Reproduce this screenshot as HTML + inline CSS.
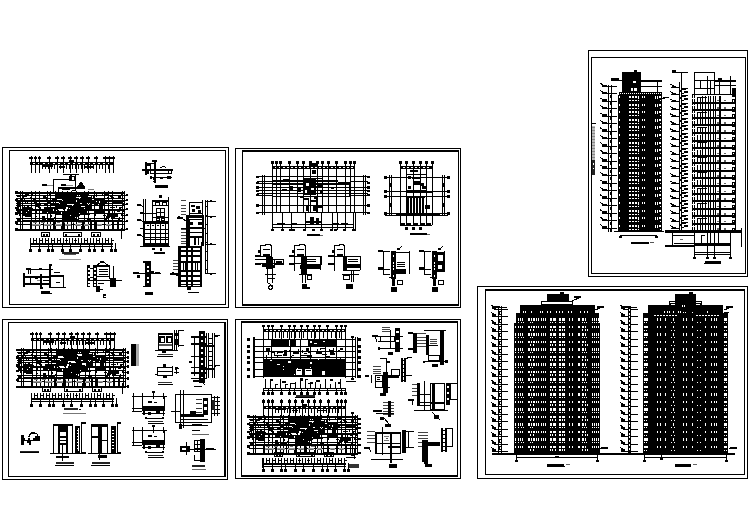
<!DOCTYPE html>
<html><head><meta charset="utf-8"><style>
html,body{margin:0;padding:0;background:#fff;width:749px;height:530px;overflow:hidden}
svg{display:block} rect{fill:#000} rect.w{fill:#fff} rect.o{fill:none;stroke:#000;stroke-width:1} line{stroke:#000;stroke-width:1}
</style></head><body>
<svg width="749" height="530" viewBox="0 0 749 530" shape-rendering="crispEdges">
<rect x="2.5" y="147.5" width="226" height="160" class="o"/>
<rect x="9.5" y="150.5" width="216" height="154" class="o"/>
<rect x="235.5" y="148.5" width="225" height="159" class="o"/>
<rect x="242.5" y="150.5" width="216" height="154" class="o"/>
<rect x="2.5" y="319.5" width="225" height="160" class="o"/>
<rect x="8.5" y="322.5" width="216" height="154" class="o"/>
<rect x="235.5" y="319.5" width="225" height="159" class="o"/>
<rect x="241.5" y="321.5" width="216" height="154" class="o"/>
<rect x="588.5" y="50.5" width="159" height="226" class="o"/>
<rect x="591.5" y="57.5" width="154" height="216" class="o"/>
<rect x="477.5" y="286.5" width="270" height="192" class="o"/>
<rect x="485.5" y="289.5" width="259" height="185" class="o"/>
<rect x="242" y="150" width="217" height="2"/>
<rect x="242" y="304" width="217" height="2"/>
<rect x="241" y="321" width="217" height="2"/>
<rect x="241" y="475" width="217" height="2"/>
<rect x="485" y="289" width="260" height="2"/>
<rect x="224" y="322" width="2" height="155"/>
<rect x="591" y="123" width="5" height="1"/>
<rect x="592" y="126" width="3" height="34" style="fill:#bbb"/>
<rect x="592" y="127" width="3" height="1" style="fill:#888"/>
<rect x="592" y="130" width="3" height="1" style="fill:#888"/>
<rect x="592" y="133" width="3" height="1" style="fill:#888"/>
<rect x="592" y="136" width="3" height="1" style="fill:#888"/>
<rect x="592" y="139" width="3" height="1" style="fill:#888"/>
<rect x="592" y="142" width="3" height="1" style="fill:#888"/>
<rect x="592" y="145" width="3" height="1" style="fill:#888"/>
<rect x="592" y="148" width="3" height="1" style="fill:#888"/>
<rect x="592" y="151" width="3" height="1" style="fill:#888"/>
<rect x="592" y="154" width="3" height="1" style="fill:#888"/>
<rect x="592" y="157" width="3" height="1" style="fill:#888"/>
<rect x="592" y="160" width="3" height="15" style="fill:#222"/>
<rect x="593" y="163" width="1" height="2" class="w"/>
<rect x="593" y="168" width="1" height="1" class="w"/>
<rect x="602" y="84.5" width="4.5" height="2.5"/>
<line x1="600" y1="83" x2="604" y2="85.5"/>
<line x1="602" y1="86.5" x2="617" y2="86.5"/>
<rect x="602" y="91.95" width="4.5" height="2.5"/>
<line x1="600" y1="90.45" x2="604" y2="92.95"/>
<line x1="602" y1="93.95" x2="617" y2="93.95"/>
<rect x="602" y="99.4" width="4.5" height="2.5"/>
<line x1="600" y1="97.9" x2="604" y2="100.4"/>
<line x1="602" y1="101.4" x2="617" y2="101.4"/>
<rect x="602" y="106.85" width="4.5" height="2.5"/>
<line x1="600" y1="105.35" x2="604" y2="107.85"/>
<line x1="602" y1="108.85" x2="617" y2="108.85"/>
<rect x="602" y="114.3" width="4.5" height="2.5"/>
<line x1="600" y1="112.8" x2="604" y2="115.3"/>
<line x1="602" y1="116.3" x2="617" y2="116.3"/>
<rect x="602" y="121.75" width="4.5" height="2.5"/>
<line x1="600" y1="120.25" x2="604" y2="122.75"/>
<line x1="602" y1="123.75" x2="617" y2="123.75"/>
<rect x="602" y="129.2" width="4.5" height="2.5"/>
<line x1="600" y1="127.7" x2="604" y2="130.2"/>
<line x1="602" y1="131.2" x2="617" y2="131.2"/>
<rect x="602" y="136.65" width="4.5" height="2.5"/>
<line x1="600" y1="135.15" x2="604" y2="137.65"/>
<line x1="602" y1="138.65" x2="617" y2="138.65"/>
<rect x="602" y="144.1" width="4.5" height="2.5"/>
<line x1="600" y1="142.6" x2="604" y2="145.1"/>
<line x1="602" y1="146.1" x2="617" y2="146.1"/>
<rect x="602" y="151.55" width="4.5" height="2.5"/>
<line x1="600" y1="150.05" x2="604" y2="152.55"/>
<line x1="602" y1="153.55" x2="617" y2="153.55"/>
<rect x="602" y="159" width="4.5" height="2.5"/>
<line x1="600" y1="157.5" x2="604" y2="160"/>
<line x1="602" y1="161" x2="617" y2="161"/>
<rect x="602" y="166.45" width="4.5" height="2.5"/>
<line x1="600" y1="164.95" x2="604" y2="167.45"/>
<line x1="602" y1="168.45" x2="617" y2="168.45"/>
<rect x="602" y="173.9" width="4.5" height="2.5"/>
<line x1="600" y1="172.4" x2="604" y2="174.9"/>
<line x1="602" y1="175.9" x2="617" y2="175.9"/>
<rect x="602" y="181.35" width="4.5" height="2.5"/>
<line x1="600" y1="179.85" x2="604" y2="182.35"/>
<line x1="602" y1="183.35" x2="617" y2="183.35"/>
<rect x="602" y="188.8" width="4.5" height="2.5"/>
<line x1="600" y1="187.3" x2="604" y2="189.8"/>
<line x1="602" y1="190.8" x2="617" y2="190.8"/>
<rect x="602" y="196.25" width="4.5" height="2.5"/>
<line x1="600" y1="194.75" x2="604" y2="197.25"/>
<line x1="602" y1="198.25" x2="617" y2="198.25"/>
<rect x="602" y="203.7" width="4.5" height="2.5"/>
<line x1="600" y1="202.2" x2="604" y2="204.7"/>
<line x1="602" y1="205.7" x2="617" y2="205.7"/>
<rect x="602" y="211.15" width="4.5" height="2.5"/>
<line x1="600" y1="209.65" x2="604" y2="212.15"/>
<line x1="602" y1="213.15" x2="617" y2="213.15"/>
<rect x="602" y="218.6" width="4.5" height="2.5"/>
<line x1="600" y1="217.1" x2="604" y2="219.6"/>
<line x1="602" y1="220.6" x2="617" y2="220.6"/>
<rect x="602" y="226.05" width="4.5" height="2.5"/>
<line x1="600" y1="224.55" x2="604" y2="227.05"/>
<line x1="602" y1="228.05" x2="617" y2="228.05"/>
<rect x="611" y="78" width="8" height="2"/>
<line x1="611" y1="80.5" x2="622" y2="80.5"/>
<line x1="608.5" y1="85" x2="608.5" y2="232"/>
<line x1="611.5" y1="85" x2="611.5" y2="232"/>
<line x1="618.5" y1="95" x2="618.5" y2="232"/>
<line x1="610.5" y1="95" x2="610.5" y2="98"/>
<line x1="610" y1="95.5" x2="612" y2="95.5"/>
<line x1="610.5" y1="102.45" x2="610.5" y2="105.45"/>
<line x1="610" y1="102.95" x2="612" y2="102.95"/>
<line x1="610.5" y1="109.9" x2="610.5" y2="112.9"/>
<line x1="610" y1="110.4" x2="612" y2="110.4"/>
<line x1="610.5" y1="117.35" x2="610.5" y2="120.35"/>
<line x1="610" y1="117.85" x2="612" y2="117.85"/>
<line x1="610.5" y1="124.8" x2="610.5" y2="127.8"/>
<line x1="610" y1="125.3" x2="612" y2="125.3"/>
<line x1="610.5" y1="132.25" x2="610.5" y2="135.25"/>
<line x1="610" y1="132.75" x2="612" y2="132.75"/>
<line x1="610.5" y1="139.7" x2="610.5" y2="142.7"/>
<line x1="610" y1="140.2" x2="612" y2="140.2"/>
<line x1="610.5" y1="147.15" x2="610.5" y2="150.15"/>
<line x1="610" y1="147.65" x2="612" y2="147.65"/>
<line x1="610.5" y1="154.6" x2="610.5" y2="157.6"/>
<line x1="610" y1="155.1" x2="612" y2="155.1"/>
<line x1="610.5" y1="162.05" x2="610.5" y2="165.05"/>
<line x1="610" y1="162.55" x2="612" y2="162.55"/>
<line x1="610.5" y1="169.5" x2="610.5" y2="172.5"/>
<line x1="610" y1="170" x2="612" y2="170"/>
<line x1="610.5" y1="176.95" x2="610.5" y2="179.95"/>
<line x1="610" y1="177.45" x2="612" y2="177.45"/>
<line x1="610.5" y1="184.4" x2="610.5" y2="187.4"/>
<line x1="610" y1="184.9" x2="612" y2="184.9"/>
<line x1="610.5" y1="191.85" x2="610.5" y2="194.85"/>
<line x1="610" y1="192.35" x2="612" y2="192.35"/>
<line x1="610.5" y1="199.3" x2="610.5" y2="202.3"/>
<line x1="610" y1="199.8" x2="612" y2="199.8"/>
<line x1="610.5" y1="206.75" x2="610.5" y2="209.75"/>
<line x1="610" y1="207.25" x2="612" y2="207.25"/>
<line x1="610.5" y1="214.2" x2="610.5" y2="217.2"/>
<line x1="610" y1="214.7" x2="612" y2="214.7"/>
<line x1="610.5" y1="221.65" x2="610.5" y2="224.65"/>
<line x1="610" y1="222.15" x2="612" y2="222.15"/>
<line x1="610.5" y1="229.1" x2="610.5" y2="232.1"/>
<line x1="610" y1="229.6" x2="612" y2="229.6"/>
<rect x="619" y="92" width="43" height="140"/>
<rect x="622" y="72" width="19" height="20"/>
<rect x="634" y="70" width="3" height="2"/>
<rect x="641" y="80" width="21" height="2"/>
<line x1="657.5" y1="82" x2="657.5" y2="92"/>
<line x1="641" y1="86.5" x2="662" y2="86.5"/>
<rect x="644" y="87" width="8" height="4" class="w"/>
<rect x="653" y="87" width="4" height="4" class="w"/>
<rect x="658" y="87" width="3" height="2" class="w"/>
<rect x="643" y="82" width="14" height="1.5" class="w"/>
<rect x="633" y="81" width="3" height="2" class="w"/>
<rect x="631" y="88" width="2" height="3" class="w"/>
<rect x="634" y="88" width="3" height="3" class="w"/>
<rect x="620" y="92.5" width="1" height="1" class="w"/>
<rect x="622" y="92.5" width="1" height="1" class="w"/>
<rect x="624" y="92.5" width="1" height="1" class="w"/>
<rect x="626" y="92.5" width="1" height="1" class="w"/>
<rect x="628" y="92.5" width="1" height="1" class="w"/>
<rect x="630" y="92.5" width="1" height="1" class="w"/>
<rect x="632" y="92.5" width="1" height="1" class="w"/>
<rect x="634" y="92.5" width="1" height="1" class="w"/>
<rect x="636" y="92.5" width="1" height="1" class="w"/>
<rect x="638" y="92.5" width="1" height="1" class="w"/>
<rect x="640" y="92.5" width="1" height="1" class="w"/>
<rect x="642" y="92.5" width="1" height="1" class="w"/>
<rect x="644" y="92.5" width="1" height="1" class="w"/>
<rect x="646" y="92.5" width="1" height="1" class="w"/>
<rect x="648" y="92.5" width="1" height="1" class="w"/>
<rect x="650" y="92.5" width="1" height="1" class="w"/>
<rect x="652" y="92.5" width="1" height="1" class="w"/>
<rect x="654" y="92.5" width="1" height="1" class="w"/>
<rect x="656" y="92.5" width="1" height="1" class="w"/>
<rect x="658" y="92.5" width="1" height="1" class="w"/>
<rect x="660" y="92.5" width="1" height="1" class="w"/>
<rect x="629" y="96" width="2" height="2" class="w"/>
<rect x="632" y="96" width="2" height="2" class="w"/>
<rect x="635" y="96" width="2" height="2" class="w"/>
<rect x="638" y="96" width="1" height="3" class="w"/>
<rect x="642" y="96" width="1" height="2" class="w"/>
<rect x="644" y="96" width="1" height="2" class="w"/>
<rect x="655" y="95.5" width="1" height="3" class="w"/>
<rect x="657" y="95.5" width="1" height="3" class="w"/>
<rect x="659" y="95.5" width="2" height="2.5" class="w"/>
<rect x="629" y="100" width="2" height="1" class="w"/>
<rect x="632" y="100" width="2" height="1" class="w"/>
<rect x="635" y="100" width="2" height="1" class="w"/>
<rect x="638" y="100" width="1" height="1" class="w"/>
<rect x="619" y="96" width="1" height="2" class="w"/>
<rect x="660" y="100" width="1" height="1" class="w"/>
<rect x="629" y="104" width="2" height="2" class="w"/>
<rect x="632" y="104" width="2" height="2" class="w"/>
<rect x="635" y="104" width="2" height="2" class="w"/>
<rect x="638" y="104" width="1" height="3" class="w"/>
<rect x="642" y="104" width="1" height="2" class="w"/>
<rect x="644" y="104" width="1" height="2" class="w"/>
<rect x="655" y="103.5" width="1" height="3" class="w"/>
<rect x="657" y="103.5" width="1" height="3" class="w"/>
<rect x="659" y="103.5" width="2" height="2.5" class="w"/>
<rect x="629" y="108" width="2" height="1" class="w"/>
<rect x="632" y="108" width="2" height="1" class="w"/>
<rect x="635" y="108" width="2" height="1" class="w"/>
<rect x="638" y="108" width="1" height="1" class="w"/>
<rect x="619" y="104" width="1" height="2" class="w"/>
<rect x="660" y="108" width="1" height="1" class="w"/>
<rect x="629" y="111" width="2" height="2" class="w"/>
<rect x="632" y="111" width="2" height="2" class="w"/>
<rect x="635" y="111" width="2" height="2" class="w"/>
<rect x="638" y="111" width="1" height="3" class="w"/>
<rect x="642" y="111" width="1" height="2" class="w"/>
<rect x="644" y="111" width="1" height="2" class="w"/>
<rect x="655" y="110.5" width="1" height="3" class="w"/>
<rect x="657" y="110.5" width="1" height="3" class="w"/>
<rect x="659" y="110.5" width="2" height="2.5" class="w"/>
<rect x="629" y="115" width="2" height="1" class="w"/>
<rect x="632" y="115" width="2" height="1" class="w"/>
<rect x="635" y="115" width="2" height="1" class="w"/>
<rect x="638" y="115" width="1" height="1" class="w"/>
<rect x="619" y="111" width="1" height="2" class="w"/>
<rect x="660" y="115" width="1" height="1" class="w"/>
<rect x="629" y="119" width="2" height="2" class="w"/>
<rect x="632" y="119" width="2" height="2" class="w"/>
<rect x="635" y="119" width="2" height="2" class="w"/>
<rect x="638" y="119" width="1" height="3" class="w"/>
<rect x="642" y="119" width="1" height="2" class="w"/>
<rect x="644" y="119" width="1" height="2" class="w"/>
<rect x="655" y="118.5" width="1" height="3" class="w"/>
<rect x="657" y="118.5" width="1" height="3" class="w"/>
<rect x="659" y="118.5" width="2" height="2.5" class="w"/>
<rect x="629" y="123" width="2" height="1" class="w"/>
<rect x="632" y="123" width="2" height="1" class="w"/>
<rect x="635" y="123" width="2" height="1" class="w"/>
<rect x="638" y="123" width="1" height="1" class="w"/>
<rect x="619" y="119" width="1" height="2" class="w"/>
<rect x="660" y="123" width="1" height="1" class="w"/>
<rect x="629" y="126" width="2" height="2" class="w"/>
<rect x="632" y="126" width="2" height="2" class="w"/>
<rect x="635" y="126" width="2" height="2" class="w"/>
<rect x="638" y="126" width="1" height="3" class="w"/>
<rect x="642" y="126" width="1" height="2" class="w"/>
<rect x="644" y="126" width="1" height="2" class="w"/>
<rect x="655" y="125.5" width="1" height="3" class="w"/>
<rect x="657" y="125.5" width="1" height="3" class="w"/>
<rect x="659" y="125.5" width="2" height="2.5" class="w"/>
<rect x="629" y="130" width="2" height="1" class="w"/>
<rect x="632" y="130" width="2" height="1" class="w"/>
<rect x="635" y="130" width="2" height="1" class="w"/>
<rect x="638" y="130" width="1" height="1" class="w"/>
<rect x="619" y="126" width="1" height="2" class="w"/>
<rect x="660" y="130" width="1" height="1" class="w"/>
<rect x="629" y="134" width="2" height="2" class="w"/>
<rect x="632" y="134" width="2" height="2" class="w"/>
<rect x="635" y="134" width="2" height="2" class="w"/>
<rect x="638" y="134" width="1" height="3" class="w"/>
<rect x="642" y="134" width="1" height="2" class="w"/>
<rect x="644" y="134" width="1" height="2" class="w"/>
<rect x="655" y="133.5" width="1" height="3" class="w"/>
<rect x="657" y="133.5" width="1" height="3" class="w"/>
<rect x="659" y="133.5" width="2" height="2.5" class="w"/>
<rect x="629" y="138" width="2" height="1" class="w"/>
<rect x="632" y="138" width="2" height="1" class="w"/>
<rect x="635" y="138" width="2" height="1" class="w"/>
<rect x="638" y="138" width="1" height="1" class="w"/>
<rect x="619" y="134" width="1" height="2" class="w"/>
<rect x="660" y="138" width="1" height="1" class="w"/>
<rect x="629" y="142" width="2" height="2" class="w"/>
<rect x="632" y="142" width="2" height="2" class="w"/>
<rect x="635" y="142" width="2" height="2" class="w"/>
<rect x="638" y="142" width="1" height="3" class="w"/>
<rect x="642" y="142" width="1" height="2" class="w"/>
<rect x="644" y="142" width="1" height="2" class="w"/>
<rect x="655" y="141.5" width="1" height="3" class="w"/>
<rect x="657" y="141.5" width="1" height="3" class="w"/>
<rect x="659" y="141.5" width="2" height="2.5" class="w"/>
<rect x="629" y="146" width="2" height="1" class="w"/>
<rect x="632" y="146" width="2" height="1" class="w"/>
<rect x="635" y="146" width="2" height="1" class="w"/>
<rect x="638" y="146" width="1" height="1" class="w"/>
<rect x="619" y="142" width="1" height="2" class="w"/>
<rect x="660" y="146" width="1" height="1" class="w"/>
<rect x="629" y="149" width="2" height="2" class="w"/>
<rect x="632" y="149" width="2" height="2" class="w"/>
<rect x="635" y="149" width="2" height="2" class="w"/>
<rect x="638" y="149" width="1" height="3" class="w"/>
<rect x="642" y="149" width="1" height="2" class="w"/>
<rect x="644" y="149" width="1" height="2" class="w"/>
<rect x="655" y="148.5" width="1" height="3" class="w"/>
<rect x="657" y="148.5" width="1" height="3" class="w"/>
<rect x="659" y="148.5" width="2" height="2.5" class="w"/>
<rect x="629" y="153" width="2" height="1" class="w"/>
<rect x="632" y="153" width="2" height="1" class="w"/>
<rect x="635" y="153" width="2" height="1" class="w"/>
<rect x="638" y="153" width="1" height="1" class="w"/>
<rect x="619" y="149" width="1" height="2" class="w"/>
<rect x="660" y="153" width="1" height="1" class="w"/>
<rect x="629" y="157" width="2" height="2" class="w"/>
<rect x="632" y="157" width="2" height="2" class="w"/>
<rect x="635" y="157" width="2" height="2" class="w"/>
<rect x="638" y="157" width="1" height="3" class="w"/>
<rect x="642" y="157" width="1" height="2" class="w"/>
<rect x="644" y="157" width="1" height="2" class="w"/>
<rect x="655" y="156.5" width="1" height="3" class="w"/>
<rect x="657" y="156.5" width="1" height="3" class="w"/>
<rect x="659" y="156.5" width="2" height="2.5" class="w"/>
<rect x="629" y="161" width="2" height="1" class="w"/>
<rect x="632" y="161" width="2" height="1" class="w"/>
<rect x="635" y="161" width="2" height="1" class="w"/>
<rect x="638" y="161" width="1" height="1" class="w"/>
<rect x="619" y="157" width="1" height="2" class="w"/>
<rect x="660" y="161" width="1" height="1" class="w"/>
<rect x="629" y="164" width="2" height="2" class="w"/>
<rect x="632" y="164" width="2" height="2" class="w"/>
<rect x="635" y="164" width="2" height="2" class="w"/>
<rect x="638" y="164" width="1" height="3" class="w"/>
<rect x="642" y="164" width="1" height="2" class="w"/>
<rect x="644" y="164" width="1" height="2" class="w"/>
<rect x="655" y="163.5" width="1" height="3" class="w"/>
<rect x="657" y="163.5" width="1" height="3" class="w"/>
<rect x="659" y="163.5" width="2" height="2.5" class="w"/>
<rect x="629" y="168" width="2" height="1" class="w"/>
<rect x="632" y="168" width="2" height="1" class="w"/>
<rect x="635" y="168" width="2" height="1" class="w"/>
<rect x="638" y="168" width="1" height="1" class="w"/>
<rect x="619" y="164" width="1" height="2" class="w"/>
<rect x="660" y="168" width="1" height="1" class="w"/>
<rect x="629" y="172" width="2" height="2" class="w"/>
<rect x="632" y="172" width="2" height="2" class="w"/>
<rect x="635" y="172" width="2" height="2" class="w"/>
<rect x="638" y="172" width="1" height="3" class="w"/>
<rect x="642" y="172" width="1" height="2" class="w"/>
<rect x="644" y="172" width="1" height="2" class="w"/>
<rect x="655" y="171.5" width="1" height="3" class="w"/>
<rect x="657" y="171.5" width="1" height="3" class="w"/>
<rect x="659" y="171.5" width="2" height="2.5" class="w"/>
<rect x="629" y="176" width="2" height="1" class="w"/>
<rect x="632" y="176" width="2" height="1" class="w"/>
<rect x="635" y="176" width="2" height="1" class="w"/>
<rect x="638" y="176" width="1" height="1" class="w"/>
<rect x="619" y="172" width="1" height="2" class="w"/>
<rect x="660" y="176" width="1" height="1" class="w"/>
<rect x="629" y="179" width="2" height="2" class="w"/>
<rect x="632" y="179" width="2" height="2" class="w"/>
<rect x="635" y="179" width="2" height="2" class="w"/>
<rect x="638" y="179" width="1" height="3" class="w"/>
<rect x="642" y="179" width="1" height="2" class="w"/>
<rect x="644" y="179" width="1" height="2" class="w"/>
<rect x="655" y="178.5" width="1" height="3" class="w"/>
<rect x="657" y="178.5" width="1" height="3" class="w"/>
<rect x="659" y="178.5" width="2" height="2.5" class="w"/>
<rect x="629" y="183" width="2" height="1" class="w"/>
<rect x="632" y="183" width="2" height="1" class="w"/>
<rect x="635" y="183" width="2" height="1" class="w"/>
<rect x="638" y="183" width="1" height="1" class="w"/>
<rect x="619" y="179" width="1" height="2" class="w"/>
<rect x="660" y="183" width="1" height="1" class="w"/>
<rect x="629" y="187" width="2" height="2" class="w"/>
<rect x="632" y="187" width="2" height="2" class="w"/>
<rect x="635" y="187" width="2" height="2" class="w"/>
<rect x="638" y="187" width="1" height="3" class="w"/>
<rect x="642" y="187" width="1" height="2" class="w"/>
<rect x="644" y="187" width="1" height="2" class="w"/>
<rect x="655" y="186.5" width="1" height="3" class="w"/>
<rect x="657" y="186.5" width="1" height="3" class="w"/>
<rect x="659" y="186.5" width="2" height="2.5" class="w"/>
<rect x="629" y="191" width="2" height="1" class="w"/>
<rect x="632" y="191" width="2" height="1" class="w"/>
<rect x="635" y="191" width="2" height="1" class="w"/>
<rect x="638" y="191" width="1" height="1" class="w"/>
<rect x="619" y="187" width="1" height="2" class="w"/>
<rect x="660" y="191" width="1" height="1" class="w"/>
<rect x="629" y="194" width="2" height="2" class="w"/>
<rect x="632" y="194" width="2" height="2" class="w"/>
<rect x="635" y="194" width="2" height="2" class="w"/>
<rect x="638" y="194" width="1" height="3" class="w"/>
<rect x="642" y="194" width="1" height="2" class="w"/>
<rect x="644" y="194" width="1" height="2" class="w"/>
<rect x="655" y="193.5" width="1" height="3" class="w"/>
<rect x="657" y="193.5" width="1" height="3" class="w"/>
<rect x="659" y="193.5" width="2" height="2.5" class="w"/>
<rect x="629" y="198" width="2" height="1" class="w"/>
<rect x="632" y="198" width="2" height="1" class="w"/>
<rect x="635" y="198" width="2" height="1" class="w"/>
<rect x="638" y="198" width="1" height="1" class="w"/>
<rect x="619" y="194" width="1" height="2" class="w"/>
<rect x="660" y="198" width="1" height="1" class="w"/>
<rect x="629" y="202" width="2" height="2" class="w"/>
<rect x="632" y="202" width="2" height="2" class="w"/>
<rect x="635" y="202" width="2" height="2" class="w"/>
<rect x="638" y="202" width="1" height="3" class="w"/>
<rect x="642" y="202" width="1" height="2" class="w"/>
<rect x="644" y="202" width="1" height="2" class="w"/>
<rect x="655" y="201.5" width="1" height="3" class="w"/>
<rect x="657" y="201.5" width="1" height="3" class="w"/>
<rect x="659" y="201.5" width="2" height="2.5" class="w"/>
<rect x="629" y="206" width="2" height="1" class="w"/>
<rect x="632" y="206" width="2" height="1" class="w"/>
<rect x="635" y="206" width="2" height="1" class="w"/>
<rect x="638" y="206" width="1" height="1" class="w"/>
<rect x="619" y="202" width="1" height="2" class="w"/>
<rect x="660" y="206" width="1" height="1" class="w"/>
<rect x="629" y="210" width="2" height="2" class="w"/>
<rect x="632" y="210" width="2" height="2" class="w"/>
<rect x="635" y="210" width="2" height="2" class="w"/>
<rect x="638" y="210" width="1" height="3" class="w"/>
<rect x="642" y="210" width="1" height="2" class="w"/>
<rect x="644" y="210" width="1" height="2" class="w"/>
<rect x="655" y="209.5" width="1" height="3" class="w"/>
<rect x="657" y="209.5" width="1" height="3" class="w"/>
<rect x="659" y="209.5" width="2" height="2.5" class="w"/>
<rect x="629" y="214" width="2" height="1" class="w"/>
<rect x="632" y="214" width="2" height="1" class="w"/>
<rect x="635" y="214" width="2" height="1" class="w"/>
<rect x="638" y="214" width="1" height="1" class="w"/>
<rect x="619" y="210" width="1" height="2" class="w"/>
<rect x="660" y="214" width="1" height="1" class="w"/>
<rect x="629" y="217" width="2" height="2" class="w"/>
<rect x="632" y="217" width="2" height="2" class="w"/>
<rect x="635" y="217" width="2" height="2" class="w"/>
<rect x="638" y="217" width="1" height="3" class="w"/>
<rect x="642" y="217" width="1" height="2" class="w"/>
<rect x="644" y="217" width="1" height="2" class="w"/>
<rect x="655" y="216.5" width="1" height="3" class="w"/>
<rect x="657" y="216.5" width="1" height="3" class="w"/>
<rect x="659" y="216.5" width="2" height="2.5" class="w"/>
<rect x="629" y="221" width="2" height="1" class="w"/>
<rect x="632" y="221" width="2" height="1" class="w"/>
<rect x="635" y="221" width="2" height="1" class="w"/>
<rect x="638" y="221" width="1" height="1" class="w"/>
<rect x="619" y="217" width="1" height="2" class="w"/>
<rect x="660" y="221" width="1" height="1" class="w"/>
<rect x="629" y="225" width="2" height="2" class="w"/>
<rect x="632" y="225" width="2" height="2" class="w"/>
<rect x="635" y="225" width="2" height="2" class="w"/>
<rect x="638" y="225" width="1" height="3" class="w"/>
<rect x="642" y="225" width="1" height="2" class="w"/>
<rect x="644" y="225" width="1" height="2" class="w"/>
<rect x="655" y="224.5" width="1" height="3" class="w"/>
<rect x="657" y="224.5" width="1" height="3" class="w"/>
<rect x="659" y="224.5" width="2" height="2.5" class="w"/>
<rect x="629" y="229" width="2" height="1" class="w"/>
<rect x="632" y="229" width="2" height="1" class="w"/>
<rect x="635" y="229" width="2" height="1" class="w"/>
<rect x="638" y="229" width="1" height="1" class="w"/>
<rect x="619" y="225" width="1" height="2" class="w"/>
<rect x="660" y="229" width="1" height="1" class="w"/>
<line x1="614" y1="231.5" x2="664" y2="231.5"/>
<line x1="620" y1="235.5" x2="657" y2="235.5"/>
<rect x="619" y="236" width="3" height="2"/>
<rect x="655" y="236" width="3" height="2"/>
<rect x="631" y="242" width="18" height="2"/>
<rect x="650" y="242" width="4" height="1" style="fill:#555"/>
<line x1="662" y1="98.5" x2="669" y2="97.5"/>
<rect x="663" y="96.5" width="6" height="1.5"/>
<rect x="672" y="85.5" width="4" height="2"/>
<line x1="670" y1="84" x2="674" y2="86"/>
<line x1="671" y1="87" x2="680" y2="87"/>
<rect x="672" y="92.95" width="4" height="2"/>
<line x1="670" y1="91.45" x2="674" y2="93.45"/>
<line x1="671" y1="94.45" x2="680" y2="94.45"/>
<rect x="672" y="100.4" width="4" height="2"/>
<line x1="670" y1="98.9" x2="674" y2="100.9"/>
<line x1="671" y1="101.9" x2="680" y2="101.9"/>
<rect x="672" y="107.85" width="4" height="2"/>
<line x1="670" y1="106.35" x2="674" y2="108.35"/>
<line x1="671" y1="109.35" x2="680" y2="109.35"/>
<rect x="672" y="115.3" width="4" height="2"/>
<line x1="670" y1="113.8" x2="674" y2="115.8"/>
<line x1="671" y1="116.8" x2="680" y2="116.8"/>
<rect x="672" y="122.75" width="4" height="2"/>
<line x1="670" y1="121.25" x2="674" y2="123.25"/>
<line x1="671" y1="124.25" x2="680" y2="124.25"/>
<rect x="672" y="130.2" width="4" height="2"/>
<line x1="670" y1="128.7" x2="674" y2="130.7"/>
<line x1="671" y1="131.7" x2="680" y2="131.7"/>
<rect x="672" y="137.65" width="4" height="2"/>
<line x1="670" y1="136.15" x2="674" y2="138.15"/>
<line x1="671" y1="139.15" x2="680" y2="139.15"/>
<rect x="672" y="145.1" width="4" height="2"/>
<line x1="670" y1="143.6" x2="674" y2="145.6"/>
<line x1="671" y1="146.6" x2="680" y2="146.6"/>
<rect x="672" y="152.55" width="4" height="2"/>
<line x1="670" y1="151.05" x2="674" y2="153.05"/>
<line x1="671" y1="154.05" x2="680" y2="154.05"/>
<rect x="672" y="160" width="4" height="2"/>
<line x1="670" y1="158.5" x2="674" y2="160.5"/>
<line x1="671" y1="161.5" x2="680" y2="161.5"/>
<rect x="672" y="167.45" width="4" height="2"/>
<line x1="670" y1="165.95" x2="674" y2="167.95"/>
<line x1="671" y1="168.95" x2="680" y2="168.95"/>
<rect x="672" y="174.9" width="4" height="2"/>
<line x1="670" y1="173.4" x2="674" y2="175.4"/>
<line x1="671" y1="176.4" x2="680" y2="176.4"/>
<rect x="672" y="182.35" width="4" height="2"/>
<line x1="670" y1="180.85" x2="674" y2="182.85"/>
<line x1="671" y1="183.85" x2="680" y2="183.85"/>
<rect x="672" y="189.8" width="4" height="2"/>
<line x1="670" y1="188.3" x2="674" y2="190.3"/>
<line x1="671" y1="191.3" x2="680" y2="191.3"/>
<rect x="672" y="197.25" width="4" height="2"/>
<line x1="670" y1="195.75" x2="674" y2="197.75"/>
<line x1="671" y1="198.75" x2="680" y2="198.75"/>
<rect x="672" y="204.7" width="4" height="2"/>
<line x1="670" y1="203.2" x2="674" y2="205.2"/>
<line x1="671" y1="206.2" x2="680" y2="206.2"/>
<rect x="672" y="212.15" width="4" height="2"/>
<line x1="670" y1="210.65" x2="674" y2="212.65"/>
<line x1="671" y1="213.65" x2="680" y2="213.65"/>
<rect x="672" y="219.6" width="4" height="2"/>
<line x1="670" y1="218.1" x2="674" y2="220.1"/>
<line x1="671" y1="221.1" x2="680" y2="221.1"/>
<rect x="672" y="227.05" width="4" height="2"/>
<line x1="670" y1="225.55" x2="674" y2="227.55"/>
<line x1="671" y1="228.55" x2="680" y2="228.55"/>
<rect x="672" y="70" width="4" height="2.5"/>
<line x1="672" y1="72.5" x2="688" y2="72.5"/>
<line x1="681.5" y1="72" x2="681.5" y2="232"/>
<line x1="679.5" y1="82" x2="679.5" y2="232"/>
<rect x="682" y="88" width="4" height="2"/>
<rect x="684" y="91" width="4" height="2"/>
<rect x="682" y="93" width="2" height="1"/>
<rect x="680" y="90" width="1" height="2"/>
<rect x="686" y="88" width="2" height="1"/>
<rect x="682" y="95.45" width="4" height="2"/>
<rect x="684" y="98.45" width="4" height="2"/>
<rect x="682" y="100.45" width="2" height="1"/>
<rect x="680" y="97.45" width="1" height="2"/>
<rect x="686" y="95.45" width="2" height="1"/>
<rect x="682" y="102.9" width="4" height="2"/>
<rect x="684" y="105.9" width="4" height="2"/>
<rect x="682" y="107.9" width="2" height="1"/>
<rect x="680" y="104.9" width="1" height="2"/>
<rect x="686" y="102.9" width="2" height="1"/>
<rect x="682" y="110.35" width="4" height="2"/>
<rect x="684" y="113.35" width="4" height="2"/>
<rect x="682" y="115.35" width="2" height="1"/>
<rect x="680" y="112.35" width="1" height="2"/>
<rect x="686" y="110.35" width="2" height="1"/>
<rect x="682" y="117.8" width="4" height="2"/>
<rect x="684" y="120.8" width="4" height="2"/>
<rect x="682" y="122.8" width="2" height="1"/>
<rect x="680" y="119.8" width="1" height="2"/>
<rect x="686" y="117.8" width="2" height="1"/>
<rect x="682" y="125.25" width="4" height="2"/>
<rect x="684" y="128.25" width="4" height="2"/>
<rect x="682" y="130.25" width="2" height="1"/>
<rect x="680" y="127.25" width="1" height="2"/>
<rect x="686" y="125.25" width="2" height="1"/>
<rect x="682" y="132.7" width="4" height="2"/>
<rect x="684" y="135.7" width="4" height="2"/>
<rect x="682" y="137.7" width="2" height="1"/>
<rect x="680" y="134.7" width="1" height="2"/>
<rect x="686" y="132.7" width="2" height="1"/>
<rect x="682" y="140.15" width="4" height="2"/>
<rect x="684" y="143.15" width="4" height="2"/>
<rect x="682" y="145.15" width="2" height="1"/>
<rect x="680" y="142.15" width="1" height="2"/>
<rect x="686" y="140.15" width="2" height="1"/>
<rect x="682" y="147.6" width="4" height="2"/>
<rect x="684" y="150.6" width="4" height="2"/>
<rect x="682" y="152.6" width="2" height="1"/>
<rect x="680" y="149.6" width="1" height="2"/>
<rect x="686" y="147.6" width="2" height="1"/>
<rect x="682" y="155.05" width="4" height="2"/>
<rect x="684" y="158.05" width="4" height="2"/>
<rect x="682" y="160.05" width="2" height="1"/>
<rect x="680" y="157.05" width="1" height="2"/>
<rect x="686" y="155.05" width="2" height="1"/>
<rect x="682" y="162.5" width="4" height="2"/>
<rect x="684" y="165.5" width="4" height="2"/>
<rect x="682" y="167.5" width="2" height="1"/>
<rect x="680" y="164.5" width="1" height="2"/>
<rect x="686" y="162.5" width="2" height="1"/>
<rect x="682" y="169.95" width="4" height="2"/>
<rect x="684" y="172.95" width="4" height="2"/>
<rect x="682" y="174.95" width="2" height="1"/>
<rect x="680" y="171.95" width="1" height="2"/>
<rect x="686" y="169.95" width="2" height="1"/>
<rect x="682" y="177.4" width="4" height="2"/>
<rect x="684" y="180.4" width="4" height="2"/>
<rect x="682" y="182.4" width="2" height="1"/>
<rect x="680" y="179.4" width="1" height="2"/>
<rect x="686" y="177.4" width="2" height="1"/>
<rect x="682" y="184.85" width="4" height="2"/>
<rect x="684" y="187.85" width="4" height="2"/>
<rect x="682" y="189.85" width="2" height="1"/>
<rect x="680" y="186.85" width="1" height="2"/>
<rect x="686" y="184.85" width="2" height="1"/>
<rect x="682" y="192.3" width="4" height="2"/>
<rect x="684" y="195.3" width="4" height="2"/>
<rect x="682" y="197.3" width="2" height="1"/>
<rect x="680" y="194.3" width="1" height="2"/>
<rect x="686" y="192.3" width="2" height="1"/>
<rect x="682" y="199.75" width="4" height="2"/>
<rect x="684" y="202.75" width="4" height="2"/>
<rect x="682" y="204.75" width="2" height="1"/>
<rect x="680" y="201.75" width="1" height="2"/>
<rect x="686" y="199.75" width="2" height="1"/>
<rect x="682" y="207.2" width="4" height="2"/>
<rect x="684" y="210.2" width="4" height="2"/>
<rect x="682" y="212.2" width="2" height="1"/>
<rect x="680" y="209.2" width="1" height="2"/>
<rect x="686" y="207.2" width="2" height="1"/>
<rect x="682" y="214.65" width="4" height="2"/>
<rect x="684" y="217.65" width="4" height="2"/>
<rect x="682" y="219.65" width="2" height="1"/>
<rect x="680" y="216.65" width="1" height="2"/>
<rect x="686" y="214.65" width="2" height="1"/>
<rect x="682" y="222.1" width="4" height="2"/>
<rect x="684" y="225.1" width="4" height="2"/>
<rect x="682" y="227.1" width="2" height="1"/>
<rect x="680" y="224.1" width="1" height="2"/>
<rect x="686" y="222.1" width="2" height="1"/>
<rect x="694.5" y="72.5" width="20" height="8" class="o"/>
<line x1="694.5" y1="88.5" x2="714.5" y2="88.5"/>
<line x1="694.5" y1="80.5" x2="694.5" y2="94"/>
<line x1="700.5" y1="81" x2="700.5" y2="88"/>
<line x1="707.5" y1="76" x2="707.5" y2="94"/>
<line x1="710.5" y1="81" x2="710.5" y2="94"/>
<rect x="714" y="80" width="22" height="2"/>
<rect x="718" y="78" width="4" height="2"/>
<line x1="730.5" y1="76" x2="730.5" y2="94"/>
<line x1="714.5" y1="82" x2="714.5" y2="94"/>
<line x1="719.5" y1="82" x2="719.5" y2="94"/>
<line x1="714" y1="85.5" x2="736" y2="85.5"/>
<rect x="732" y="88" width="4" height="144"/>
<line x1="692.5" y1="94" x2="692.5" y2="230"/>
<line x1="694.5" y1="94" x2="694.5" y2="230"/>
<line x1="692" y1="94.5" x2="736" y2="94.5"/>
<rect x="692" y="101.8" width="44" height="2"/>
<line x1="702.5" y1="96.3" x2="702.5" y2="101.8"/>
<line x1="705.5" y1="96.3" x2="705.5" y2="101.8"/>
<line x1="697" y1="97.3" x2="707" y2="97.3"/>
<line x1="697.5" y1="96.8" x2="697.5" y2="101.8"/>
<line x1="700" y1="96.8" x2="700" y2="101.8"/>
<rect x="692" y="97.8" width="3" height="1" class="w"/>
<rect x="707.5" y="95.8" width="1.5" height="7"/>
<rect x="712.5" y="95.8" width="1.5" height="7"/>
<line x1="710.5" y1="95.8" x2="710.5" y2="101.8"/>
<line x1="715.5" y1="95.8" x2="715.5" y2="102.8"/>
<rect x="719" y="95.8" width="1.5" height="7"/>
<rect x="716.5" y="99.8" width="2" height="1.5" style="fill:#666"/>
<rect x="724" y="99.8" width="2" height="1.5" style="fill:#666"/>
<rect x="732" y="96.8" width="2.5" height="2.5" class="w"/>
<rect x="732.5" y="100.3" width="1.5" height="1.2" class="w"/>
<rect x="692" y="109.36" width="44" height="2"/>
<line x1="702.5" y1="103.86" x2="702.5" y2="109.36"/>
<line x1="705.5" y1="103.86" x2="705.5" y2="109.36"/>
<line x1="697.5" y1="104.36" x2="697.5" y2="109.36"/>
<line x1="700" y1="104.36" x2="700" y2="109.36"/>
<rect x="692" y="105.36" width="3" height="1" class="w"/>
<rect x="707.5" y="103.36" width="1.5" height="7"/>
<rect x="712.5" y="103.36" width="1.5" height="7"/>
<line x1="710.5" y1="103.36" x2="710.5" y2="109.36"/>
<line x1="715.5" y1="103.36" x2="715.5" y2="110.36"/>
<rect x="719" y="103.36" width="1.5" height="7"/>
<rect x="716.5" y="107.36" width="2" height="1.5" style="fill:#666"/>
<rect x="724" y="107.36" width="2" height="1.5" style="fill:#666"/>
<rect x="732" y="104.36" width="2.5" height="2.5" class="w"/>
<rect x="732.5" y="107.86" width="1.5" height="1.2" class="w"/>
<rect x="692" y="116.92" width="44" height="2"/>
<line x1="702.5" y1="111.42" x2="702.5" y2="116.92"/>
<line x1="705.5" y1="111.42" x2="705.5" y2="116.92"/>
<line x1="697" y1="112.42" x2="707" y2="112.42"/>
<line x1="697.5" y1="111.92" x2="697.5" y2="116.92"/>
<line x1="700" y1="111.92" x2="700" y2="116.92"/>
<rect x="692" y="112.92" width="3" height="1" class="w"/>
<rect x="707.5" y="110.92" width="1.5" height="7"/>
<rect x="712.5" y="110.92" width="1.5" height="7"/>
<line x1="710.5" y1="110.92" x2="710.5" y2="116.92"/>
<line x1="715.5" y1="110.92" x2="715.5" y2="117.92"/>
<rect x="719" y="110.92" width="1.5" height="7"/>
<rect x="716.5" y="114.92" width="2" height="1.5" style="fill:#666"/>
<rect x="724" y="114.92" width="2" height="1.5" style="fill:#666"/>
<rect x="732" y="111.92" width="2.5" height="2.5" class="w"/>
<rect x="732.5" y="115.42" width="1.5" height="1.2" class="w"/>
<rect x="692" y="124.48" width="44" height="2"/>
<line x1="702.5" y1="118.98" x2="702.5" y2="124.48"/>
<line x1="705.5" y1="118.98" x2="705.5" y2="124.48"/>
<line x1="697.5" y1="119.48" x2="697.5" y2="124.48"/>
<line x1="700" y1="119.48" x2="700" y2="124.48"/>
<rect x="692" y="120.48" width="3" height="1" class="w"/>
<rect x="707.5" y="118.48" width="1.5" height="7"/>
<rect x="712.5" y="118.48" width="1.5" height="7"/>
<line x1="710.5" y1="118.48" x2="710.5" y2="124.48"/>
<line x1="715.5" y1="118.48" x2="715.5" y2="125.48"/>
<rect x="719" y="118.48" width="1.5" height="7"/>
<rect x="716.5" y="122.48" width="2" height="1.5" style="fill:#666"/>
<rect x="724" y="122.48" width="2" height="1.5" style="fill:#666"/>
<rect x="732" y="119.48" width="2.5" height="2.5" class="w"/>
<rect x="732.5" y="122.98" width="1.5" height="1.2" class="w"/>
<rect x="692" y="132.04" width="44" height="2"/>
<line x1="702.5" y1="126.54" x2="702.5" y2="132.04"/>
<line x1="705.5" y1="126.54" x2="705.5" y2="132.04"/>
<line x1="697" y1="127.54" x2="707" y2="127.54"/>
<line x1="697.5" y1="127.04" x2="697.5" y2="132.04"/>
<line x1="700" y1="127.04" x2="700" y2="132.04"/>
<rect x="692" y="128.04" width="3" height="1" class="w"/>
<rect x="707.5" y="126.04" width="1.5" height="7"/>
<rect x="712.5" y="126.04" width="1.5" height="7"/>
<line x1="710.5" y1="126.04" x2="710.5" y2="132.04"/>
<line x1="715.5" y1="126.04" x2="715.5" y2="133.04"/>
<rect x="719" y="126.04" width="1.5" height="7"/>
<rect x="716.5" y="130.04" width="2" height="1.5" style="fill:#666"/>
<rect x="724" y="130.04" width="2" height="1.5" style="fill:#666"/>
<rect x="732" y="127.04" width="2.5" height="2.5" class="w"/>
<rect x="732.5" y="130.54" width="1.5" height="1.2" class="w"/>
<rect x="692" y="139.6" width="44" height="2"/>
<line x1="702.5" y1="134.1" x2="702.5" y2="139.6"/>
<line x1="705.5" y1="134.1" x2="705.5" y2="139.6"/>
<line x1="697.5" y1="134.6" x2="697.5" y2="139.6"/>
<line x1="700" y1="134.6" x2="700" y2="139.6"/>
<rect x="692" y="135.6" width="3" height="1" class="w"/>
<rect x="707.5" y="133.6" width="1.5" height="7"/>
<rect x="712.5" y="133.6" width="1.5" height="7"/>
<line x1="710.5" y1="133.6" x2="710.5" y2="139.6"/>
<line x1="715.5" y1="133.6" x2="715.5" y2="140.6"/>
<rect x="719" y="133.6" width="1.5" height="7"/>
<rect x="716.5" y="137.6" width="2" height="1.5" style="fill:#666"/>
<rect x="724" y="137.6" width="2" height="1.5" style="fill:#666"/>
<rect x="732" y="134.6" width="2.5" height="2.5" class="w"/>
<rect x="732.5" y="138.1" width="1.5" height="1.2" class="w"/>
<rect x="692" y="147.16" width="44" height="2"/>
<line x1="702.5" y1="141.66" x2="702.5" y2="147.16"/>
<line x1="705.5" y1="141.66" x2="705.5" y2="147.16"/>
<line x1="697" y1="142.66" x2="707" y2="142.66"/>
<line x1="697.5" y1="142.16" x2="697.5" y2="147.16"/>
<line x1="700" y1="142.16" x2="700" y2="147.16"/>
<rect x="692" y="143.16" width="3" height="1" class="w"/>
<rect x="707.5" y="141.16" width="1.5" height="7"/>
<rect x="712.5" y="141.16" width="1.5" height="7"/>
<line x1="710.5" y1="141.16" x2="710.5" y2="147.16"/>
<line x1="715.5" y1="141.16" x2="715.5" y2="148.16"/>
<rect x="719" y="141.16" width="1.5" height="7"/>
<rect x="716.5" y="145.16" width="2" height="1.5" style="fill:#666"/>
<rect x="724" y="145.16" width="2" height="1.5" style="fill:#666"/>
<rect x="732" y="142.16" width="2.5" height="2.5" class="w"/>
<rect x="732.5" y="145.66" width="1.5" height="1.2" class="w"/>
<rect x="692" y="154.72" width="44" height="2"/>
<line x1="702.5" y1="149.22" x2="702.5" y2="154.72"/>
<line x1="705.5" y1="149.22" x2="705.5" y2="154.72"/>
<line x1="697.5" y1="149.72" x2="697.5" y2="154.72"/>
<line x1="700" y1="149.72" x2="700" y2="154.72"/>
<rect x="692" y="150.72" width="3" height="1" class="w"/>
<rect x="707.5" y="148.72" width="1.5" height="7"/>
<rect x="712.5" y="148.72" width="1.5" height="7"/>
<line x1="710.5" y1="148.72" x2="710.5" y2="154.72"/>
<line x1="715.5" y1="148.72" x2="715.5" y2="155.72"/>
<rect x="719" y="148.72" width="1.5" height="7"/>
<rect x="716.5" y="152.72" width="2" height="1.5" style="fill:#666"/>
<rect x="724" y="152.72" width="2" height="1.5" style="fill:#666"/>
<rect x="732" y="149.72" width="2.5" height="2.5" class="w"/>
<rect x="732.5" y="153.22" width="1.5" height="1.2" class="w"/>
<rect x="692" y="162.28" width="44" height="2"/>
<line x1="702.5" y1="156.78" x2="702.5" y2="162.28"/>
<line x1="705.5" y1="156.78" x2="705.5" y2="162.28"/>
<line x1="697" y1="157.78" x2="707" y2="157.78"/>
<line x1="697.5" y1="157.28" x2="697.5" y2="162.28"/>
<line x1="700" y1="157.28" x2="700" y2="162.28"/>
<rect x="692" y="158.28" width="3" height="1" class="w"/>
<rect x="707.5" y="156.28" width="1.5" height="7"/>
<rect x="712.5" y="156.28" width="1.5" height="7"/>
<line x1="710.5" y1="156.28" x2="710.5" y2="162.28"/>
<line x1="715.5" y1="156.28" x2="715.5" y2="163.28"/>
<rect x="719" y="156.28" width="1.5" height="7"/>
<rect x="716.5" y="160.28" width="2" height="1.5" style="fill:#666"/>
<rect x="724" y="160.28" width="2" height="1.5" style="fill:#666"/>
<rect x="732" y="157.28" width="2.5" height="2.5" class="w"/>
<rect x="732.5" y="160.78" width="1.5" height="1.2" class="w"/>
<rect x="692" y="169.84" width="44" height="2"/>
<line x1="702.5" y1="164.34" x2="702.5" y2="169.84"/>
<line x1="705.5" y1="164.34" x2="705.5" y2="169.84"/>
<line x1="697.5" y1="164.84" x2="697.5" y2="169.84"/>
<line x1="700" y1="164.84" x2="700" y2="169.84"/>
<rect x="692" y="165.84" width="3" height="1" class="w"/>
<rect x="707.5" y="163.84" width="1.5" height="7"/>
<rect x="712.5" y="163.84" width="1.5" height="7"/>
<line x1="710.5" y1="163.84" x2="710.5" y2="169.84"/>
<line x1="715.5" y1="163.84" x2="715.5" y2="170.84"/>
<rect x="719" y="163.84" width="1.5" height="7"/>
<rect x="716.5" y="167.84" width="2" height="1.5" style="fill:#666"/>
<rect x="724" y="167.84" width="2" height="1.5" style="fill:#666"/>
<rect x="732" y="164.84" width="2.5" height="2.5" class="w"/>
<rect x="732.5" y="168.34" width="1.5" height="1.2" class="w"/>
<rect x="692" y="177.4" width="44" height="2"/>
<line x1="702.5" y1="171.9" x2="702.5" y2="177.4"/>
<line x1="705.5" y1="171.9" x2="705.5" y2="177.4"/>
<line x1="697" y1="172.9" x2="707" y2="172.9"/>
<line x1="697.5" y1="172.4" x2="697.5" y2="177.4"/>
<line x1="700" y1="172.4" x2="700" y2="177.4"/>
<rect x="692" y="173.4" width="3" height="1" class="w"/>
<rect x="707.5" y="171.4" width="1.5" height="7"/>
<rect x="712.5" y="171.4" width="1.5" height="7"/>
<line x1="710.5" y1="171.4" x2="710.5" y2="177.4"/>
<line x1="715.5" y1="171.4" x2="715.5" y2="178.4"/>
<rect x="719" y="171.4" width="1.5" height="7"/>
<rect x="716.5" y="175.4" width="2" height="1.5" style="fill:#666"/>
<rect x="724" y="175.4" width="2" height="1.5" style="fill:#666"/>
<rect x="732" y="172.4" width="2.5" height="2.5" class="w"/>
<rect x="732.5" y="175.9" width="1.5" height="1.2" class="w"/>
<rect x="692" y="184.96" width="44" height="2"/>
<line x1="702.5" y1="179.46" x2="702.5" y2="184.96"/>
<line x1="705.5" y1="179.46" x2="705.5" y2="184.96"/>
<line x1="697.5" y1="179.96" x2="697.5" y2="184.96"/>
<line x1="700" y1="179.96" x2="700" y2="184.96"/>
<rect x="692" y="180.96" width="3" height="1" class="w"/>
<rect x="707.5" y="178.96" width="1.5" height="7"/>
<rect x="712.5" y="178.96" width="1.5" height="7"/>
<line x1="710.5" y1="178.96" x2="710.5" y2="184.96"/>
<line x1="715.5" y1="178.96" x2="715.5" y2="185.96"/>
<rect x="719" y="178.96" width="1.5" height="7"/>
<rect x="716.5" y="182.96" width="2" height="1.5" style="fill:#666"/>
<rect x="724" y="182.96" width="2" height="1.5" style="fill:#666"/>
<rect x="732" y="179.96" width="2.5" height="2.5" class="w"/>
<rect x="732.5" y="183.46" width="1.5" height="1.2" class="w"/>
<rect x="692" y="192.52" width="44" height="2"/>
<line x1="702.5" y1="187.02" x2="702.5" y2="192.52"/>
<line x1="705.5" y1="187.02" x2="705.5" y2="192.52"/>
<line x1="697" y1="188.02" x2="707" y2="188.02"/>
<line x1="697.5" y1="187.52" x2="697.5" y2="192.52"/>
<line x1="700" y1="187.52" x2="700" y2="192.52"/>
<rect x="692" y="188.52" width="3" height="1" class="w"/>
<rect x="707.5" y="186.52" width="1.5" height="7"/>
<rect x="712.5" y="186.52" width="1.5" height="7"/>
<line x1="710.5" y1="186.52" x2="710.5" y2="192.52"/>
<line x1="715.5" y1="186.52" x2="715.5" y2="193.52"/>
<rect x="719" y="186.52" width="1.5" height="7"/>
<rect x="716.5" y="190.52" width="2" height="1.5" style="fill:#666"/>
<rect x="724" y="190.52" width="2" height="1.5" style="fill:#666"/>
<rect x="732" y="187.52" width="2.5" height="2.5" class="w"/>
<rect x="732.5" y="191.02" width="1.5" height="1.2" class="w"/>
<rect x="692" y="200.08" width="44" height="2"/>
<line x1="702.5" y1="194.58" x2="702.5" y2="200.08"/>
<line x1="705.5" y1="194.58" x2="705.5" y2="200.08"/>
<line x1="697.5" y1="195.08" x2="697.5" y2="200.08"/>
<line x1="700" y1="195.08" x2="700" y2="200.08"/>
<rect x="692" y="196.08" width="3" height="1" class="w"/>
<rect x="707.5" y="194.08" width="1.5" height="7"/>
<rect x="712.5" y="194.08" width="1.5" height="7"/>
<line x1="710.5" y1="194.08" x2="710.5" y2="200.08"/>
<line x1="715.5" y1="194.08" x2="715.5" y2="201.08"/>
<rect x="719" y="194.08" width="1.5" height="7"/>
<rect x="716.5" y="198.08" width="2" height="1.5" style="fill:#666"/>
<rect x="724" y="198.08" width="2" height="1.5" style="fill:#666"/>
<rect x="732" y="195.08" width="2.5" height="2.5" class="w"/>
<rect x="732.5" y="198.58" width="1.5" height="1.2" class="w"/>
<rect x="692" y="207.64" width="44" height="2"/>
<line x1="702.5" y1="202.14" x2="702.5" y2="207.64"/>
<line x1="705.5" y1="202.14" x2="705.5" y2="207.64"/>
<line x1="697" y1="203.14" x2="707" y2="203.14"/>
<line x1="697.5" y1="202.64" x2="697.5" y2="207.64"/>
<line x1="700" y1="202.64" x2="700" y2="207.64"/>
<rect x="692" y="203.64" width="3" height="1" class="w"/>
<rect x="707.5" y="201.64" width="1.5" height="7"/>
<rect x="712.5" y="201.64" width="1.5" height="7"/>
<line x1="710.5" y1="201.64" x2="710.5" y2="207.64"/>
<line x1="715.5" y1="201.64" x2="715.5" y2="208.64"/>
<rect x="719" y="201.64" width="1.5" height="7"/>
<rect x="716.5" y="205.64" width="2" height="1.5" style="fill:#666"/>
<rect x="724" y="205.64" width="2" height="1.5" style="fill:#666"/>
<rect x="732" y="202.64" width="2.5" height="2.5" class="w"/>
<rect x="732.5" y="206.14" width="1.5" height="1.2" class="w"/>
<rect x="692" y="215.2" width="44" height="2"/>
<line x1="702.5" y1="209.7" x2="702.5" y2="215.2"/>
<line x1="705.5" y1="209.7" x2="705.5" y2="215.2"/>
<line x1="697.5" y1="210.2" x2="697.5" y2="215.2"/>
<line x1="700" y1="210.2" x2="700" y2="215.2"/>
<rect x="692" y="211.2" width="3" height="1" class="w"/>
<rect x="707.5" y="209.2" width="1.5" height="7"/>
<rect x="712.5" y="209.2" width="1.5" height="7"/>
<line x1="710.5" y1="209.2" x2="710.5" y2="215.2"/>
<line x1="715.5" y1="209.2" x2="715.5" y2="216.2"/>
<rect x="719" y="209.2" width="1.5" height="7"/>
<rect x="716.5" y="213.2" width="2" height="1.5" style="fill:#666"/>
<rect x="724" y="213.2" width="2" height="1.5" style="fill:#666"/>
<rect x="732" y="210.2" width="2.5" height="2.5" class="w"/>
<rect x="732.5" y="213.7" width="1.5" height="1.2" class="w"/>
<rect x="692" y="222.76" width="44" height="2"/>
<line x1="702.5" y1="217.26" x2="702.5" y2="222.76"/>
<line x1="705.5" y1="217.26" x2="705.5" y2="222.76"/>
<line x1="697" y1="218.26" x2="707" y2="218.26"/>
<line x1="697.5" y1="217.76" x2="697.5" y2="222.76"/>
<line x1="700" y1="217.76" x2="700" y2="222.76"/>
<rect x="692" y="218.76" width="3" height="1" class="w"/>
<rect x="707.5" y="216.76" width="1.5" height="7"/>
<rect x="712.5" y="216.76" width="1.5" height="7"/>
<line x1="710.5" y1="216.76" x2="710.5" y2="222.76"/>
<line x1="715.5" y1="216.76" x2="715.5" y2="223.76"/>
<rect x="719" y="216.76" width="1.5" height="7"/>
<rect x="716.5" y="220.76" width="2" height="1.5" style="fill:#666"/>
<rect x="724" y="220.76" width="2" height="1.5" style="fill:#666"/>
<rect x="732" y="217.76" width="2.5" height="2.5" class="w"/>
<rect x="732.5" y="221.26" width="1.5" height="1.2" class="w"/>
<rect x="692" y="230.32" width="44" height="2"/>
<line x1="702.5" y1="224.82" x2="702.5" y2="230.32"/>
<line x1="705.5" y1="224.82" x2="705.5" y2="230.32"/>
<line x1="697.5" y1="225.32" x2="697.5" y2="230.32"/>
<line x1="700" y1="225.32" x2="700" y2="230.32"/>
<rect x="692" y="226.32" width="3" height="1" class="w"/>
<rect x="707.5" y="224.32" width="1.5" height="7"/>
<rect x="712.5" y="224.32" width="1.5" height="7"/>
<line x1="710.5" y1="224.32" x2="710.5" y2="230.32"/>
<line x1="715.5" y1="224.32" x2="715.5" y2="231.32"/>
<rect x="719" y="224.32" width="1.5" height="7"/>
<rect x="716.5" y="228.32" width="2" height="1.5" style="fill:#666"/>
<rect x="724" y="228.32" width="2" height="1.5" style="fill:#666"/>
<rect x="732" y="225.32" width="2.5" height="2.5" class="w"/>
<rect x="732.5" y="228.82" width="1.5" height="1.2" class="w"/>
<rect x="665" y="229.5" width="77" height="3"/>
<line x1="741.5" y1="228" x2="741.5" y2="247"/>
<rect x="694.5" y="232.5" width="36" height="12" class="o"/>
<rect x="694" y="243" width="37" height="2.5"/>
<line x1="707.5" y1="233" x2="707.5" y2="243"/>
<line x1="710.5" y1="233" x2="710.5" y2="243"/>
<line x1="714.5" y1="233" x2="714.5" y2="243"/>
<line x1="718.5" y1="233" x2="718.5" y2="243"/>
<line x1="701.5" y1="235" x2="701.5" y2="243"/>
<line x1="701" y1="235.5" x2="705" y2="235.5"/>
<line x1="672.5" y1="233" x2="672.5" y2="247"/>
<line x1="672" y1="235.5" x2="694" y2="235.5"/>
<line x1="674" y1="243.5" x2="694" y2="243.5"/>
<rect x="665" y="245" width="30" height="2"/>
<rect x="680" y="239" width="3" height="1" style="fill:#666"/>
<line x1="694.5" y1="245" x2="694.5" y2="257"/>
<rect x="693" y="256.5" width="3" height="2"/>
<line x1="707.5" y1="245" x2="707.5" y2="257"/>
<rect x="706" y="256.5" width="3" height="2"/>
<line x1="714.5" y1="245" x2="714.5" y2="257"/>
<rect x="713" y="256.5" width="3" height="2"/>
<line x1="730.5" y1="245" x2="730.5" y2="257"/>
<rect x="729" y="256.5" width="3" height="2"/>
<line x1="694" y1="252.5" x2="731" y2="252.5"/>
<line x1="694" y1="254.5" x2="731" y2="254.5"/>
<rect x="704.5" y="261" width="16" height="1.5"/>
<line x1="704" y1="263.5" x2="721" y2="263.5"/>
<rect x="492" y="306.5" width="4" height="2.5"/>
<line x1="491" y1="305" x2="495" y2="307.5"/>
<line x1="494" y1="309" x2="508" y2="309"/>
<rect x="492" y="314" width="4" height="2.5"/>
<line x1="491" y1="312.5" x2="495" y2="315"/>
<line x1="494" y1="316.5" x2="508" y2="316.5"/>
<rect x="492" y="321.5" width="4" height="2.5"/>
<line x1="491" y1="320" x2="495" y2="322.5"/>
<line x1="494" y1="324" x2="508" y2="324"/>
<rect x="492" y="329" width="4" height="2.5"/>
<line x1="491" y1="327.5" x2="495" y2="330"/>
<line x1="494" y1="331.5" x2="508" y2="331.5"/>
<rect x="492" y="336.5" width="4" height="2.5"/>
<line x1="491" y1="335" x2="495" y2="337.5"/>
<line x1="494" y1="339" x2="508" y2="339"/>
<rect x="492" y="344" width="4" height="2.5"/>
<line x1="491" y1="342.5" x2="495" y2="345"/>
<line x1="494" y1="346.5" x2="508" y2="346.5"/>
<rect x="492" y="351.5" width="4" height="2.5"/>
<line x1="491" y1="350" x2="495" y2="352.5"/>
<line x1="494" y1="354" x2="508" y2="354"/>
<rect x="492" y="359" width="4" height="2.5"/>
<line x1="491" y1="357.5" x2="495" y2="360"/>
<line x1="494" y1="361.5" x2="508" y2="361.5"/>
<rect x="492" y="366.5" width="4" height="2.5"/>
<line x1="491" y1="365" x2="495" y2="367.5"/>
<line x1="494" y1="369" x2="508" y2="369"/>
<rect x="492" y="374" width="4" height="2.5"/>
<line x1="491" y1="372.5" x2="495" y2="375"/>
<line x1="494" y1="376.5" x2="508" y2="376.5"/>
<rect x="492" y="381.5" width="4" height="2.5"/>
<line x1="491" y1="380" x2="495" y2="382.5"/>
<line x1="494" y1="384" x2="508" y2="384"/>
<rect x="492" y="389" width="4" height="2.5"/>
<line x1="491" y1="387.5" x2="495" y2="390"/>
<line x1="494" y1="391.5" x2="508" y2="391.5"/>
<rect x="492" y="396.5" width="4" height="2.5"/>
<line x1="491" y1="395" x2="495" y2="397.5"/>
<line x1="494" y1="399" x2="508" y2="399"/>
<rect x="492" y="404" width="4" height="2.5"/>
<line x1="491" y1="402.5" x2="495" y2="405"/>
<line x1="494" y1="406.5" x2="508" y2="406.5"/>
<rect x="492" y="411.5" width="4" height="2.5"/>
<line x1="491" y1="410" x2="495" y2="412.5"/>
<line x1="494" y1="414" x2="508" y2="414"/>
<rect x="492" y="419" width="4" height="2.5"/>
<line x1="491" y1="417.5" x2="495" y2="420"/>
<line x1="494" y1="421.5" x2="508" y2="421.5"/>
<rect x="492" y="426.5" width="4" height="2.5"/>
<line x1="491" y1="425" x2="495" y2="427.5"/>
<line x1="494" y1="429" x2="508" y2="429"/>
<rect x="492" y="434" width="4" height="2.5"/>
<line x1="491" y1="432.5" x2="495" y2="435"/>
<line x1="494" y1="436.5" x2="508" y2="436.5"/>
<rect x="492" y="441.5" width="4" height="2.5"/>
<line x1="491" y1="440" x2="495" y2="442.5"/>
<line x1="494" y1="444" x2="508" y2="444"/>
<rect x="492" y="449" width="4" height="2.5"/>
<line x1="491" y1="447.5" x2="495" y2="450"/>
<line x1="494" y1="451.5" x2="508" y2="451.5"/>
<rect x="498" y="306" width="1" height="147"/>
<rect x="501" y="306" width="1" height="147"/>
<rect x="499" y="311" width="1" height="4"/>
<rect x="500" y="311" width="1" height="1"/>
<rect x="500" y="314" width="1" height="1"/>
<rect x="499" y="319" width="1" height="4"/>
<rect x="500" y="319" width="1" height="1"/>
<rect x="500" y="322" width="1" height="1"/>
<rect x="499" y="326" width="1" height="4"/>
<rect x="500" y="326" width="1" height="1"/>
<rect x="500" y="329" width="1" height="1"/>
<rect x="499" y="333" width="1" height="4"/>
<rect x="500" y="333" width="1" height="1"/>
<rect x="500" y="336" width="1" height="1"/>
<rect x="499" y="341" width="1" height="4"/>
<rect x="500" y="341" width="1" height="1"/>
<rect x="500" y="344" width="1" height="1"/>
<rect x="499" y="349" width="1" height="4"/>
<rect x="500" y="349" width="1" height="1"/>
<rect x="500" y="352" width="1" height="1"/>
<rect x="499" y="356" width="1" height="4"/>
<rect x="500" y="356" width="1" height="1"/>
<rect x="500" y="359" width="1" height="1"/>
<rect x="499" y="363" width="1" height="4"/>
<rect x="500" y="363" width="1" height="1"/>
<rect x="500" y="366" width="1" height="1"/>
<rect x="499" y="371" width="1" height="4"/>
<rect x="500" y="371" width="1" height="1"/>
<rect x="500" y="374" width="1" height="1"/>
<rect x="499" y="379" width="1" height="4"/>
<rect x="500" y="379" width="1" height="1"/>
<rect x="500" y="382" width="1" height="1"/>
<rect x="499" y="386" width="1" height="4"/>
<rect x="500" y="386" width="1" height="1"/>
<rect x="500" y="389" width="1" height="1"/>
<rect x="499" y="393" width="1" height="4"/>
<rect x="500" y="393" width="1" height="1"/>
<rect x="500" y="396" width="1" height="1"/>
<rect x="499" y="401" width="1" height="4"/>
<rect x="500" y="401" width="1" height="1"/>
<rect x="500" y="404" width="1" height="1"/>
<rect x="499" y="409" width="1" height="4"/>
<rect x="500" y="409" width="1" height="1"/>
<rect x="500" y="412" width="1" height="1"/>
<rect x="499" y="416" width="1" height="4"/>
<rect x="500" y="416" width="1" height="1"/>
<rect x="500" y="419" width="1" height="1"/>
<rect x="499" y="423" width="1" height="4"/>
<rect x="500" y="423" width="1" height="1"/>
<rect x="500" y="426" width="1" height="1"/>
<rect x="499" y="431" width="1" height="4"/>
<rect x="500" y="431" width="1" height="1"/>
<rect x="500" y="434" width="1" height="1"/>
<rect x="499" y="439" width="1" height="4"/>
<rect x="500" y="439" width="1" height="1"/>
<rect x="500" y="442" width="1" height="1"/>
<rect x="499" y="446" width="1" height="4"/>
<rect x="500" y="446" width="1" height="1"/>
<rect x="500" y="449" width="1" height="1"/>
<rect x="492" y="306" width="8" height="2"/>
<line x1="496" y1="307.5" x2="507" y2="307.5"/>
<rect x="514" y="322.5" width="86" height="130.5"/>
<rect x="515.5" y="313" width="83" height="10"/>
<rect x="519.5" y="304.5" width="75.5" height="10"/>
<rect x="547" y="293.5" width="21.5" height="8"/>
<rect x="560" y="291.5" width="4" height="2"/>
<rect x="541.5" y="301.5" width="31" height="3" class="o"/>
<rect x="543" y="302.5" width="28" height="1.5" class="w"/>
<line x1="572" y1="301" x2="581" y2="297"/>
<rect x="574" y="296" width="7" height="1.5"/>
<line x1="595" y1="310" x2="604" y2="306.5"/>
<rect x="597" y="306" width="7" height="1.5"/>
<rect x="515" y="318" width="1.1" height="3" class="w"/>
<rect x="517.5" y="318" width="1.1" height="3" class="w"/>
<rect x="520" y="318" width="1.1" height="3" class="w"/>
<rect x="522.3" y="318" width="1.1" height="3" class="w"/>
<rect x="527.7" y="318" width="2" height="3" class="w"/>
<rect x="531" y="318" width="1.1" height="3" class="w"/>
<rect x="533.4" y="318" width="1.1" height="3" class="w"/>
<rect x="535.8" y="318" width="1.1" height="3" class="w"/>
<rect x="537.6" y="318" width="1.1" height="3" class="w"/>
<rect x="540.8" y="318" width="1.1" height="3" class="w"/>
<rect x="543" y="318" width="1.1" height="3" class="w"/>
<rect x="545.3" y="318" width="1.1" height="3" class="w"/>
<rect x="549.7" y="318" width="2.1" height="3" class="w"/>
<rect x="552.7" y="318" width="2.8" height="3" class="w"/>
<rect x="558.5" y="318" width="2.2" height="3" class="w"/>
<rect x="561.5" y="318" width="3" height="3" class="w"/>
<rect x="568.7" y="318" width="1.1" height="3" class="w"/>
<rect x="571.5" y="318" width="1.1" height="3" class="w"/>
<rect x="578.3" y="318" width="1.2" height="3" class="w"/>
<rect x="582" y="318" width="2" height="3" class="w"/>
<rect x="584.7" y="318" width="1.3" height="3" class="w"/>
<rect x="591.8" y="318" width="1.1" height="3" class="w"/>
<rect x="594" y="318" width="1.1" height="3" class="w"/>
<rect x="596.3" y="318" width="1.1" height="3" class="w"/>
<rect x="598.3" y="318" width="1.1" height="3" class="w"/>
<rect x="515" y="322" width="1" height="1" class="w"/>
<rect x="518" y="322" width="1" height="1" class="w"/>
<rect x="520.5" y="322" width="1" height="1" class="w"/>
<rect x="522.5" y="322" width="1" height="1" class="w"/>
<rect x="530" y="322" width="1" height="1" class="w"/>
<rect x="532" y="322" width="1" height="1" class="w"/>
<rect x="549.7" y="322" width="1.1" height="1" class="w"/>
<rect x="552" y="322" width="1" height="1" class="w"/>
<rect x="555" y="322" width="1.1" height="1" class="w"/>
<rect x="558.5" y="322" width="2" height="1" class="w"/>
<rect x="561.5" y="322" width="1" height="1" class="w"/>
<rect x="564" y="322" width="1" height="1" class="w"/>
<rect x="581.5" y="322" width="1" height="1" class="w"/>
<rect x="584" y="322" width="1" height="1" class="w"/>
<rect x="586" y="322" width="1" height="1" class="w"/>
<rect x="591.8" y="322" width="1" height="1" class="w"/>
<rect x="594" y="322" width="1" height="1" class="w"/>
<rect x="596.2" y="322" width="1" height="1" class="w"/>
<rect x="598.2" y="322" width="1" height="1" class="w"/>
<rect x="515" y="326" width="1.1" height="2" class="w"/>
<rect x="517.5" y="326" width="1.1" height="2" class="w"/>
<rect x="520" y="326" width="1.1" height="2" class="w"/>
<rect x="522.3" y="326" width="1.1" height="2" class="w"/>
<rect x="527.7" y="326" width="2" height="2" class="w"/>
<rect x="531" y="326" width="1.1" height="2" class="w"/>
<rect x="533.4" y="326" width="1.1" height="2" class="w"/>
<rect x="535.8" y="326" width="1.1" height="2" class="w"/>
<rect x="537.6" y="326" width="1.1" height="2" class="w"/>
<rect x="540.8" y="326" width="1.1" height="2" class="w"/>
<rect x="543" y="326" width="1.1" height="2" class="w"/>
<rect x="545.3" y="326" width="1.1" height="2" class="w"/>
<rect x="549.7" y="326" width="2" height="2" class="w"/>
<rect x="553" y="326" width="3" height="2" class="w"/>
<rect x="558.5" y="326" width="2.2" height="2" class="w"/>
<rect x="561.5" y="326" width="3" height="2" class="w"/>
<rect x="568.7" y="326" width="1.1" height="2" class="w"/>
<rect x="572" y="326" width="1.1" height="2" class="w"/>
<rect x="578.3" y="326" width="1.2" height="2" class="w"/>
<rect x="582" y="326" width="2.3" height="2" class="w"/>
<rect x="585" y="326" width="1.1" height="2" class="w"/>
<rect x="591.8" y="326" width="1.1" height="2" class="w"/>
<rect x="594" y="326" width="1.1" height="2" class="w"/>
<rect x="596.3" y="326" width="1.1" height="2" class="w"/>
<rect x="598.3" y="326" width="1.1" height="2" class="w"/>
<rect x="530" y="329" width="1.1" height="2" class="w"/>
<rect x="532.5" y="329" width="1.1" height="2" class="w"/>
<rect x="549.7" y="329" width="1.5" height="2" class="w"/>
<rect x="552" y="329" width="1" height="2" class="w"/>
<rect x="555" y="329" width="1" height="2" class="w"/>
<rect x="558.5" y="329" width="2" height="2" class="w"/>
<rect x="561.5" y="329" width="1" height="2" class="w"/>
<rect x="564" y="329" width="1" height="2" class="w"/>
<rect x="582" y="329" width="1" height="2" class="w"/>
<rect x="585" y="329" width="1" height="2" class="w"/>
<rect x="587" y="329" width="1" height="2" class="w"/>
<rect x="515" y="333" width="1.1" height="3" class="w"/>
<rect x="517.5" y="333" width="1.1" height="3" class="w"/>
<rect x="520" y="333" width="1.1" height="3" class="w"/>
<rect x="522.3" y="333" width="1.1" height="3" class="w"/>
<rect x="527.7" y="333" width="2" height="3" class="w"/>
<rect x="531" y="333" width="1.1" height="3" class="w"/>
<rect x="533.4" y="333" width="1.1" height="3" class="w"/>
<rect x="535.8" y="333" width="1.1" height="3" class="w"/>
<rect x="537.6" y="333" width="1.1" height="3" class="w"/>
<rect x="540.8" y="333" width="1.1" height="3" class="w"/>
<rect x="543" y="333" width="1.1" height="3" class="w"/>
<rect x="545.3" y="333" width="1.1" height="3" class="w"/>
<rect x="549.7" y="333" width="2.1" height="3" class="w"/>
<rect x="552.7" y="333" width="2.8" height="3" class="w"/>
<rect x="558.5" y="333" width="2.2" height="3" class="w"/>
<rect x="561.5" y="333" width="3" height="3" class="w"/>
<rect x="568.7" y="333" width="1.1" height="3" class="w"/>
<rect x="571.5" y="333" width="1.1" height="3" class="w"/>
<rect x="578.3" y="333" width="1.2" height="3" class="w"/>
<rect x="582" y="333" width="2" height="3" class="w"/>
<rect x="584.7" y="333" width="1.3" height="3" class="w"/>
<rect x="591.8" y="333" width="1.1" height="3" class="w"/>
<rect x="594" y="333" width="1.1" height="3" class="w"/>
<rect x="596.3" y="333" width="1.1" height="3" class="w"/>
<rect x="598.3" y="333" width="1.1" height="3" class="w"/>
<rect x="515" y="337" width="1" height="1" class="w"/>
<rect x="518" y="337" width="1" height="1" class="w"/>
<rect x="520.5" y="337" width="1" height="1" class="w"/>
<rect x="522.5" y="337" width="1" height="1" class="w"/>
<rect x="530" y="337" width="1" height="1" class="w"/>
<rect x="532" y="337" width="1" height="1" class="w"/>
<rect x="549.7" y="337" width="1.1" height="1" class="w"/>
<rect x="552" y="337" width="1" height="1" class="w"/>
<rect x="555" y="337" width="1.1" height="1" class="w"/>
<rect x="558.5" y="337" width="2" height="1" class="w"/>
<rect x="561.5" y="337" width="1" height="1" class="w"/>
<rect x="564" y="337" width="1" height="1" class="w"/>
<rect x="581.5" y="337" width="1" height="1" class="w"/>
<rect x="584" y="337" width="1" height="1" class="w"/>
<rect x="586" y="337" width="1" height="1" class="w"/>
<rect x="591.8" y="337" width="1" height="1" class="w"/>
<rect x="594" y="337" width="1" height="1" class="w"/>
<rect x="596.2" y="337" width="1" height="1" class="w"/>
<rect x="598.2" y="337" width="1" height="1" class="w"/>
<rect x="515" y="341" width="1.1" height="2" class="w"/>
<rect x="517.5" y="341" width="1.1" height="2" class="w"/>
<rect x="520" y="341" width="1.1" height="2" class="w"/>
<rect x="522.3" y="341" width="1.1" height="2" class="w"/>
<rect x="527.7" y="341" width="2" height="2" class="w"/>
<rect x="531" y="341" width="1.1" height="2" class="w"/>
<rect x="533.4" y="341" width="1.1" height="2" class="w"/>
<rect x="535.8" y="341" width="1.1" height="2" class="w"/>
<rect x="537.6" y="341" width="1.1" height="2" class="w"/>
<rect x="540.8" y="341" width="1.1" height="2" class="w"/>
<rect x="543" y="341" width="1.1" height="2" class="w"/>
<rect x="545.3" y="341" width="1.1" height="2" class="w"/>
<rect x="549.7" y="341" width="2" height="2" class="w"/>
<rect x="553" y="341" width="3" height="2" class="w"/>
<rect x="558.5" y="341" width="2.2" height="2" class="w"/>
<rect x="561.5" y="341" width="3" height="2" class="w"/>
<rect x="568.7" y="341" width="1.1" height="2" class="w"/>
<rect x="572" y="341" width="1.1" height="2" class="w"/>
<rect x="578.3" y="341" width="1.2" height="2" class="w"/>
<rect x="582" y="341" width="2.3" height="2" class="w"/>
<rect x="585" y="341" width="1.1" height="2" class="w"/>
<rect x="591.8" y="341" width="1.1" height="2" class="w"/>
<rect x="594" y="341" width="1.1" height="2" class="w"/>
<rect x="596.3" y="341" width="1.1" height="2" class="w"/>
<rect x="598.3" y="341" width="1.1" height="2" class="w"/>
<rect x="530" y="344" width="1.1" height="2" class="w"/>
<rect x="532.5" y="344" width="1.1" height="2" class="w"/>
<rect x="549.7" y="344" width="1.5" height="2" class="w"/>
<rect x="552" y="344" width="1" height="2" class="w"/>
<rect x="555" y="344" width="1" height="2" class="w"/>
<rect x="558.5" y="344" width="2" height="2" class="w"/>
<rect x="561.5" y="344" width="1" height="2" class="w"/>
<rect x="564" y="344" width="1" height="2" class="w"/>
<rect x="582" y="344" width="1" height="2" class="w"/>
<rect x="585" y="344" width="1" height="2" class="w"/>
<rect x="587" y="344" width="1" height="2" class="w"/>
<rect x="515" y="348" width="1.1" height="3" class="w"/>
<rect x="517.5" y="348" width="1.1" height="3" class="w"/>
<rect x="520" y="348" width="1.1" height="3" class="w"/>
<rect x="522.3" y="348" width="1.1" height="3" class="w"/>
<rect x="527.7" y="348" width="2" height="3" class="w"/>
<rect x="531" y="348" width="1.1" height="3" class="w"/>
<rect x="533.4" y="348" width="1.1" height="3" class="w"/>
<rect x="535.8" y="348" width="1.1" height="3" class="w"/>
<rect x="537.6" y="348" width="1.1" height="3" class="w"/>
<rect x="540.8" y="348" width="1.1" height="3" class="w"/>
<rect x="543" y="348" width="1.1" height="3" class="w"/>
<rect x="545.3" y="348" width="1.1" height="3" class="w"/>
<rect x="549.7" y="348" width="2.1" height="3" class="w"/>
<rect x="552.7" y="348" width="2.8" height="3" class="w"/>
<rect x="558.5" y="348" width="2.2" height="3" class="w"/>
<rect x="561.5" y="348" width="3" height="3" class="w"/>
<rect x="568.7" y="348" width="1.1" height="3" class="w"/>
<rect x="571.5" y="348" width="1.1" height="3" class="w"/>
<rect x="578.3" y="348" width="1.2" height="3" class="w"/>
<rect x="582" y="348" width="2" height="3" class="w"/>
<rect x="584.7" y="348" width="1.3" height="3" class="w"/>
<rect x="591.8" y="348" width="1.1" height="3" class="w"/>
<rect x="594" y="348" width="1.1" height="3" class="w"/>
<rect x="596.3" y="348" width="1.1" height="3" class="w"/>
<rect x="598.3" y="348" width="1.1" height="3" class="w"/>
<rect x="515" y="352" width="1" height="1" class="w"/>
<rect x="518" y="352" width="1" height="1" class="w"/>
<rect x="520.5" y="352" width="1" height="1" class="w"/>
<rect x="522.5" y="352" width="1" height="1" class="w"/>
<rect x="530" y="352" width="1" height="1" class="w"/>
<rect x="532" y="352" width="1" height="1" class="w"/>
<rect x="549.7" y="352" width="1.1" height="1" class="w"/>
<rect x="552" y="352" width="1" height="1" class="w"/>
<rect x="555" y="352" width="1.1" height="1" class="w"/>
<rect x="558.5" y="352" width="2" height="1" class="w"/>
<rect x="561.5" y="352" width="1" height="1" class="w"/>
<rect x="564" y="352" width="1" height="1" class="w"/>
<rect x="581.5" y="352" width="1" height="1" class="w"/>
<rect x="584" y="352" width="1" height="1" class="w"/>
<rect x="586" y="352" width="1" height="1" class="w"/>
<rect x="591.8" y="352" width="1" height="1" class="w"/>
<rect x="594" y="352" width="1" height="1" class="w"/>
<rect x="596.2" y="352" width="1" height="1" class="w"/>
<rect x="598.2" y="352" width="1" height="1" class="w"/>
<rect x="515" y="356" width="1.1" height="2" class="w"/>
<rect x="517.5" y="356" width="1.1" height="2" class="w"/>
<rect x="520" y="356" width="1.1" height="2" class="w"/>
<rect x="522.3" y="356" width="1.1" height="2" class="w"/>
<rect x="527.7" y="356" width="2" height="2" class="w"/>
<rect x="531" y="356" width="1.1" height="2" class="w"/>
<rect x="533.4" y="356" width="1.1" height="2" class="w"/>
<rect x="535.8" y="356" width="1.1" height="2" class="w"/>
<rect x="537.6" y="356" width="1.1" height="2" class="w"/>
<rect x="540.8" y="356" width="1.1" height="2" class="w"/>
<rect x="543" y="356" width="1.1" height="2" class="w"/>
<rect x="545.3" y="356" width="1.1" height="2" class="w"/>
<rect x="549.7" y="356" width="2" height="2" class="w"/>
<rect x="553" y="356" width="3" height="2" class="w"/>
<rect x="558.5" y="356" width="2.2" height="2" class="w"/>
<rect x="561.5" y="356" width="3" height="2" class="w"/>
<rect x="568.7" y="356" width="1.1" height="2" class="w"/>
<rect x="572" y="356" width="1.1" height="2" class="w"/>
<rect x="578.3" y="356" width="1.2" height="2" class="w"/>
<rect x="582" y="356" width="2.3" height="2" class="w"/>
<rect x="585" y="356" width="1.1" height="2" class="w"/>
<rect x="591.8" y="356" width="1.1" height="2" class="w"/>
<rect x="594" y="356" width="1.1" height="2" class="w"/>
<rect x="596.3" y="356" width="1.1" height="2" class="w"/>
<rect x="598.3" y="356" width="1.1" height="2" class="w"/>
<rect x="530" y="359" width="1.1" height="2" class="w"/>
<rect x="532.5" y="359" width="1.1" height="2" class="w"/>
<rect x="549.7" y="359" width="1.5" height="2" class="w"/>
<rect x="552" y="359" width="1" height="2" class="w"/>
<rect x="555" y="359" width="1" height="2" class="w"/>
<rect x="558.5" y="359" width="2" height="2" class="w"/>
<rect x="561.5" y="359" width="1" height="2" class="w"/>
<rect x="564" y="359" width="1" height="2" class="w"/>
<rect x="582" y="359" width="1" height="2" class="w"/>
<rect x="585" y="359" width="1" height="2" class="w"/>
<rect x="587" y="359" width="1" height="2" class="w"/>
<rect x="515" y="363" width="1.1" height="3" class="w"/>
<rect x="517.5" y="363" width="1.1" height="3" class="w"/>
<rect x="520" y="363" width="1.1" height="3" class="w"/>
<rect x="522.3" y="363" width="1.1" height="3" class="w"/>
<rect x="527.7" y="363" width="2" height="3" class="w"/>
<rect x="531" y="363" width="1.1" height="3" class="w"/>
<rect x="533.4" y="363" width="1.1" height="3" class="w"/>
<rect x="535.8" y="363" width="1.1" height="3" class="w"/>
<rect x="537.6" y="363" width="1.1" height="3" class="w"/>
<rect x="540.8" y="363" width="1.1" height="3" class="w"/>
<rect x="543" y="363" width="1.1" height="3" class="w"/>
<rect x="545.3" y="363" width="1.1" height="3" class="w"/>
<rect x="549.7" y="363" width="2.1" height="3" class="w"/>
<rect x="552.7" y="363" width="2.8" height="3" class="w"/>
<rect x="558.5" y="363" width="2.2" height="3" class="w"/>
<rect x="561.5" y="363" width="3" height="3" class="w"/>
<rect x="568.7" y="363" width="1.1" height="3" class="w"/>
<rect x="571.5" y="363" width="1.1" height="3" class="w"/>
<rect x="578.3" y="363" width="1.2" height="3" class="w"/>
<rect x="582" y="363" width="2" height="3" class="w"/>
<rect x="584.7" y="363" width="1.3" height="3" class="w"/>
<rect x="591.8" y="363" width="1.1" height="3" class="w"/>
<rect x="594" y="363" width="1.1" height="3" class="w"/>
<rect x="596.3" y="363" width="1.1" height="3" class="w"/>
<rect x="598.3" y="363" width="1.1" height="3" class="w"/>
<rect x="515" y="367" width="1" height="1" class="w"/>
<rect x="518" y="367" width="1" height="1" class="w"/>
<rect x="520.5" y="367" width="1" height="1" class="w"/>
<rect x="522.5" y="367" width="1" height="1" class="w"/>
<rect x="530" y="367" width="1" height="1" class="w"/>
<rect x="532" y="367" width="1" height="1" class="w"/>
<rect x="549.7" y="367" width="1.1" height="1" class="w"/>
<rect x="552" y="367" width="1" height="1" class="w"/>
<rect x="555" y="367" width="1.1" height="1" class="w"/>
<rect x="558.5" y="367" width="2" height="1" class="w"/>
<rect x="561.5" y="367" width="1" height="1" class="w"/>
<rect x="564" y="367" width="1" height="1" class="w"/>
<rect x="581.5" y="367" width="1" height="1" class="w"/>
<rect x="584" y="367" width="1" height="1" class="w"/>
<rect x="586" y="367" width="1" height="1" class="w"/>
<rect x="591.8" y="367" width="1" height="1" class="w"/>
<rect x="594" y="367" width="1" height="1" class="w"/>
<rect x="596.2" y="367" width="1" height="1" class="w"/>
<rect x="598.2" y="367" width="1" height="1" class="w"/>
<rect x="515" y="371" width="1.1" height="2" class="w"/>
<rect x="517.5" y="371" width="1.1" height="2" class="w"/>
<rect x="520" y="371" width="1.1" height="2" class="w"/>
<rect x="522.3" y="371" width="1.1" height="2" class="w"/>
<rect x="527.7" y="371" width="2" height="2" class="w"/>
<rect x="531" y="371" width="1.1" height="2" class="w"/>
<rect x="533.4" y="371" width="1.1" height="2" class="w"/>
<rect x="535.8" y="371" width="1.1" height="2" class="w"/>
<rect x="537.6" y="371" width="1.1" height="2" class="w"/>
<rect x="540.8" y="371" width="1.1" height="2" class="w"/>
<rect x="543" y="371" width="1.1" height="2" class="w"/>
<rect x="545.3" y="371" width="1.1" height="2" class="w"/>
<rect x="549.7" y="371" width="2" height="2" class="w"/>
<rect x="553" y="371" width="3" height="2" class="w"/>
<rect x="558.5" y="371" width="2.2" height="2" class="w"/>
<rect x="561.5" y="371" width="3" height="2" class="w"/>
<rect x="568.7" y="371" width="1.1" height="2" class="w"/>
<rect x="572" y="371" width="1.1" height="2" class="w"/>
<rect x="578.3" y="371" width="1.2" height="2" class="w"/>
<rect x="582" y="371" width="2.3" height="2" class="w"/>
<rect x="585" y="371" width="1.1" height="2" class="w"/>
<rect x="591.8" y="371" width="1.1" height="2" class="w"/>
<rect x="594" y="371" width="1.1" height="2" class="w"/>
<rect x="596.3" y="371" width="1.1" height="2" class="w"/>
<rect x="598.3" y="371" width="1.1" height="2" class="w"/>
<rect x="530" y="374" width="1.1" height="2" class="w"/>
<rect x="532.5" y="374" width="1.1" height="2" class="w"/>
<rect x="549.7" y="374" width="1.5" height="2" class="w"/>
<rect x="552" y="374" width="1" height="2" class="w"/>
<rect x="555" y="374" width="1" height="2" class="w"/>
<rect x="558.5" y="374" width="2" height="2" class="w"/>
<rect x="561.5" y="374" width="1" height="2" class="w"/>
<rect x="564" y="374" width="1" height="2" class="w"/>
<rect x="582" y="374" width="1" height="2" class="w"/>
<rect x="585" y="374" width="1" height="2" class="w"/>
<rect x="587" y="374" width="1" height="2" class="w"/>
<rect x="515" y="378" width="1.1" height="3" class="w"/>
<rect x="517.5" y="378" width="1.1" height="3" class="w"/>
<rect x="520" y="378" width="1.1" height="3" class="w"/>
<rect x="522.3" y="378" width="1.1" height="3" class="w"/>
<rect x="527.7" y="378" width="2" height="3" class="w"/>
<rect x="531" y="378" width="1.1" height="3" class="w"/>
<rect x="533.4" y="378" width="1.1" height="3" class="w"/>
<rect x="535.8" y="378" width="1.1" height="3" class="w"/>
<rect x="537.6" y="378" width="1.1" height="3" class="w"/>
<rect x="540.8" y="378" width="1.1" height="3" class="w"/>
<rect x="543" y="378" width="1.1" height="3" class="w"/>
<rect x="545.3" y="378" width="1.1" height="3" class="w"/>
<rect x="549.7" y="378" width="2.1" height="3" class="w"/>
<rect x="552.7" y="378" width="2.8" height="3" class="w"/>
<rect x="558.5" y="378" width="2.2" height="3" class="w"/>
<rect x="561.5" y="378" width="3" height="3" class="w"/>
<rect x="568.7" y="378" width="1.1" height="3" class="w"/>
<rect x="571.5" y="378" width="1.1" height="3" class="w"/>
<rect x="578.3" y="378" width="1.2" height="3" class="w"/>
<rect x="582" y="378" width="2" height="3" class="w"/>
<rect x="584.7" y="378" width="1.3" height="3" class="w"/>
<rect x="591.8" y="378" width="1.1" height="3" class="w"/>
<rect x="594" y="378" width="1.1" height="3" class="w"/>
<rect x="596.3" y="378" width="1.1" height="3" class="w"/>
<rect x="598.3" y="378" width="1.1" height="3" class="w"/>
<rect x="515" y="382" width="1" height="1" class="w"/>
<rect x="518" y="382" width="1" height="1" class="w"/>
<rect x="520.5" y="382" width="1" height="1" class="w"/>
<rect x="522.5" y="382" width="1" height="1" class="w"/>
<rect x="530" y="382" width="1" height="1" class="w"/>
<rect x="532" y="382" width="1" height="1" class="w"/>
<rect x="549.7" y="382" width="1.1" height="1" class="w"/>
<rect x="552" y="382" width="1" height="1" class="w"/>
<rect x="555" y="382" width="1.1" height="1" class="w"/>
<rect x="558.5" y="382" width="2" height="1" class="w"/>
<rect x="561.5" y="382" width="1" height="1" class="w"/>
<rect x="564" y="382" width="1" height="1" class="w"/>
<rect x="581.5" y="382" width="1" height="1" class="w"/>
<rect x="584" y="382" width="1" height="1" class="w"/>
<rect x="586" y="382" width="1" height="1" class="w"/>
<rect x="591.8" y="382" width="1" height="1" class="w"/>
<rect x="594" y="382" width="1" height="1" class="w"/>
<rect x="596.2" y="382" width="1" height="1" class="w"/>
<rect x="598.2" y="382" width="1" height="1" class="w"/>
<rect x="515" y="386" width="1.1" height="2" class="w"/>
<rect x="517.5" y="386" width="1.1" height="2" class="w"/>
<rect x="520" y="386" width="1.1" height="2" class="w"/>
<rect x="522.3" y="386" width="1.1" height="2" class="w"/>
<rect x="527.7" y="386" width="2" height="2" class="w"/>
<rect x="531" y="386" width="1.1" height="2" class="w"/>
<rect x="533.4" y="386" width="1.1" height="2" class="w"/>
<rect x="535.8" y="386" width="1.1" height="2" class="w"/>
<rect x="537.6" y="386" width="1.1" height="2" class="w"/>
<rect x="540.8" y="386" width="1.1" height="2" class="w"/>
<rect x="543" y="386" width="1.1" height="2" class="w"/>
<rect x="545.3" y="386" width="1.1" height="2" class="w"/>
<rect x="549.7" y="386" width="2" height="2" class="w"/>
<rect x="553" y="386" width="3" height="2" class="w"/>
<rect x="558.5" y="386" width="2.2" height="2" class="w"/>
<rect x="561.5" y="386" width="3" height="2" class="w"/>
<rect x="568.7" y="386" width="1.1" height="2" class="w"/>
<rect x="572" y="386" width="1.1" height="2" class="w"/>
<rect x="578.3" y="386" width="1.2" height="2" class="w"/>
<rect x="582" y="386" width="2.3" height="2" class="w"/>
<rect x="585" y="386" width="1.1" height="2" class="w"/>
<rect x="591.8" y="386" width="1.1" height="2" class="w"/>
<rect x="594" y="386" width="1.1" height="2" class="w"/>
<rect x="596.3" y="386" width="1.1" height="2" class="w"/>
<rect x="598.3" y="386" width="1.1" height="2" class="w"/>
<rect x="530" y="389" width="1.1" height="2" class="w"/>
<rect x="532.5" y="389" width="1.1" height="2" class="w"/>
<rect x="549.7" y="389" width="1.5" height="2" class="w"/>
<rect x="552" y="389" width="1" height="2" class="w"/>
<rect x="555" y="389" width="1" height="2" class="w"/>
<rect x="558.5" y="389" width="2" height="2" class="w"/>
<rect x="561.5" y="389" width="1" height="2" class="w"/>
<rect x="564" y="389" width="1" height="2" class="w"/>
<rect x="582" y="389" width="1" height="2" class="w"/>
<rect x="585" y="389" width="1" height="2" class="w"/>
<rect x="587" y="389" width="1" height="2" class="w"/>
<rect x="515" y="393" width="1.1" height="3" class="w"/>
<rect x="517.5" y="393" width="1.1" height="3" class="w"/>
<rect x="520" y="393" width="1.1" height="3" class="w"/>
<rect x="522.3" y="393" width="1.1" height="3" class="w"/>
<rect x="527.7" y="393" width="2" height="3" class="w"/>
<rect x="531" y="393" width="1.1" height="3" class="w"/>
<rect x="533.4" y="393" width="1.1" height="3" class="w"/>
<rect x="535.8" y="393" width="1.1" height="3" class="w"/>
<rect x="537.6" y="393" width="1.1" height="3" class="w"/>
<rect x="540.8" y="393" width="1.1" height="3" class="w"/>
<rect x="543" y="393" width="1.1" height="3" class="w"/>
<rect x="545.3" y="393" width="1.1" height="3" class="w"/>
<rect x="549.7" y="393" width="2.1" height="3" class="w"/>
<rect x="552.7" y="393" width="2.8" height="3" class="w"/>
<rect x="558.5" y="393" width="2.2" height="3" class="w"/>
<rect x="561.5" y="393" width="3" height="3" class="w"/>
<rect x="568.7" y="393" width="1.1" height="3" class="w"/>
<rect x="571.5" y="393" width="1.1" height="3" class="w"/>
<rect x="578.3" y="393" width="1.2" height="3" class="w"/>
<rect x="582" y="393" width="2" height="3" class="w"/>
<rect x="584.7" y="393" width="1.3" height="3" class="w"/>
<rect x="591.8" y="393" width="1.1" height="3" class="w"/>
<rect x="594" y="393" width="1.1" height="3" class="w"/>
<rect x="596.3" y="393" width="1.1" height="3" class="w"/>
<rect x="598.3" y="393" width="1.1" height="3" class="w"/>
<rect x="515" y="397" width="1" height="1" class="w"/>
<rect x="518" y="397" width="1" height="1" class="w"/>
<rect x="520.5" y="397" width="1" height="1" class="w"/>
<rect x="522.5" y="397" width="1" height="1" class="w"/>
<rect x="530" y="397" width="1" height="1" class="w"/>
<rect x="532" y="397" width="1" height="1" class="w"/>
<rect x="549.7" y="397" width="1.1" height="1" class="w"/>
<rect x="552" y="397" width="1" height="1" class="w"/>
<rect x="555" y="397" width="1.1" height="1" class="w"/>
<rect x="558.5" y="397" width="2" height="1" class="w"/>
<rect x="561.5" y="397" width="1" height="1" class="w"/>
<rect x="564" y="397" width="1" height="1" class="w"/>
<rect x="581.5" y="397" width="1" height="1" class="w"/>
<rect x="584" y="397" width="1" height="1" class="w"/>
<rect x="586" y="397" width="1" height="1" class="w"/>
<rect x="591.8" y="397" width="1" height="1" class="w"/>
<rect x="594" y="397" width="1" height="1" class="w"/>
<rect x="596.2" y="397" width="1" height="1" class="w"/>
<rect x="598.2" y="397" width="1" height="1" class="w"/>
<rect x="515" y="401" width="1.1" height="2" class="w"/>
<rect x="517.5" y="401" width="1.1" height="2" class="w"/>
<rect x="520" y="401" width="1.1" height="2" class="w"/>
<rect x="522.3" y="401" width="1.1" height="2" class="w"/>
<rect x="527.7" y="401" width="2" height="2" class="w"/>
<rect x="531" y="401" width="1.1" height="2" class="w"/>
<rect x="533.4" y="401" width="1.1" height="2" class="w"/>
<rect x="535.8" y="401" width="1.1" height="2" class="w"/>
<rect x="537.6" y="401" width="1.1" height="2" class="w"/>
<rect x="540.8" y="401" width="1.1" height="2" class="w"/>
<rect x="543" y="401" width="1.1" height="2" class="w"/>
<rect x="545.3" y="401" width="1.1" height="2" class="w"/>
<rect x="549.7" y="401" width="2" height="2" class="w"/>
<rect x="553" y="401" width="3" height="2" class="w"/>
<rect x="558.5" y="401" width="2.2" height="2" class="w"/>
<rect x="561.5" y="401" width="3" height="2" class="w"/>
<rect x="568.7" y="401" width="1.1" height="2" class="w"/>
<rect x="572" y="401" width="1.1" height="2" class="w"/>
<rect x="578.3" y="401" width="1.2" height="2" class="w"/>
<rect x="582" y="401" width="2.3" height="2" class="w"/>
<rect x="585" y="401" width="1.1" height="2" class="w"/>
<rect x="591.8" y="401" width="1.1" height="2" class="w"/>
<rect x="594" y="401" width="1.1" height="2" class="w"/>
<rect x="596.3" y="401" width="1.1" height="2" class="w"/>
<rect x="598.3" y="401" width="1.1" height="2" class="w"/>
<rect x="530" y="404" width="1.1" height="2" class="w"/>
<rect x="532.5" y="404" width="1.1" height="2" class="w"/>
<rect x="549.7" y="404" width="1.5" height="2" class="w"/>
<rect x="552" y="404" width="1" height="2" class="w"/>
<rect x="555" y="404" width="1" height="2" class="w"/>
<rect x="558.5" y="404" width="2" height="2" class="w"/>
<rect x="561.5" y="404" width="1" height="2" class="w"/>
<rect x="564" y="404" width="1" height="2" class="w"/>
<rect x="582" y="404" width="1" height="2" class="w"/>
<rect x="585" y="404" width="1" height="2" class="w"/>
<rect x="587" y="404" width="1" height="2" class="w"/>
<rect x="515" y="408" width="1.1" height="3" class="w"/>
<rect x="517.5" y="408" width="1.1" height="3" class="w"/>
<rect x="520" y="408" width="1.1" height="3" class="w"/>
<rect x="522.3" y="408" width="1.1" height="3" class="w"/>
<rect x="527.7" y="408" width="2" height="3" class="w"/>
<rect x="531" y="408" width="1.1" height="3" class="w"/>
<rect x="533.4" y="408" width="1.1" height="3" class="w"/>
<rect x="535.8" y="408" width="1.1" height="3" class="w"/>
<rect x="537.6" y="408" width="1.1" height="3" class="w"/>
<rect x="540.8" y="408" width="1.1" height="3" class="w"/>
<rect x="543" y="408" width="1.1" height="3" class="w"/>
<rect x="545.3" y="408" width="1.1" height="3" class="w"/>
<rect x="549.7" y="408" width="2.1" height="3" class="w"/>
<rect x="552.7" y="408" width="2.8" height="3" class="w"/>
<rect x="558.5" y="408" width="2.2" height="3" class="w"/>
<rect x="561.5" y="408" width="3" height="3" class="w"/>
<rect x="568.7" y="408" width="1.1" height="3" class="w"/>
<rect x="571.5" y="408" width="1.1" height="3" class="w"/>
<rect x="578.3" y="408" width="1.2" height="3" class="w"/>
<rect x="582" y="408" width="2" height="3" class="w"/>
<rect x="584.7" y="408" width="1.3" height="3" class="w"/>
<rect x="591.8" y="408" width="1.1" height="3" class="w"/>
<rect x="594" y="408" width="1.1" height="3" class="w"/>
<rect x="596.3" y="408" width="1.1" height="3" class="w"/>
<rect x="598.3" y="408" width="1.1" height="3" class="w"/>
<rect x="515" y="412" width="1" height="1" class="w"/>
<rect x="518" y="412" width="1" height="1" class="w"/>
<rect x="520.5" y="412" width="1" height="1" class="w"/>
<rect x="522.5" y="412" width="1" height="1" class="w"/>
<rect x="530" y="412" width="1" height="1" class="w"/>
<rect x="532" y="412" width="1" height="1" class="w"/>
<rect x="549.7" y="412" width="1.1" height="1" class="w"/>
<rect x="552" y="412" width="1" height="1" class="w"/>
<rect x="555" y="412" width="1.1" height="1" class="w"/>
<rect x="558.5" y="412" width="2" height="1" class="w"/>
<rect x="561.5" y="412" width="1" height="1" class="w"/>
<rect x="564" y="412" width="1" height="1" class="w"/>
<rect x="581.5" y="412" width="1" height="1" class="w"/>
<rect x="584" y="412" width="1" height="1" class="w"/>
<rect x="586" y="412" width="1" height="1" class="w"/>
<rect x="591.8" y="412" width="1" height="1" class="w"/>
<rect x="594" y="412" width="1" height="1" class="w"/>
<rect x="596.2" y="412" width="1" height="1" class="w"/>
<rect x="598.2" y="412" width="1" height="1" class="w"/>
<rect x="515" y="416" width="1.1" height="2" class="w"/>
<rect x="517.5" y="416" width="1.1" height="2" class="w"/>
<rect x="520" y="416" width="1.1" height="2" class="w"/>
<rect x="522.3" y="416" width="1.1" height="2" class="w"/>
<rect x="527.7" y="416" width="2" height="2" class="w"/>
<rect x="531" y="416" width="1.1" height="2" class="w"/>
<rect x="533.4" y="416" width="1.1" height="2" class="w"/>
<rect x="535.8" y="416" width="1.1" height="2" class="w"/>
<rect x="537.6" y="416" width="1.1" height="2" class="w"/>
<rect x="540.8" y="416" width="1.1" height="2" class="w"/>
<rect x="543" y="416" width="1.1" height="2" class="w"/>
<rect x="545.3" y="416" width="1.1" height="2" class="w"/>
<rect x="549.7" y="416" width="2" height="2" class="w"/>
<rect x="553" y="416" width="3" height="2" class="w"/>
<rect x="558.5" y="416" width="2.2" height="2" class="w"/>
<rect x="561.5" y="416" width="3" height="2" class="w"/>
<rect x="568.7" y="416" width="1.1" height="2" class="w"/>
<rect x="572" y="416" width="1.1" height="2" class="w"/>
<rect x="578.3" y="416" width="1.2" height="2" class="w"/>
<rect x="582" y="416" width="2.3" height="2" class="w"/>
<rect x="585" y="416" width="1.1" height="2" class="w"/>
<rect x="591.8" y="416" width="1.1" height="2" class="w"/>
<rect x="594" y="416" width="1.1" height="2" class="w"/>
<rect x="596.3" y="416" width="1.1" height="2" class="w"/>
<rect x="598.3" y="416" width="1.1" height="2" class="w"/>
<rect x="530" y="419" width="1.1" height="2" class="w"/>
<rect x="532.5" y="419" width="1.1" height="2" class="w"/>
<rect x="549.7" y="419" width="1.5" height="2" class="w"/>
<rect x="552" y="419" width="1" height="2" class="w"/>
<rect x="555" y="419" width="1" height="2" class="w"/>
<rect x="558.5" y="419" width="2" height="2" class="w"/>
<rect x="561.5" y="419" width="1" height="2" class="w"/>
<rect x="564" y="419" width="1" height="2" class="w"/>
<rect x="582" y="419" width="1" height="2" class="w"/>
<rect x="585" y="419" width="1" height="2" class="w"/>
<rect x="587" y="419" width="1" height="2" class="w"/>
<rect x="515" y="423" width="1.1" height="3" class="w"/>
<rect x="517.5" y="423" width="1.1" height="3" class="w"/>
<rect x="520" y="423" width="1.1" height="3" class="w"/>
<rect x="522.3" y="423" width="1.1" height="3" class="w"/>
<rect x="527.7" y="423" width="2" height="3" class="w"/>
<rect x="531" y="423" width="1.1" height="3" class="w"/>
<rect x="533.4" y="423" width="1.1" height="3" class="w"/>
<rect x="535.8" y="423" width="1.1" height="3" class="w"/>
<rect x="537.6" y="423" width="1.1" height="3" class="w"/>
<rect x="540.8" y="423" width="1.1" height="3" class="w"/>
<rect x="543" y="423" width="1.1" height="3" class="w"/>
<rect x="545.3" y="423" width="1.1" height="3" class="w"/>
<rect x="549.7" y="423" width="2.1" height="3" class="w"/>
<rect x="552.7" y="423" width="2.8" height="3" class="w"/>
<rect x="558.5" y="423" width="2.2" height="3" class="w"/>
<rect x="561.5" y="423" width="3" height="3" class="w"/>
<rect x="568.7" y="423" width="1.1" height="3" class="w"/>
<rect x="571.5" y="423" width="1.1" height="3" class="w"/>
<rect x="578.3" y="423" width="1.2" height="3" class="w"/>
<rect x="582" y="423" width="2" height="3" class="w"/>
<rect x="584.7" y="423" width="1.3" height="3" class="w"/>
<rect x="591.8" y="423" width="1.1" height="3" class="w"/>
<rect x="594" y="423" width="1.1" height="3" class="w"/>
<rect x="596.3" y="423" width="1.1" height="3" class="w"/>
<rect x="598.3" y="423" width="1.1" height="3" class="w"/>
<rect x="515" y="427" width="1" height="1" class="w"/>
<rect x="518" y="427" width="1" height="1" class="w"/>
<rect x="520.5" y="427" width="1" height="1" class="w"/>
<rect x="522.5" y="427" width="1" height="1" class="w"/>
<rect x="530" y="427" width="1" height="1" class="w"/>
<rect x="532" y="427" width="1" height="1" class="w"/>
<rect x="549.7" y="427" width="1.1" height="1" class="w"/>
<rect x="552" y="427" width="1" height="1" class="w"/>
<rect x="555" y="427" width="1.1" height="1" class="w"/>
<rect x="558.5" y="427" width="2" height="1" class="w"/>
<rect x="561.5" y="427" width="1" height="1" class="w"/>
<rect x="564" y="427" width="1" height="1" class="w"/>
<rect x="581.5" y="427" width="1" height="1" class="w"/>
<rect x="584" y="427" width="1" height="1" class="w"/>
<rect x="586" y="427" width="1" height="1" class="w"/>
<rect x="591.8" y="427" width="1" height="1" class="w"/>
<rect x="594" y="427" width="1" height="1" class="w"/>
<rect x="596.2" y="427" width="1" height="1" class="w"/>
<rect x="598.2" y="427" width="1" height="1" class="w"/>
<rect x="515" y="431" width="1.1" height="2" class="w"/>
<rect x="517.5" y="431" width="1.1" height="2" class="w"/>
<rect x="520" y="431" width="1.1" height="2" class="w"/>
<rect x="522.3" y="431" width="1.1" height="2" class="w"/>
<rect x="527.7" y="431" width="2" height="2" class="w"/>
<rect x="531" y="431" width="1.1" height="2" class="w"/>
<rect x="533.4" y="431" width="1.1" height="2" class="w"/>
<rect x="535.8" y="431" width="1.1" height="2" class="w"/>
<rect x="537.6" y="431" width="1.1" height="2" class="w"/>
<rect x="540.8" y="431" width="1.1" height="2" class="w"/>
<rect x="543" y="431" width="1.1" height="2" class="w"/>
<rect x="545.3" y="431" width="1.1" height="2" class="w"/>
<rect x="549.7" y="431" width="2" height="2" class="w"/>
<rect x="553" y="431" width="3" height="2" class="w"/>
<rect x="558.5" y="431" width="2.2" height="2" class="w"/>
<rect x="561.5" y="431" width="3" height="2" class="w"/>
<rect x="568.7" y="431" width="1.1" height="2" class="w"/>
<rect x="572" y="431" width="1.1" height="2" class="w"/>
<rect x="578.3" y="431" width="1.2" height="2" class="w"/>
<rect x="582" y="431" width="2.3" height="2" class="w"/>
<rect x="585" y="431" width="1.1" height="2" class="w"/>
<rect x="591.8" y="431" width="1.1" height="2" class="w"/>
<rect x="594" y="431" width="1.1" height="2" class="w"/>
<rect x="596.3" y="431" width="1.1" height="2" class="w"/>
<rect x="598.3" y="431" width="1.1" height="2" class="w"/>
<rect x="530" y="434" width="1.1" height="2" class="w"/>
<rect x="532.5" y="434" width="1.1" height="2" class="w"/>
<rect x="549.7" y="434" width="1.5" height="2" class="w"/>
<rect x="552" y="434" width="1" height="2" class="w"/>
<rect x="555" y="434" width="1" height="2" class="w"/>
<rect x="558.5" y="434" width="2" height="2" class="w"/>
<rect x="561.5" y="434" width="1" height="2" class="w"/>
<rect x="564" y="434" width="1" height="2" class="w"/>
<rect x="582" y="434" width="1" height="2" class="w"/>
<rect x="585" y="434" width="1" height="2" class="w"/>
<rect x="587" y="434" width="1" height="2" class="w"/>
<rect x="515" y="438" width="1.1" height="3" class="w"/>
<rect x="517.5" y="438" width="1.1" height="3" class="w"/>
<rect x="520" y="438" width="1.1" height="3" class="w"/>
<rect x="522.3" y="438" width="1.1" height="3" class="w"/>
<rect x="527.7" y="438" width="2" height="3" class="w"/>
<rect x="531" y="438" width="1.1" height="3" class="w"/>
<rect x="533.4" y="438" width="1.1" height="3" class="w"/>
<rect x="535.8" y="438" width="1.1" height="3" class="w"/>
<rect x="537.6" y="438" width="1.1" height="3" class="w"/>
<rect x="540.8" y="438" width="1.1" height="3" class="w"/>
<rect x="543" y="438" width="1.1" height="3" class="w"/>
<rect x="545.3" y="438" width="1.1" height="3" class="w"/>
<rect x="549.7" y="438" width="2.1" height="3" class="w"/>
<rect x="552.7" y="438" width="2.8" height="3" class="w"/>
<rect x="558.5" y="438" width="2.2" height="3" class="w"/>
<rect x="561.5" y="438" width="3" height="3" class="w"/>
<rect x="568.7" y="438" width="1.1" height="3" class="w"/>
<rect x="571.5" y="438" width="1.1" height="3" class="w"/>
<rect x="578.3" y="438" width="1.2" height="3" class="w"/>
<rect x="582" y="438" width="2" height="3" class="w"/>
<rect x="584.7" y="438" width="1.3" height="3" class="w"/>
<rect x="591.8" y="438" width="1.1" height="3" class="w"/>
<rect x="594" y="438" width="1.1" height="3" class="w"/>
<rect x="596.3" y="438" width="1.1" height="3" class="w"/>
<rect x="598.3" y="438" width="1.1" height="3" class="w"/>
<rect x="515" y="442" width="1" height="1" class="w"/>
<rect x="518" y="442" width="1" height="1" class="w"/>
<rect x="520.5" y="442" width="1" height="1" class="w"/>
<rect x="522.5" y="442" width="1" height="1" class="w"/>
<rect x="530" y="442" width="1" height="1" class="w"/>
<rect x="532" y="442" width="1" height="1" class="w"/>
<rect x="549.7" y="442" width="1.1" height="1" class="w"/>
<rect x="552" y="442" width="1" height="1" class="w"/>
<rect x="555" y="442" width="1.1" height="1" class="w"/>
<rect x="558.5" y="442" width="2" height="1" class="w"/>
<rect x="561.5" y="442" width="1" height="1" class="w"/>
<rect x="564" y="442" width="1" height="1" class="w"/>
<rect x="581.5" y="442" width="1" height="1" class="w"/>
<rect x="584" y="442" width="1" height="1" class="w"/>
<rect x="586" y="442" width="1" height="1" class="w"/>
<rect x="591.8" y="442" width="1" height="1" class="w"/>
<rect x="594" y="442" width="1" height="1" class="w"/>
<rect x="596.2" y="442" width="1" height="1" class="w"/>
<rect x="598.2" y="442" width="1" height="1" class="w"/>
<rect x="515" y="446" width="1.1" height="2" class="w"/>
<rect x="517.5" y="446" width="1.1" height="2" class="w"/>
<rect x="520" y="446" width="1.1" height="2" class="w"/>
<rect x="522.3" y="446" width="1.1" height="2" class="w"/>
<rect x="527.7" y="446" width="2" height="2" class="w"/>
<rect x="531" y="446" width="1.1" height="2" class="w"/>
<rect x="533.4" y="446" width="1.1" height="2" class="w"/>
<rect x="535.8" y="446" width="1.1" height="2" class="w"/>
<rect x="537.6" y="446" width="1.1" height="2" class="w"/>
<rect x="540.8" y="446" width="1.1" height="2" class="w"/>
<rect x="543" y="446" width="1.1" height="2" class="w"/>
<rect x="545.3" y="446" width="1.1" height="2" class="w"/>
<rect x="549.7" y="446" width="2" height="2" class="w"/>
<rect x="553" y="446" width="3" height="2" class="w"/>
<rect x="558.5" y="446" width="2.2" height="2" class="w"/>
<rect x="561.5" y="446" width="3" height="2" class="w"/>
<rect x="568.7" y="446" width="1.1" height="2" class="w"/>
<rect x="572" y="446" width="1.1" height="2" class="w"/>
<rect x="578.3" y="446" width="1.2" height="2" class="w"/>
<rect x="582" y="446" width="2.3" height="2" class="w"/>
<rect x="585" y="446" width="1.1" height="2" class="w"/>
<rect x="591.8" y="446" width="1.1" height="2" class="w"/>
<rect x="594" y="446" width="1.1" height="2" class="w"/>
<rect x="596.3" y="446" width="1.1" height="2" class="w"/>
<rect x="598.3" y="446" width="1.1" height="2" class="w"/>
<rect x="530" y="449" width="1.1" height="2" class="w"/>
<rect x="532.5" y="449" width="1.1" height="2" class="w"/>
<rect x="549.7" y="449" width="1.5" height="2" class="w"/>
<rect x="552" y="449" width="1" height="2" class="w"/>
<rect x="555" y="449" width="1" height="2" class="w"/>
<rect x="558.5" y="449" width="2" height="2" class="w"/>
<rect x="561.5" y="449" width="1" height="2" class="w"/>
<rect x="564" y="449" width="1" height="2" class="w"/>
<rect x="582" y="449" width="1" height="2" class="w"/>
<rect x="585" y="449" width="1" height="2" class="w"/>
<rect x="587" y="449" width="1" height="2" class="w"/>
<rect x="523" y="311" width="1" height="1.5" class="w"/>
<rect x="525" y="311" width="1" height="1.5" class="w"/>
<rect x="531" y="311" width="1.2" height="1.5" class="w"/>
<rect x="540" y="311" width="1" height="1.5" class="w"/>
<rect x="542" y="311" width="1" height="1.5" class="w"/>
<rect x="547" y="311" width="1" height="1.5" class="w"/>
<rect x="550" y="311" width="1" height="1.5" class="w"/>
<rect x="556" y="311" width="1" height="1.5" class="w"/>
<rect x="559" y="311" width="1" height="1.5" class="w"/>
<rect x="562" y="311" width="1" height="1.5" class="w"/>
<rect x="568" y="311" width="1" height="1.5" class="w"/>
<rect x="571" y="311" width="1" height="1.5" class="w"/>
<rect x="580" y="311" width="1" height="1.5" class="w"/>
<rect x="584" y="311" width="1" height="1.5" class="w"/>
<rect x="587" y="311" width="1" height="1.5" class="w"/>
<rect x="492" y="452.5" width="243" height="2"/>
<line x1="516" y1="457.5" x2="598" y2="457.5"/>
<line x1="516.5" y1="454" x2="516.5" y2="461"/>
<line x1="597.5" y1="454" x2="597.5" y2="461"/>
<rect x="515" y="460" width="3" height="2"/>
<rect x="596" y="460" width="3" height="2"/>
<rect x="555" y="456" width="4" height="1"/>
<rect x="547" y="464" width="17" height="1.5"/>
<line x1="547" y1="466.5" x2="565" y2="466.5"/>
<rect x="566" y="464" width="4" height="1" style="fill:#666"/>
<rect x="601" y="446.5" width="7" height="1"/>
<line x1="600" y1="448.5" x2="608" y2="448.5"/>
<rect x="621" y="306.5" width="4" height="2.5"/>
<line x1="620" y1="305" x2="624" y2="307.5"/>
<line x1="623" y1="309" x2="638" y2="309"/>
<rect x="621" y="314" width="4" height="2.5"/>
<line x1="620" y1="312.5" x2="624" y2="315"/>
<line x1="623" y1="316.5" x2="638" y2="316.5"/>
<rect x="621" y="321.5" width="4" height="2.5"/>
<line x1="620" y1="320" x2="624" y2="322.5"/>
<line x1="623" y1="324" x2="638" y2="324"/>
<rect x="621" y="329" width="4" height="2.5"/>
<line x1="620" y1="327.5" x2="624" y2="330"/>
<line x1="623" y1="331.5" x2="638" y2="331.5"/>
<rect x="621" y="336.5" width="4" height="2.5"/>
<line x1="620" y1="335" x2="624" y2="337.5"/>
<line x1="623" y1="339" x2="638" y2="339"/>
<rect x="621" y="344" width="4" height="2.5"/>
<line x1="620" y1="342.5" x2="624" y2="345"/>
<line x1="623" y1="346.5" x2="638" y2="346.5"/>
<rect x="621" y="351.5" width="4" height="2.5"/>
<line x1="620" y1="350" x2="624" y2="352.5"/>
<line x1="623" y1="354" x2="638" y2="354"/>
<rect x="621" y="359" width="4" height="2.5"/>
<line x1="620" y1="357.5" x2="624" y2="360"/>
<line x1="623" y1="361.5" x2="638" y2="361.5"/>
<rect x="621" y="366.5" width="4" height="2.5"/>
<line x1="620" y1="365" x2="624" y2="367.5"/>
<line x1="623" y1="369" x2="638" y2="369"/>
<rect x="621" y="374" width="4" height="2.5"/>
<line x1="620" y1="372.5" x2="624" y2="375"/>
<line x1="623" y1="376.5" x2="638" y2="376.5"/>
<rect x="621" y="381.5" width="4" height="2.5"/>
<line x1="620" y1="380" x2="624" y2="382.5"/>
<line x1="623" y1="384" x2="638" y2="384"/>
<rect x="621" y="389" width="4" height="2.5"/>
<line x1="620" y1="387.5" x2="624" y2="390"/>
<line x1="623" y1="391.5" x2="638" y2="391.5"/>
<rect x="621" y="396.5" width="4" height="2.5"/>
<line x1="620" y1="395" x2="624" y2="397.5"/>
<line x1="623" y1="399" x2="638" y2="399"/>
<rect x="621" y="404" width="4" height="2.5"/>
<line x1="620" y1="402.5" x2="624" y2="405"/>
<line x1="623" y1="406.5" x2="638" y2="406.5"/>
<rect x="621" y="411.5" width="4" height="2.5"/>
<line x1="620" y1="410" x2="624" y2="412.5"/>
<line x1="623" y1="414" x2="638" y2="414"/>
<rect x="621" y="419" width="4" height="2.5"/>
<line x1="620" y1="417.5" x2="624" y2="420"/>
<line x1="623" y1="421.5" x2="638" y2="421.5"/>
<rect x="621" y="426.5" width="4" height="2.5"/>
<line x1="620" y1="425" x2="624" y2="427.5"/>
<line x1="623" y1="429" x2="638" y2="429"/>
<rect x="621" y="434" width="4" height="2.5"/>
<line x1="620" y1="432.5" x2="624" y2="435"/>
<line x1="623" y1="436.5" x2="638" y2="436.5"/>
<rect x="621" y="441.5" width="4" height="2.5"/>
<line x1="620" y1="440" x2="624" y2="442.5"/>
<line x1="623" y1="444" x2="638" y2="444"/>
<rect x="621" y="449" width="4" height="2.5"/>
<line x1="620" y1="447.5" x2="624" y2="450"/>
<line x1="623" y1="451.5" x2="638" y2="451.5"/>
<rect x="628" y="306" width="3" height="147"/>
<rect x="629" y="309" width="1" height="2" class="w"/>
<rect x="629" y="313" width="1" height="2" class="w"/>
<rect x="629" y="316" width="1" height="2" class="w"/>
<rect x="629" y="320" width="1" height="2" class="w"/>
<rect x="629" y="324" width="1" height="2" class="w"/>
<rect x="629" y="328" width="1" height="2" class="w"/>
<rect x="629" y="332" width="1" height="2" class="w"/>
<rect x="629" y="335" width="1" height="2" class="w"/>
<rect x="629" y="339" width="1" height="2" class="w"/>
<rect x="629" y="343" width="1" height="2" class="w"/>
<rect x="629" y="346" width="1" height="2" class="w"/>
<rect x="629" y="350" width="1" height="2" class="w"/>
<rect x="629" y="354" width="1" height="2" class="w"/>
<rect x="629" y="358" width="1" height="2" class="w"/>
<rect x="629" y="362" width="1" height="2" class="w"/>
<rect x="629" y="365" width="1" height="2" class="w"/>
<rect x="629" y="369" width="1" height="2" class="w"/>
<rect x="629" y="373" width="1" height="2" class="w"/>
<rect x="629" y="376" width="1" height="2" class="w"/>
<rect x="629" y="380" width="1" height="2" class="w"/>
<rect x="629" y="384" width="1" height="2" class="w"/>
<rect x="629" y="388" width="1" height="2" class="w"/>
<rect x="629" y="392" width="1" height="2" class="w"/>
<rect x="629" y="395" width="1" height="2" class="w"/>
<rect x="629" y="399" width="1" height="2" class="w"/>
<rect x="629" y="403" width="1" height="2" class="w"/>
<rect x="629" y="406" width="1" height="2" class="w"/>
<rect x="629" y="410" width="1" height="2" class="w"/>
<rect x="629" y="414" width="1" height="2" class="w"/>
<rect x="629" y="418" width="1" height="2" class="w"/>
<rect x="629" y="422" width="1" height="2" class="w"/>
<rect x="629" y="425" width="1" height="2" class="w"/>
<rect x="629" y="429" width="1" height="2" class="w"/>
<rect x="629" y="433" width="1" height="2" class="w"/>
<rect x="629" y="436" width="1" height="2" class="w"/>
<rect x="629" y="440" width="1" height="2" class="w"/>
<rect x="629" y="444" width="1" height="2" class="w"/>
<rect x="629" y="448" width="1" height="2" class="w"/>
<rect x="622" y="306" width="8" height="2"/>
<line x1="626" y1="307.5" x2="637" y2="307.5"/>
<rect x="643" y="313" width="84.5" height="139.5"/>
<rect x="648.3" y="305" width="74.5" height="9"/>
<rect x="675.3" y="294" width="20.7" height="12"/>
<rect x="689" y="292" width="3.5" height="2"/>
<rect x="669" y="301" width="6.3" height="4"/>
<rect x="696" y="301" width="5.7" height="4"/>
<rect x="670" y="302" width="5" height="1" class="w"/>
<rect x="671" y="304" width="4" height="1" class="w"/>
<rect x="696" y="302" width="5" height="1" class="w"/>
<rect x="696" y="304" width="4" height="1" class="w"/>
<rect x="682" y="305" width="1" height="2" class="w"/>
<rect x="684" y="305" width="1" height="2" class="w"/>
<rect x="683" y="312" width="1" height="1" class="w"/>
<rect x="685" y="312" width="1" height="1" class="w"/>
<rect x="692" y="312" width="1" height="1" class="w"/>
<line x1="724" y1="310" x2="733" y2="306.5"/>
<rect x="726" y="306" width="7" height="1.5"/>
<line x1="724" y1="313" x2="729" y2="312"/>
<rect x="725" y="311.5" width="4" height="1.5"/>
<rect x="654" y="315" width="1.8" height="1" class="w"/>
<rect x="657" y="315" width="1.8" height="1" class="w"/>
<rect x="660" y="315" width="1.8" height="1" class="w"/>
<rect x="663" y="315" width="1.8" height="1" class="w"/>
<rect x="666" y="315" width="1.8" height="1" class="w"/>
<rect x="669" y="315" width="1.8" height="1" class="w"/>
<rect x="672" y="315" width="1.8" height="1" class="w"/>
<rect x="675" y="315" width="1.8" height="1" class="w"/>
<rect x="696" y="315" width="1.8" height="1" class="w"/>
<rect x="699" y="315" width="1.8" height="1" class="w"/>
<rect x="702" y="315" width="1.8" height="1" class="w"/>
<rect x="705" y="315" width="1.8" height="1" class="w"/>
<rect x="708" y="315" width="1.8" height="1" class="w"/>
<rect x="711" y="315" width="1.8" height="1" class="w"/>
<rect x="714" y="315" width="1.8" height="1" class="w"/>
<rect x="717" y="315" width="1.8" height="1" class="w"/>
<rect x="663.5" y="311" width="1" height="2" class="w"/>
<rect x="667" y="311" width="1" height="2" class="w"/>
<rect x="669" y="311" width="1" height="2" class="w"/>
<rect x="673" y="311" width="1" height="2" class="w"/>
<rect x="678" y="311" width="1" height="2" class="w"/>
<rect x="680" y="311" width="1" height="2" class="w"/>
<rect x="707" y="311" width="1" height="2" class="w"/>
<rect x="657" y="318" width="1" height="2.7" class="w"/>
<rect x="659.5" y="318" width="1" height="2.7" class="w"/>
<rect x="665" y="318" width="1" height="2.7" class="w"/>
<rect x="673" y="318" width="1" height="2.7" class="w"/>
<rect x="683" y="318" width="1" height="2.7" class="w"/>
<rect x="685.5" y="318" width="1" height="2.7" class="w"/>
<rect x="692.3" y="318" width="1" height="2.7" class="w"/>
<rect x="705.3" y="318" width="1" height="2.7" class="w"/>
<rect x="711.3" y="318" width="1" height="2.7" class="w"/>
<rect x="713.5" y="318" width="1" height="2.7" class="w"/>
<rect x="715.5" y="318" width="1" height="2.7" class="w"/>
<rect x="671" y="322" width="1" height="1" class="w"/>
<rect x="674" y="322" width="1" height="1" class="w"/>
<rect x="697" y="322" width="1" height="1" class="w"/>
<rect x="700" y="322" width="1" height="1" class="w"/>
<rect x="644" y="318" width="4" height="2.7" class="w"/>
<rect x="723.5" y="318" width="3" height="2.7" class="w"/>
<rect x="644" y="322" width="1" height="1" class="w"/>
<rect x="646" y="322" width="1" height="1" class="w"/>
<rect x="723.5" y="322" width="1" height="1" class="w"/>
<rect x="725.5" y="322" width="1" height="1" class="w"/>
<rect x="657" y="325.5" width="1" height="2.7" class="w"/>
<rect x="659.5" y="325.5" width="1" height="2.7" class="w"/>
<rect x="665" y="325.5" width="1" height="2.7" class="w"/>
<rect x="673" y="325.5" width="1" height="2.7" class="w"/>
<rect x="683" y="325.5" width="1" height="2.7" class="w"/>
<rect x="685.5" y="325.5" width="1" height="2.7" class="w"/>
<rect x="692.3" y="325.5" width="1" height="2.7" class="w"/>
<rect x="705.3" y="325.5" width="1" height="2.7" class="w"/>
<rect x="711.3" y="325.5" width="1" height="2.7" class="w"/>
<rect x="713.5" y="325.5" width="1" height="2.7" class="w"/>
<rect x="715.5" y="325.5" width="1" height="2.7" class="w"/>
<rect x="671" y="329.5" width="1" height="1" class="w"/>
<rect x="674" y="329.5" width="1" height="1" class="w"/>
<rect x="697" y="329.5" width="1" height="1" class="w"/>
<rect x="700" y="329.5" width="1" height="1" class="w"/>
<rect x="644" y="325.5" width="4" height="2.7" class="w"/>
<rect x="723.5" y="325.5" width="3" height="2.7" class="w"/>
<rect x="644" y="329.5" width="1" height="1" class="w"/>
<rect x="646" y="329.5" width="1" height="1" class="w"/>
<rect x="723.5" y="329.5" width="1" height="1" class="w"/>
<rect x="725.5" y="329.5" width="1" height="1" class="w"/>
<rect x="657" y="333" width="1" height="2.7" class="w"/>
<rect x="659.5" y="333" width="1" height="2.7" class="w"/>
<rect x="665" y="333" width="1" height="2.7" class="w"/>
<rect x="673" y="333" width="1" height="2.7" class="w"/>
<rect x="683" y="333" width="1" height="2.7" class="w"/>
<rect x="685.5" y="333" width="1" height="2.7" class="w"/>
<rect x="692.3" y="333" width="1" height="2.7" class="w"/>
<rect x="705.3" y="333" width="1" height="2.7" class="w"/>
<rect x="711.3" y="333" width="1" height="2.7" class="w"/>
<rect x="713.5" y="333" width="1" height="2.7" class="w"/>
<rect x="715.5" y="333" width="1" height="2.7" class="w"/>
<rect x="671" y="337" width="1" height="1" class="w"/>
<rect x="674" y="337" width="1" height="1" class="w"/>
<rect x="697" y="337" width="1" height="1" class="w"/>
<rect x="700" y="337" width="1" height="1" class="w"/>
<rect x="644" y="333" width="4" height="2.7" class="w"/>
<rect x="723.5" y="333" width="3" height="2.7" class="w"/>
<rect x="644" y="337" width="1" height="1" class="w"/>
<rect x="646" y="337" width="1" height="1" class="w"/>
<rect x="723.5" y="337" width="1" height="1" class="w"/>
<rect x="725.5" y="337" width="1" height="1" class="w"/>
<rect x="657" y="340.5" width="1" height="2.7" class="w"/>
<rect x="659.5" y="340.5" width="1" height="2.7" class="w"/>
<rect x="665" y="340.5" width="1" height="2.7" class="w"/>
<rect x="673" y="340.5" width="1" height="2.7" class="w"/>
<rect x="683" y="340.5" width="1" height="2.7" class="w"/>
<rect x="685.5" y="340.5" width="1" height="2.7" class="w"/>
<rect x="692.3" y="340.5" width="1" height="2.7" class="w"/>
<rect x="705.3" y="340.5" width="1" height="2.7" class="w"/>
<rect x="711.3" y="340.5" width="1" height="2.7" class="w"/>
<rect x="713.5" y="340.5" width="1" height="2.7" class="w"/>
<rect x="715.5" y="340.5" width="1" height="2.7" class="w"/>
<rect x="671" y="344.5" width="1" height="1" class="w"/>
<rect x="674" y="344.5" width="1" height="1" class="w"/>
<rect x="697" y="344.5" width="1" height="1" class="w"/>
<rect x="700" y="344.5" width="1" height="1" class="w"/>
<rect x="644" y="340.5" width="4" height="2.7" class="w"/>
<rect x="723.5" y="340.5" width="3" height="2.7" class="w"/>
<rect x="644" y="344.5" width="1" height="1" class="w"/>
<rect x="646" y="344.5" width="1" height="1" class="w"/>
<rect x="723.5" y="344.5" width="1" height="1" class="w"/>
<rect x="725.5" y="344.5" width="1" height="1" class="w"/>
<rect x="657" y="348" width="1" height="2.7" class="w"/>
<rect x="659.5" y="348" width="1" height="2.7" class="w"/>
<rect x="665" y="348" width="1" height="2.7" class="w"/>
<rect x="673" y="348" width="1" height="2.7" class="w"/>
<rect x="683" y="348" width="1" height="2.7" class="w"/>
<rect x="685.5" y="348" width="1" height="2.7" class="w"/>
<rect x="692.3" y="348" width="1" height="2.7" class="w"/>
<rect x="705.3" y="348" width="1" height="2.7" class="w"/>
<rect x="711.3" y="348" width="1" height="2.7" class="w"/>
<rect x="713.5" y="348" width="1" height="2.7" class="w"/>
<rect x="715.5" y="348" width="1" height="2.7" class="w"/>
<rect x="671" y="352" width="1" height="1" class="w"/>
<rect x="674" y="352" width="1" height="1" class="w"/>
<rect x="697" y="352" width="1" height="1" class="w"/>
<rect x="700" y="352" width="1" height="1" class="w"/>
<rect x="644" y="348" width="4" height="2.7" class="w"/>
<rect x="723.5" y="348" width="3" height="2.7" class="w"/>
<rect x="644" y="352" width="1" height="1" class="w"/>
<rect x="646" y="352" width="1" height="1" class="w"/>
<rect x="723.5" y="352" width="1" height="1" class="w"/>
<rect x="725.5" y="352" width="1" height="1" class="w"/>
<rect x="657" y="355.5" width="1" height="2.7" class="w"/>
<rect x="659.5" y="355.5" width="1" height="2.7" class="w"/>
<rect x="665" y="355.5" width="1" height="2.7" class="w"/>
<rect x="673" y="355.5" width="1" height="2.7" class="w"/>
<rect x="683" y="355.5" width="1" height="2.7" class="w"/>
<rect x="685.5" y="355.5" width="1" height="2.7" class="w"/>
<rect x="692.3" y="355.5" width="1" height="2.7" class="w"/>
<rect x="705.3" y="355.5" width="1" height="2.7" class="w"/>
<rect x="711.3" y="355.5" width="1" height="2.7" class="w"/>
<rect x="713.5" y="355.5" width="1" height="2.7" class="w"/>
<rect x="715.5" y="355.5" width="1" height="2.7" class="w"/>
<rect x="671" y="359.5" width="1" height="1" class="w"/>
<rect x="674" y="359.5" width="1" height="1" class="w"/>
<rect x="697" y="359.5" width="1" height="1" class="w"/>
<rect x="700" y="359.5" width="1" height="1" class="w"/>
<rect x="644" y="355.5" width="4" height="2.7" class="w"/>
<rect x="723.5" y="355.5" width="3" height="2.7" class="w"/>
<rect x="644" y="359.5" width="1" height="1" class="w"/>
<rect x="646" y="359.5" width="1" height="1" class="w"/>
<rect x="723.5" y="359.5" width="1" height="1" class="w"/>
<rect x="725.5" y="359.5" width="1" height="1" class="w"/>
<rect x="657" y="363" width="1" height="2.7" class="w"/>
<rect x="659.5" y="363" width="1" height="2.7" class="w"/>
<rect x="665" y="363" width="1" height="2.7" class="w"/>
<rect x="673" y="363" width="1" height="2.7" class="w"/>
<rect x="683" y="363" width="1" height="2.7" class="w"/>
<rect x="685.5" y="363" width="1" height="2.7" class="w"/>
<rect x="692.3" y="363" width="1" height="2.7" class="w"/>
<rect x="705.3" y="363" width="1" height="2.7" class="w"/>
<rect x="711.3" y="363" width="1" height="2.7" class="w"/>
<rect x="713.5" y="363" width="1" height="2.7" class="w"/>
<rect x="715.5" y="363" width="1" height="2.7" class="w"/>
<rect x="671" y="367" width="1" height="1" class="w"/>
<rect x="674" y="367" width="1" height="1" class="w"/>
<rect x="697" y="367" width="1" height="1" class="w"/>
<rect x="700" y="367" width="1" height="1" class="w"/>
<rect x="644" y="363" width="4" height="2.7" class="w"/>
<rect x="723.5" y="363" width="3" height="2.7" class="w"/>
<rect x="644" y="367" width="1" height="1" class="w"/>
<rect x="646" y="367" width="1" height="1" class="w"/>
<rect x="723.5" y="367" width="1" height="1" class="w"/>
<rect x="725.5" y="367" width="1" height="1" class="w"/>
<rect x="657" y="370.5" width="1" height="2.7" class="w"/>
<rect x="659.5" y="370.5" width="1" height="2.7" class="w"/>
<rect x="665" y="370.5" width="1" height="2.7" class="w"/>
<rect x="673" y="370.5" width="1" height="2.7" class="w"/>
<rect x="683" y="370.5" width="1" height="2.7" class="w"/>
<rect x="685.5" y="370.5" width="1" height="2.7" class="w"/>
<rect x="692.3" y="370.5" width="1" height="2.7" class="w"/>
<rect x="705.3" y="370.5" width="1" height="2.7" class="w"/>
<rect x="711.3" y="370.5" width="1" height="2.7" class="w"/>
<rect x="713.5" y="370.5" width="1" height="2.7" class="w"/>
<rect x="715.5" y="370.5" width="1" height="2.7" class="w"/>
<rect x="671" y="374.5" width="1" height="1" class="w"/>
<rect x="674" y="374.5" width="1" height="1" class="w"/>
<rect x="697" y="374.5" width="1" height="1" class="w"/>
<rect x="700" y="374.5" width="1" height="1" class="w"/>
<rect x="644" y="370.5" width="4" height="2.7" class="w"/>
<rect x="723.5" y="370.5" width="3" height="2.7" class="w"/>
<rect x="644" y="374.5" width="1" height="1" class="w"/>
<rect x="646" y="374.5" width="1" height="1" class="w"/>
<rect x="723.5" y="374.5" width="1" height="1" class="w"/>
<rect x="725.5" y="374.5" width="1" height="1" class="w"/>
<rect x="657" y="378" width="1" height="2.7" class="w"/>
<rect x="659.5" y="378" width="1" height="2.7" class="w"/>
<rect x="665" y="378" width="1" height="2.7" class="w"/>
<rect x="673" y="378" width="1" height="2.7" class="w"/>
<rect x="683" y="378" width="1" height="2.7" class="w"/>
<rect x="685.5" y="378" width="1" height="2.7" class="w"/>
<rect x="692.3" y="378" width="1" height="2.7" class="w"/>
<rect x="705.3" y="378" width="1" height="2.7" class="w"/>
<rect x="711.3" y="378" width="1" height="2.7" class="w"/>
<rect x="713.5" y="378" width="1" height="2.7" class="w"/>
<rect x="715.5" y="378" width="1" height="2.7" class="w"/>
<rect x="671" y="382" width="1" height="1" class="w"/>
<rect x="674" y="382" width="1" height="1" class="w"/>
<rect x="697" y="382" width="1" height="1" class="w"/>
<rect x="700" y="382" width="1" height="1" class="w"/>
<rect x="644" y="378" width="4" height="2.7" class="w"/>
<rect x="723.5" y="378" width="3" height="2.7" class="w"/>
<rect x="644" y="382" width="1" height="1" class="w"/>
<rect x="646" y="382" width="1" height="1" class="w"/>
<rect x="723.5" y="382" width="1" height="1" class="w"/>
<rect x="725.5" y="382" width="1" height="1" class="w"/>
<rect x="657" y="385.5" width="1" height="2.7" class="w"/>
<rect x="659.5" y="385.5" width="1" height="2.7" class="w"/>
<rect x="665" y="385.5" width="1" height="2.7" class="w"/>
<rect x="673" y="385.5" width="1" height="2.7" class="w"/>
<rect x="683" y="385.5" width="1" height="2.7" class="w"/>
<rect x="685.5" y="385.5" width="1" height="2.7" class="w"/>
<rect x="692.3" y="385.5" width="1" height="2.7" class="w"/>
<rect x="705.3" y="385.5" width="1" height="2.7" class="w"/>
<rect x="711.3" y="385.5" width="1" height="2.7" class="w"/>
<rect x="713.5" y="385.5" width="1" height="2.7" class="w"/>
<rect x="715.5" y="385.5" width="1" height="2.7" class="w"/>
<rect x="671" y="389.5" width="1" height="1" class="w"/>
<rect x="674" y="389.5" width="1" height="1" class="w"/>
<rect x="697" y="389.5" width="1" height="1" class="w"/>
<rect x="700" y="389.5" width="1" height="1" class="w"/>
<rect x="644" y="385.5" width="4" height="2.7" class="w"/>
<rect x="723.5" y="385.5" width="3" height="2.7" class="w"/>
<rect x="644" y="389.5" width="1" height="1" class="w"/>
<rect x="646" y="389.5" width="1" height="1" class="w"/>
<rect x="723.5" y="389.5" width="1" height="1" class="w"/>
<rect x="725.5" y="389.5" width="1" height="1" class="w"/>
<rect x="657" y="393" width="1" height="2.7" class="w"/>
<rect x="659.5" y="393" width="1" height="2.7" class="w"/>
<rect x="665" y="393" width="1" height="2.7" class="w"/>
<rect x="673" y="393" width="1" height="2.7" class="w"/>
<rect x="683" y="393" width="1" height="2.7" class="w"/>
<rect x="685.5" y="393" width="1" height="2.7" class="w"/>
<rect x="692.3" y="393" width="1" height="2.7" class="w"/>
<rect x="705.3" y="393" width="1" height="2.7" class="w"/>
<rect x="711.3" y="393" width="1" height="2.7" class="w"/>
<rect x="713.5" y="393" width="1" height="2.7" class="w"/>
<rect x="715.5" y="393" width="1" height="2.7" class="w"/>
<rect x="671" y="397" width="1" height="1" class="w"/>
<rect x="674" y="397" width="1" height="1" class="w"/>
<rect x="697" y="397" width="1" height="1" class="w"/>
<rect x="700" y="397" width="1" height="1" class="w"/>
<rect x="644" y="393" width="4" height="2.7" class="w"/>
<rect x="723.5" y="393" width="3" height="2.7" class="w"/>
<rect x="644" y="397" width="1" height="1" class="w"/>
<rect x="646" y="397" width="1" height="1" class="w"/>
<rect x="723.5" y="397" width="1" height="1" class="w"/>
<rect x="725.5" y="397" width="1" height="1" class="w"/>
<rect x="657" y="400.5" width="1" height="2.7" class="w"/>
<rect x="659.5" y="400.5" width="1" height="2.7" class="w"/>
<rect x="665" y="400.5" width="1" height="2.7" class="w"/>
<rect x="673" y="400.5" width="1" height="2.7" class="w"/>
<rect x="683" y="400.5" width="1" height="2.7" class="w"/>
<rect x="685.5" y="400.5" width="1" height="2.7" class="w"/>
<rect x="692.3" y="400.5" width="1" height="2.7" class="w"/>
<rect x="705.3" y="400.5" width="1" height="2.7" class="w"/>
<rect x="711.3" y="400.5" width="1" height="2.7" class="w"/>
<rect x="713.5" y="400.5" width="1" height="2.7" class="w"/>
<rect x="715.5" y="400.5" width="1" height="2.7" class="w"/>
<rect x="671" y="404.5" width="1" height="1" class="w"/>
<rect x="674" y="404.5" width="1" height="1" class="w"/>
<rect x="697" y="404.5" width="1" height="1" class="w"/>
<rect x="700" y="404.5" width="1" height="1" class="w"/>
<rect x="644" y="400.5" width="4" height="2.7" class="w"/>
<rect x="723.5" y="400.5" width="3" height="2.7" class="w"/>
<rect x="644" y="404.5" width="1" height="1" class="w"/>
<rect x="646" y="404.5" width="1" height="1" class="w"/>
<rect x="723.5" y="404.5" width="1" height="1" class="w"/>
<rect x="725.5" y="404.5" width="1" height="1" class="w"/>
<rect x="657" y="408" width="1" height="2.7" class="w"/>
<rect x="659.5" y="408" width="1" height="2.7" class="w"/>
<rect x="665" y="408" width="1" height="2.7" class="w"/>
<rect x="673" y="408" width="1" height="2.7" class="w"/>
<rect x="683" y="408" width="1" height="2.7" class="w"/>
<rect x="685.5" y="408" width="1" height="2.7" class="w"/>
<rect x="692.3" y="408" width="1" height="2.7" class="w"/>
<rect x="705.3" y="408" width="1" height="2.7" class="w"/>
<rect x="711.3" y="408" width="1" height="2.7" class="w"/>
<rect x="713.5" y="408" width="1" height="2.7" class="w"/>
<rect x="715.5" y="408" width="1" height="2.7" class="w"/>
<rect x="671" y="412" width="1" height="1" class="w"/>
<rect x="674" y="412" width="1" height="1" class="w"/>
<rect x="697" y="412" width="1" height="1" class="w"/>
<rect x="700" y="412" width="1" height="1" class="w"/>
<rect x="644" y="408" width="4" height="2.7" class="w"/>
<rect x="723.5" y="408" width="3" height="2.7" class="w"/>
<rect x="644" y="412" width="1" height="1" class="w"/>
<rect x="646" y="412" width="1" height="1" class="w"/>
<rect x="723.5" y="412" width="1" height="1" class="w"/>
<rect x="725.5" y="412" width="1" height="1" class="w"/>
<rect x="657" y="415.5" width="1" height="2.7" class="w"/>
<rect x="659.5" y="415.5" width="1" height="2.7" class="w"/>
<rect x="665" y="415.5" width="1" height="2.7" class="w"/>
<rect x="673" y="415.5" width="1" height="2.7" class="w"/>
<rect x="683" y="415.5" width="1" height="2.7" class="w"/>
<rect x="685.5" y="415.5" width="1" height="2.7" class="w"/>
<rect x="692.3" y="415.5" width="1" height="2.7" class="w"/>
<rect x="705.3" y="415.5" width="1" height="2.7" class="w"/>
<rect x="711.3" y="415.5" width="1" height="2.7" class="w"/>
<rect x="713.5" y="415.5" width="1" height="2.7" class="w"/>
<rect x="715.5" y="415.5" width="1" height="2.7" class="w"/>
<rect x="671" y="419.5" width="1" height="1" class="w"/>
<rect x="674" y="419.5" width="1" height="1" class="w"/>
<rect x="697" y="419.5" width="1" height="1" class="w"/>
<rect x="700" y="419.5" width="1" height="1" class="w"/>
<rect x="644" y="415.5" width="4" height="2.7" class="w"/>
<rect x="723.5" y="415.5" width="3" height="2.7" class="w"/>
<rect x="644" y="419.5" width="1" height="1" class="w"/>
<rect x="646" y="419.5" width="1" height="1" class="w"/>
<rect x="723.5" y="419.5" width="1" height="1" class="w"/>
<rect x="725.5" y="419.5" width="1" height="1" class="w"/>
<rect x="657" y="423" width="1" height="2.7" class="w"/>
<rect x="659.5" y="423" width="1" height="2.7" class="w"/>
<rect x="665" y="423" width="1" height="2.7" class="w"/>
<rect x="673" y="423" width="1" height="2.7" class="w"/>
<rect x="683" y="423" width="1" height="2.7" class="w"/>
<rect x="685.5" y="423" width="1" height="2.7" class="w"/>
<rect x="692.3" y="423" width="1" height="2.7" class="w"/>
<rect x="705.3" y="423" width="1" height="2.7" class="w"/>
<rect x="711.3" y="423" width="1" height="2.7" class="w"/>
<rect x="713.5" y="423" width="1" height="2.7" class="w"/>
<rect x="715.5" y="423" width="1" height="2.7" class="w"/>
<rect x="671" y="427" width="1" height="1" class="w"/>
<rect x="674" y="427" width="1" height="1" class="w"/>
<rect x="697" y="427" width="1" height="1" class="w"/>
<rect x="700" y="427" width="1" height="1" class="w"/>
<rect x="644" y="423" width="4" height="2.7" class="w"/>
<rect x="723.5" y="423" width="3" height="2.7" class="w"/>
<rect x="644" y="427" width="1" height="1" class="w"/>
<rect x="646" y="427" width="1" height="1" class="w"/>
<rect x="723.5" y="427" width="1" height="1" class="w"/>
<rect x="725.5" y="427" width="1" height="1" class="w"/>
<rect x="657" y="430.5" width="1" height="2.7" class="w"/>
<rect x="659.5" y="430.5" width="1" height="2.7" class="w"/>
<rect x="665" y="430.5" width="1" height="2.7" class="w"/>
<rect x="673" y="430.5" width="1" height="2.7" class="w"/>
<rect x="683" y="430.5" width="1" height="2.7" class="w"/>
<rect x="685.5" y="430.5" width="1" height="2.7" class="w"/>
<rect x="692.3" y="430.5" width="1" height="2.7" class="w"/>
<rect x="705.3" y="430.5" width="1" height="2.7" class="w"/>
<rect x="711.3" y="430.5" width="1" height="2.7" class="w"/>
<rect x="713.5" y="430.5" width="1" height="2.7" class="w"/>
<rect x="715.5" y="430.5" width="1" height="2.7" class="w"/>
<rect x="671" y="434.5" width="1" height="1" class="w"/>
<rect x="674" y="434.5" width="1" height="1" class="w"/>
<rect x="697" y="434.5" width="1" height="1" class="w"/>
<rect x="700" y="434.5" width="1" height="1" class="w"/>
<rect x="644" y="430.5" width="4" height="2.7" class="w"/>
<rect x="723.5" y="430.5" width="3" height="2.7" class="w"/>
<rect x="644" y="434.5" width="1" height="1" class="w"/>
<rect x="646" y="434.5" width="1" height="1" class="w"/>
<rect x="723.5" y="434.5" width="1" height="1" class="w"/>
<rect x="725.5" y="434.5" width="1" height="1" class="w"/>
<rect x="657" y="438" width="1" height="2.7" class="w"/>
<rect x="659.5" y="438" width="1" height="2.7" class="w"/>
<rect x="665" y="438" width="1" height="2.7" class="w"/>
<rect x="673" y="438" width="1" height="2.7" class="w"/>
<rect x="683" y="438" width="1" height="2.7" class="w"/>
<rect x="685.5" y="438" width="1" height="2.7" class="w"/>
<rect x="692.3" y="438" width="1" height="2.7" class="w"/>
<rect x="705.3" y="438" width="1" height="2.7" class="w"/>
<rect x="711.3" y="438" width="1" height="2.7" class="w"/>
<rect x="713.5" y="438" width="1" height="2.7" class="w"/>
<rect x="715.5" y="438" width="1" height="2.7" class="w"/>
<rect x="671" y="442" width="1" height="1" class="w"/>
<rect x="674" y="442" width="1" height="1" class="w"/>
<rect x="697" y="442" width="1" height="1" class="w"/>
<rect x="700" y="442" width="1" height="1" class="w"/>
<rect x="644" y="438" width="4" height="2.7" class="w"/>
<rect x="723.5" y="438" width="3" height="2.7" class="w"/>
<rect x="644" y="442" width="1" height="1" class="w"/>
<rect x="646" y="442" width="1" height="1" class="w"/>
<rect x="723.5" y="442" width="1" height="1" class="w"/>
<rect x="725.5" y="442" width="1" height="1" class="w"/>
<rect x="657" y="445.5" width="1" height="2.7" class="w"/>
<rect x="659.5" y="445.5" width="1" height="2.7" class="w"/>
<rect x="665" y="445.5" width="1" height="2.7" class="w"/>
<rect x="673" y="445.5" width="1" height="2.7" class="w"/>
<rect x="683" y="445.5" width="1" height="2.7" class="w"/>
<rect x="685.5" y="445.5" width="1" height="2.7" class="w"/>
<rect x="692.3" y="445.5" width="1" height="2.7" class="w"/>
<rect x="705.3" y="445.5" width="1" height="2.7" class="w"/>
<rect x="711.3" y="445.5" width="1" height="2.7" class="w"/>
<rect x="713.5" y="445.5" width="1" height="2.7" class="w"/>
<rect x="715.5" y="445.5" width="1" height="2.7" class="w"/>
<rect x="671" y="449.5" width="1" height="1" class="w"/>
<rect x="674" y="449.5" width="1" height="1" class="w"/>
<rect x="697" y="449.5" width="1" height="1" class="w"/>
<rect x="700" y="449.5" width="1" height="1" class="w"/>
<rect x="644" y="445.5" width="4" height="2.7" class="w"/>
<rect x="723.5" y="445.5" width="3" height="2.7" class="w"/>
<rect x="644" y="449.5" width="1" height="1" class="w"/>
<rect x="646" y="449.5" width="1" height="1" class="w"/>
<rect x="723.5" y="449.5" width="1" height="1" class="w"/>
<rect x="725.5" y="449.5" width="1" height="1" class="w"/>
<line x1="644" y1="457.5" x2="727" y2="457.5"/>
<line x1="644.5" y1="454" x2="644.5" y2="461"/>
<line x1="726.5" y1="454" x2="726.5" y2="461"/>
<line x1="661.5" y1="454" x2="661.5" y2="459"/>
<rect x="643" y="460" width="3" height="2"/>
<rect x="725" y="460" width="3" height="2"/>
<rect x="660" y="458" width="3" height="2"/>
<rect x="675" y="464" width="16" height="1.5"/>
<line x1="675" y1="466.5" x2="691" y2="466.5"/>
<rect x="693" y="464" width="4" height="1" style="fill:#666"/>
<rect x="730" y="446.5" width="7" height="1"/>
<line x1="729" y1="448.5" x2="737" y2="448.5"/>
<g transform="translate(-1,-176)">
<rect x="31" y="338" width="83" height="3"/>
<rect x="34" y="339" width="2" height="1" class="w"/>
<rect x="39" y="339" width="2" height="1" class="w"/>
<rect x="44" y="339" width="2" height="1" class="w"/>
<rect x="49" y="339" width="2" height="1" class="w"/>
<rect x="54" y="339" width="2" height="1" class="w"/>
<rect x="59" y="339" width="2" height="1" class="w"/>
<rect x="64" y="339" width="2" height="1" class="w"/>
<rect x="69" y="339" width="2" height="1" class="w"/>
<rect x="74" y="339" width="2" height="1" class="w"/>
<rect x="79" y="339" width="2" height="1" class="w"/>
<rect x="84" y="339" width="2" height="1" class="w"/>
<rect x="89" y="339" width="2" height="1" class="w"/>
<rect x="94" y="339" width="2" height="1" class="w"/>
<rect x="99" y="339" width="2" height="1" class="w"/>
<rect x="104" y="339" width="2" height="1" class="w"/>
<rect x="109" y="339" width="2" height="1" class="w"/>
<line x1="32" y1="333" x2="32" y2="349"/>
<rect x="30.3" y="332.5" width="3.2" height="2.5"/>
<line x1="32" y1="331.5" x2="32" y2="333"/>
<line x1="36.5" y1="333" x2="36.5" y2="349"/>
<rect x="34.8" y="332.5" width="3.2" height="2.5"/>
<line x1="36.5" y1="331.5" x2="36.5" y2="333"/>
<line x1="40.5" y1="333" x2="40.5" y2="349"/>
<rect x="38.8" y="332.5" width="3.2" height="2.5"/>
<line x1="40.5" y1="331.5" x2="40.5" y2="333"/>
<line x1="50" y1="333" x2="50" y2="349"/>
<rect x="48.3" y="332.5" width="3.2" height="2.5"/>
<line x1="50" y1="331.5" x2="50" y2="333"/>
<line x1="58" y1="333" x2="58" y2="349"/>
<rect x="56.3" y="332.5" width="3.2" height="2.5"/>
<line x1="58" y1="331.5" x2="58" y2="333"/>
<line x1="64" y1="333" x2="64" y2="349"/>
<rect x="62.3" y="332.5" width="3.2" height="2.5"/>
<line x1="64" y1="331.5" x2="64" y2="333"/>
<line x1="71" y1="333" x2="71" y2="349"/>
<rect x="69.3" y="332.5" width="3.2" height="2.5"/>
<line x1="71" y1="331.5" x2="71" y2="333"/>
<line x1="77" y1="333" x2="77" y2="349"/>
<rect x="75.3" y="332.5" width="3.2" height="2.5"/>
<line x1="77" y1="331.5" x2="77" y2="333"/>
<line x1="83" y1="333" x2="83" y2="349"/>
<rect x="81.3" y="332.5" width="3.2" height="2.5"/>
<line x1="83" y1="331.5" x2="83" y2="333"/>
<line x1="89" y1="333" x2="89" y2="349"/>
<rect x="87.3" y="332.5" width="3.2" height="2.5"/>
<line x1="89" y1="331.5" x2="89" y2="333"/>
<line x1="97" y1="333" x2="97" y2="349"/>
<rect x="95.3" y="332.5" width="3.2" height="2.5"/>
<line x1="97" y1="331.5" x2="97" y2="333"/>
<line x1="106" y1="333" x2="106" y2="349"/>
<rect x="104.3" y="332.5" width="3.2" height="2.5"/>
<line x1="106" y1="331.5" x2="106" y2="333"/>
<line x1="110" y1="333" x2="110" y2="349"/>
<rect x="108.3" y="332.5" width="3.2" height="2.5"/>
<line x1="110" y1="331.5" x2="110" y2="333"/>
<line x1="114" y1="333" x2="114" y2="349"/>
<rect x="112.3" y="332.5" width="3.2" height="2.5"/>
<line x1="114" y1="331.5" x2="114" y2="333"/>
<line x1="43.5" y1="341" x2="43.5" y2="345"/>
<line x1="46.5" y1="341" x2="46.5" y2="345"/>
<line x1="49.5" y1="341" x2="49.5" y2="345"/>
<line x1="52.5" y1="341" x2="52.5" y2="345"/>
<line x1="55.5" y1="341" x2="55.5" y2="345"/>
<line x1="58.5" y1="341" x2="58.5" y2="345"/>
<line x1="61.5" y1="341" x2="61.5" y2="345"/>
<line x1="64.5" y1="341" x2="64.5" y2="345"/>
<line x1="67.5" y1="341" x2="67.5" y2="345"/>
<line x1="70.5" y1="341" x2="70.5" y2="345"/>
<line x1="73.5" y1="341" x2="73.5" y2="345"/>
<line x1="76.5" y1="341" x2="76.5" y2="345"/>
<line x1="79.5" y1="341" x2="79.5" y2="345"/>
<line x1="82.5" y1="341" x2="82.5" y2="345"/>
<line x1="85.5" y1="341" x2="85.5" y2="345"/>
<line x1="88.5" y1="341" x2="88.5" y2="345"/>
<line x1="91.5" y1="341" x2="91.5" y2="345"/>
<line x1="94.5" y1="341" x2="94.5" y2="345"/>
<line x1="97.5" y1="341" x2="97.5" y2="345"/>
<line x1="100.5" y1="341" x2="100.5" y2="345"/>
<line x1="103.5" y1="341" x2="103.5" y2="345"/>
<line x1="106.5" y1="341" x2="106.5" y2="345"/>
<line x1="109.5" y1="341" x2="109.5" y2="345"/>
<rect x="44" y="341" width="10" height="1.5"/>
<rect x="60" y="342" width="6" height="1.5"/>
<rect x="85" y="342" width="10" height="1.5"/>
<rect x="70" y="336" width="5" height="2"/>
</g>
<g transform="translate(-1,-157.5)">
<rect x="17" y="349" width="109" height="2"/>
<rect x="17" y="352" width="109" height="1"/>
<rect x="17" y="355" width="109" height="1"/>
<rect x="17" y="357" width="109" height="2"/>
<rect x="17" y="360" width="109" height="1"/>
<rect x="17" y="362" width="109" height="1"/>
<rect x="17" y="366" width="109" height="2"/>
<rect x="17" y="370" width="109" height="1"/>
<rect x="17" y="375" width="109" height="1"/>
<rect x="17" y="378" width="109" height="1"/>
<rect x="17" y="381" width="109" height="1"/>
<rect x="17" y="386" width="109" height="2"/>
<rect x="21" y="348" width="1" height="39"/>
<rect x="23" y="348" width="1" height="39"/>
<rect x="32" y="348" width="1" height="39"/>
<rect x="36" y="348" width="1" height="39"/>
<rect x="40" y="348" width="1" height="39"/>
<rect x="48" y="348" width="1" height="39"/>
<rect x="51" y="348" width="1" height="39"/>
<rect x="56" y="348" width="1" height="39"/>
<rect x="63" y="348" width="1" height="39"/>
<rect x="68" y="348" width="1" height="39"/>
<rect x="72" y="348" width="1" height="39"/>
<rect x="77" y="348" width="1" height="39"/>
<rect x="85" y="348" width="1" height="39"/>
<rect x="89" y="348" width="1" height="39"/>
<rect x="95" y="348" width="1" height="39"/>
<rect x="105" y="348" width="1" height="39"/>
<rect x="109" y="348" width="1" height="39"/>
<rect x="113" y="348" width="1" height="39"/>
<rect x="123" y="348" width="1" height="39"/>
<rect x="125" y="348" width="1" height="39"/>
<rect x="56" y="350" width="32" height="22"/>
<rect x="67" y="364" width="2" height="2" class="w"/>
<rect x="80" y="355" width="1" height="1" class="w"/>
<rect x="60" y="360" width="1" height="1" class="w"/>
<rect x="73" y="362" width="1" height="1" class="w"/>
<rect x="63" y="356" width="1" height="2" class="w"/>
<rect x="78" y="352" width="3" height="1" class="w"/>
<rect x="60" y="370" width="3" height="1" class="w"/>
<rect x="80" y="370" width="1" height="1" class="w"/>
<rect x="65" y="370" width="1" height="1" class="w"/>
<rect x="85" y="365" width="1" height="1" class="w"/>
<rect x="57" y="359" width="3" height="1" class="w"/>
<rect x="58" y="356" width="1" height="1" class="w"/>
<rect x="77" y="357" width="1" height="2" class="w"/>
<rect x="81" y="360" width="2" height="1" class="w"/>
<rect x="70" y="365" width="2" height="1" class="w"/>
<rect x="86" y="350" width="1" height="1" class="w"/>
<rect x="57" y="367" width="2" height="1" class="w"/>
<rect x="73" y="350" width="2" height="1" class="w"/>
<rect x="62" y="369" width="1" height="2" class="w"/>
<rect x="79" y="370" width="1" height="1" class="w"/>
<rect x="71" y="369" width="3" height="1" class="w"/>
<rect x="59" y="366" width="2" height="1" class="w"/>
<rect x="24" y="364" width="9" height="10"/>
<rect x="24" y="373" width="2" height="1" class="w"/>
<rect x="27" y="369" width="1" height="1" class="w"/>
<rect x="26" y="370" width="1" height="1" class="w"/>
<rect x="29" y="367" width="1" height="1" class="w"/>
<rect x="88" y="352" width="5" height="14"/>
<rect x="89" y="360" width="1" height="2" class="w"/>
<rect x="89" y="353" width="3" height="1" class="w"/>
<rect x="88" y="360" width="3" height="1" class="w"/>
<rect x="42" y="349" width="12" height="2"/>
<rect x="36" y="358" width="5" height="6"/>
<rect x="38" y="359" width="2" height="1" class="w"/>
<rect x="37" y="359" width="1" height="1" class="w"/>
<rect x="45" y="364" width="11" height="6"/>
<rect x="54" y="366" width="1" height="2" class="w"/>
<rect x="49" y="364" width="1" height="1" class="w"/>
<rect x="46" y="369" width="3" height="1" class="w"/>
<rect x="95" y="356" width="11" height="6"/>
<rect x="100" y="358" width="1" height="2" class="w"/>
<rect x="97" y="358" width="2" height="1" class="w"/>
<rect x="99" y="361" width="1" height="1" class="w"/>
<rect x="64" y="368" width="16" height="9"/>
<rect x="78" y="374" width="1" height="2" class="w"/>
<rect x="71" y="372" width="1" height="1" class="w"/>
<rect x="75" y="374" width="2" height="1" class="w"/>
<rect x="108" y="370" width="8" height="6"/>
<rect x="111" y="374" width="1" height="1" class="w"/>
<rect x="110" y="375" width="2" height="1" class="w"/>
<rect x="58" y="356" width="6" height="1.5" class="w"/>
<rect x="67" y="361" width="9" height="1.5" class="w"/>
<rect x="60" y="366" width="8" height="2" class="w"/>
<rect x="77" y="354" width="5" height="1.5" class="w"/>
<rect x="82" y="363" width="4" height="1.5" class="w"/>
<rect x="94" y="375" width="2" height="1"/>
<rect x="80" y="349" width="1" height="3"/>
<rect x="53" y="356" width="4" height="1"/>
<rect x="87" y="371" width="4" height="1"/>
<rect x="55" y="374" width="2" height="1"/>
<rect x="110" y="368" width="1" height="3"/>
<rect x="73" y="363" width="3" height="1"/>
<rect x="117" y="362" width="1" height="3"/>
<rect x="36" y="370" width="1" height="3"/>
<rect x="50" y="364" width="1" height="3"/>
<rect x="94" y="350" width="3" height="1"/>
<rect x="84" y="354" width="1" height="2"/>
<rect x="85" y="350" width="2" height="1"/>
<rect x="36" y="373" width="2" height="1"/>
<rect x="69" y="364" width="3" height="1"/>
<rect x="58" y="366" width="1" height="2"/>
<rect x="94" y="359" width="3" height="1"/>
<rect x="109" y="372" width="1" height="3"/>
<rect x="120" y="364" width="3" height="1"/>
<rect x="76" y="358" width="1" height="3"/>
<rect x="105" y="360" width="1" height="3"/>
<rect x="68" y="353" width="3" height="1"/>
<rect x="119" y="375" width="1" height="3"/>
<rect x="105" y="367" width="3" height="1"/>
<rect x="78" y="366" width="4" height="1"/>
<rect x="111" y="364" width="2" height="1"/>
<rect x="70" y="362" width="1" height="3"/>
<rect x="120" y="374" width="1" height="3"/>
<rect x="97" y="357" width="2" height="1"/>
<rect x="52" y="376" width="3" height="1"/>
<rect x="33" y="350" width="1" height="3"/>
<rect x="44" y="350" width="3" height="1"/>
<rect x="19" y="363" width="3" height="1"/>
<rect x="101" y="356" width="2" height="1"/>
<rect x="94" y="357" width="3" height="1"/>
<rect x="73" y="372" width="1" height="2"/>
<rect x="20" y="352" width="4" height="1"/>
<rect x="54" y="357" width="1" height="3"/>
<rect x="55" y="367" width="1" height="2"/>
<rect x="22" y="356" width="2" height="1"/>
<rect x="112" y="364" width="3" height="1"/>
<rect x="81" y="368" width="1" height="3"/>
<rect x="109" y="372" width="4" height="1"/>
<rect x="108" y="354" width="2" height="1"/>
<rect x="50" y="349" width="1" height="3"/>
<rect x="87" y="362" width="2" height="1"/>
<rect x="69" y="364" width="3" height="1"/>
<rect x="75" y="360" width="1" height="2"/>
<rect x="25" y="355" width="1" height="2"/>
<rect x="88" y="350" width="1" height="2"/>
<rect x="124" y="368" width="2" height="1"/>
<rect x="41" y="366" width="1" height="2"/>
<rect x="123" y="368" width="2" height="1"/>
<rect x="83" y="360" width="4" height="1"/>
<rect x="41" y="364" width="1" height="2"/>
<rect x="48" y="364" width="3" height="1"/>
<rect x="111" y="353" width="3" height="1"/>
<rect x="91" y="362" width="4" height="1"/>
<rect x="58" y="351" width="1" height="2"/>
<rect x="78" y="367" width="4" height="1"/>
<rect x="76" y="355" width="2" height="1"/>
<rect x="45" y="369" width="1" height="2"/>
<rect x="104" y="372" width="3" height="1"/>
<rect x="37" y="368" width="1" height="2"/>
<rect x="79" y="350" width="1" height="3"/>
<rect x="43" y="373" width="3" height="1"/>
<rect x="29" y="363" width="1" height="3"/>
<rect x="24" y="353" width="1" height="2"/>
<rect x="97" y="351" width="1" height="3"/>
<rect x="105" y="353" width="1" height="3"/>
<rect x="107" y="357" width="1" height="3"/>
<rect x="102" y="359" width="1" height="3"/>
<rect x="87" y="371" width="3" height="1"/>
<rect x="73" y="365" width="1" height="2"/>
<rect x="60" y="352" width="2" height="1"/>
<rect x="39" y="362" width="1" height="3"/>
<rect x="18" y="362" width="1" height="3"/>
<rect x="52" y="361" width="4" height="1"/>
<rect x="35" y="359" width="3" height="1"/>
<rect x="34" y="356" width="2" height="1"/>
<rect x="98" y="367" width="2" height="1"/>
<rect x="54" y="369" width="2" height="1"/>
<rect x="91" y="367" width="2" height="1"/>
<rect x="30" y="367" width="4" height="1"/>
<rect x="43" y="376" width="4" height="1"/>
<rect x="21" y="355" width="3" height="1"/>
<rect x="115" y="368" width="1" height="2"/>
<rect x="68" y="357" width="1" height="3"/>
<rect x="35" y="355" width="1" height="2"/>
<rect x="86" y="361" width="1" height="2"/>
<rect x="67" y="361" width="1" height="2"/>
<rect x="23" y="364" width="1" height="3"/>
<rect x="118" y="368" width="3" height="1"/>
<rect x="28" y="362" width="1" height="2"/>
<rect x="71" y="370" width="3" height="1"/>
<rect x="65" y="366" width="1" height="2"/>
<rect x="37" y="363" width="4" height="1"/>
<rect x="43" y="374" width="1" height="2"/>
<rect x="75" y="374" width="1" height="2"/>
<rect x="84" y="361" width="3" height="1"/>
<rect x="79" y="359" width="1" height="2"/>
<rect x="115" y="357" width="2" height="1"/>
<rect x="77" y="353" width="3" height="1"/>
<rect x="105" y="357" width="2" height="1"/>
<rect x="68" y="368" width="1" height="2"/>
<rect x="47" y="362" width="4" height="1"/>
<rect x="39" y="357" width="2" height="1"/>
<rect x="26" y="370" width="4" height="1"/>
<rect x="18" y="357" width="1" height="2"/>
<rect x="79" y="361" width="1" height="2"/>
<rect x="95" y="368" width="3" height="1"/>
<rect x="78" y="358" width="2" height="1"/>
<rect x="46" y="367" width="2" height="1"/>
<rect x="75" y="369" width="2" height="1"/>
<rect x="23" y="353" width="3" height="1"/>
<rect x="119" y="366" width="3" height="1"/>
<rect x="31" y="354" width="2" height="1"/>
<rect x="80" y="371" width="1" height="2"/>
<rect x="46" y="365" width="1" height="2"/>
<rect x="65" y="374" width="1" height="2"/>
<rect x="53" y="361" width="4" height="1"/>
<rect x="64" y="361" width="1" height="2"/>
<rect x="74" y="375" width="1" height="2"/>
<rect x="31" y="372" width="1" height="2"/>
<rect x="122" y="350" width="1" height="3"/>
<rect x="93" y="359" width="2" height="1"/>
<rect x="47" y="354" width="1" height="3"/>
<rect x="99" y="370" width="2" height="1"/>
<rect x="104" y="367" width="1" height="2"/>
<rect x="84" y="360" width="2" height="1"/>
<rect x="70" y="350" width="2" height="1"/>
<rect x="98" y="357" width="1" height="3"/>
<rect x="69" y="362" width="1" height="2"/>
<rect x="103" y="359" width="4" height="1"/>
<rect x="82" y="366" width="1" height="2"/>
<rect x="52" y="350" width="3" height="1"/>
<rect x="71" y="364" width="1" height="3"/>
<rect x="122" y="371" width="1" height="2"/>
<rect x="75" y="371" width="4" height="1"/>
<rect x="20" y="370" width="3" height="1"/>
<rect x="26" y="351" width="4" height="1"/>
<rect x="109" y="374" width="2" height="1"/>
<rect x="47" y="368" width="2" height="1"/>
<rect x="89" y="375" width="1" height="2"/>
<rect x="69" y="351" width="3" height="1"/>
<rect x="121" y="364" width="2" height="1"/>
<rect x="89" y="359" width="1" height="2"/>
<rect x="114" y="366" width="2" height="1"/>
<rect x="107" y="373" width="1" height="3"/>
<rect x="44" y="352" width="3" height="1"/>
<rect x="103" y="351" width="1" height="2"/>
<rect x="85" y="370" width="2" height="1"/>
<rect x="78" y="366" width="1" height="3"/>
<rect x="62" y="360" width="1" height="2"/>
<rect x="50" y="357" width="1" height="3"/>
<rect x="38" y="350" width="4" height="1"/>
<rect x="77" y="364" width="3" height="1"/>
<rect x="81" y="366" width="1" height="2"/>
<rect x="25" y="362" width="1" height="2"/>
<rect x="52" y="372" width="1" height="2"/>
<rect x="113" y="366" width="1" height="2"/>
<rect x="18" y="367" width="3" height="1"/>
<rect x="34" y="366" width="3" height="1"/>
<rect x="96" y="371" width="1" height="2"/>
<rect x="57" y="371" width="3" height="1"/>
<rect x="58" y="361" width="1" height="2"/>
<rect x="44" y="374" width="2" height="1"/>
<rect x="30" y="365" width="4" height="1"/>
<rect x="18" y="359" width="4" height="1"/>
<rect x="26" y="370" width="1" height="3"/>
<rect x="20" y="371" width="1" height="2"/>
<rect x="115" y="359" width="3" height="1"/>
<rect x="86" y="370" width="2" height="1"/>
<rect x="49" y="358" width="1" height="3"/>
<rect x="23" y="360" width="4" height="1"/>
<rect x="94" y="353" width="1" height="3"/>
<rect x="64" y="354" width="1" height="2"/>
<rect x="28" y="359" width="1" height="2"/>
<rect x="105" y="353" width="1" height="2"/>
<rect x="45" y="361" width="4" height="1"/>
<rect x="26" y="375" width="3" height="1"/>
<rect x="19" y="363" width="1" height="3"/>
<rect x="72" y="350" width="4" height="1"/>
<rect x="64" y="365" width="1" height="2"/>
<rect x="41" y="360" width="1" height="3"/>
<rect x="115" y="359" width="1" height="2"/>
<rect x="113" y="353" width="1" height="3"/>
<rect x="106" y="351" width="3" height="1"/>
<rect x="63" y="356" width="3" height="1"/>
<rect x="18" y="366" width="1" height="3"/>
<rect x="26" y="368" width="3" height="1"/>
<rect x="112" y="354" width="3" height="1"/>
<rect x="120" y="365" width="2" height="1"/>
<rect x="26" y="359" width="1" height="2"/>
<rect x="38" y="361" width="4" height="1"/>
<rect x="58" y="370" width="4" height="1"/>
<rect x="113" y="373" width="1" height="3"/>
<rect x="30" y="366" width="3" height="1"/>
<rect x="114" y="364" width="2" height="1"/>
<rect x="120" y="353" width="2" height="1"/>
<rect x="18" y="352" width="3" height="2"/>
<rect x="18" y="360" width="3" height="3"/>
<rect x="18" y="368" width="3" height="3"/>
<rect x="18" y="376" width="3" height="3"/>
<rect x="24" y="352" width="4" height="2"/>
<rect x="44" y="353" width="3" height="2"/>
<rect x="100" y="363" width="4" height="3"/>
<rect x="115" y="371" width="4" height="3"/>
<rect x="30" y="371" width="3" height="3"/>
<rect x="49" y="376" width="4" height="2"/>
<rect x="88" y="376" width="4" height="3"/>
<rect x="105" y="376" width="3" height="2"/>
<rect x="119" y="353" width="3" height="2"/>
<rect x="62" y="383" width="2" height="3"/>
<rect x="82" y="383" width="2" height="3"/>
<rect x="113" y="358" width="10" height="2"/>
<rect x="96" y="367" width="9" height="3"/>
<rect x="43" y="367" width="5" height="3"/>
<rect x="24" y="377" width="100" height="1.5"/>
<rect x="31" y="377" width="1.6" height="10"/>
<rect x="43.5" y="377" width="1.6" height="10"/>
<rect x="54" y="377" width="1.6" height="10"/>
<rect x="64" y="377" width="1.6" height="10"/>
<rect x="73.5" y="377" width="1.6" height="10"/>
<rect x="83" y="377" width="1.6" height="10"/>
<rect x="91" y="377" width="1.6" height="10"/>
<rect x="96" y="377" width="1.6" height="10"/>
<rect x="104.5" y="377" width="1.6" height="10"/>
<rect x="113.5" y="377" width="1.6" height="10"/>
<rect x="118" y="377" width="1.6" height="10"/>
<rect x="33" y="381" width="9" height="2" style="fill:#999"/>
<rect x="34" y="382" width="7" height="1" style="fill:#666"/>
<rect x="45" y="381" width="8" height="2" style="fill:#999"/>
<rect x="46" y="382" width="6" height="1" style="fill:#666"/>
<rect x="56" y="381" width="7" height="2" style="fill:#999"/>
<rect x="57" y="382" width="5" height="1" style="fill:#666"/>
<rect x="66" y="381" width="6" height="2" style="fill:#999"/>
<rect x="67" y="382" width="4" height="1" style="fill:#666"/>
<rect x="76" y="381" width="6" height="2" style="fill:#999"/>
<rect x="77" y="382" width="4" height="1" style="fill:#666"/>
<rect x="85" y="381" width="5" height="2" style="fill:#999"/>
<rect x="86" y="382" width="3" height="1" style="fill:#666"/>
<rect x="98" y="381" width="5" height="2" style="fill:#999"/>
<rect x="99" y="382" width="3" height="1" style="fill:#666"/>
<rect x="107" y="381" width="5" height="2" style="fill:#999"/>
<rect x="108" y="382" width="3" height="1" style="fill:#666"/>
<rect x="34" y="379" width="4" height="1" style="fill:#777"/>
<rect x="42" y="379" width="4" height="1" style="fill:#777"/>
<rect x="58" y="379" width="3" height="1" style="fill:#777"/>
<rect x="65" y="379" width="1" height="1" style="fill:#777"/>
<rect x="74" y="379" width="1" height="1" style="fill:#777"/>
<rect x="79" y="379" width="4" height="1" style="fill:#777"/>
<rect x="15.5" y="348.6" width="3" height="2.5"/>
<rect x="15.5" y="356.2" width="3" height="2.5"/>
<rect x="15.5" y="364" width="3" height="2.5"/>
<rect x="15.5" y="369.8" width="3" height="2.5"/>
<rect x="15.5" y="378.8" width="3" height="2.5"/>
<rect x="15.5" y="385.6" width="3" height="2.5"/>
<rect x="126.5" y="351" width="2.5" height="2.5"/>
<rect x="126.5" y="356" width="2.5" height="2.5"/>
<rect x="126.5" y="360" width="2.5" height="2.5"/>
<rect x="126.5" y="365" width="2.5" height="2.5"/>
<rect x="126.5" y="371" width="2.5" height="2.5"/>
<rect x="126.5" y="377" width="2.5" height="2.5"/>
<rect x="126.5" y="385" width="2.5" height="2.5"/>
<rect x="123" y="349" width="1" height="38"/>
<rect x="123" y="352" width="5" height="1"/>
<rect x="123" y="357" width="5" height="1"/>
<rect x="123" y="361" width="5" height="1"/>
<rect x="123" y="366" width="5" height="1"/>
<rect x="123" y="372" width="5" height="1"/>
<rect x="123" y="378" width="5" height="1"/>
<rect x="123" y="386" width="5" height="1"/>
</g>
<g transform="translate(-1,-155)">
<rect x="42.5" y="387.5" width="8" height="3.5" class="o"/>
<rect x="44" y="389" width="2" height="1.5"/>
<rect x="47" y="389" width="2" height="1.5"/>
<rect x="64.5" y="387.5" width="18" height="3.5" class="o"/>
<rect x="66" y="389" width="2" height="1.5"/>
<rect x="79" y="389" width="2" height="1.5"/>
<rect x="92.5" y="387.5" width="9" height="3.5" class="o"/>
<rect x="94" y="389" width="2" height="1.5"/>
<rect x="98" y="389" width="2" height="1.5"/>
<line x1="122.5" y1="383" x2="122.5" y2="394"/>
<rect x="31" y="393" width="1" height="5"/>
<rect x="34" y="393" width="1" height="5"/>
<rect x="37" y="393" width="1" height="5"/>
<rect x="40" y="393" width="1" height="5"/>
<rect x="43" y="393" width="1" height="5"/>
<rect x="46" y="393" width="1" height="5"/>
<rect x="49" y="393" width="1" height="5"/>
<rect x="52" y="393" width="1" height="5"/>
<rect x="55" y="393" width="1" height="5"/>
<rect x="58" y="393" width="1" height="5"/>
<rect x="61" y="393" width="1" height="5"/>
<rect x="64" y="393" width="1" height="5"/>
<rect x="67" y="393" width="1" height="5"/>
<rect x="70" y="393" width="1" height="5"/>
<rect x="73" y="393" width="1" height="5"/>
<rect x="76" y="393" width="1" height="5"/>
<rect x="79" y="393" width="1" height="5"/>
<rect x="82" y="393" width="1" height="5"/>
<rect x="85" y="393" width="1" height="5"/>
<rect x="88" y="393" width="1" height="5"/>
<rect x="91" y="393" width="1" height="5"/>
<rect x="94" y="393" width="1" height="5"/>
<rect x="97" y="393" width="1" height="5"/>
<rect x="100" y="393" width="1" height="5"/>
<rect x="103" y="393" width="1" height="5"/>
<rect x="106" y="393" width="1" height="5"/>
<rect x="109" y="393" width="1" height="5"/>
<rect x="112" y="393" width="1" height="5"/>
<rect x="34" y="395" width="3" height="1"/>
<rect x="40" y="395" width="3" height="1"/>
<rect x="47" y="395" width="3" height="1"/>
<rect x="52" y="395" width="3" height="1"/>
<rect x="58" y="395" width="3" height="1"/>
<rect x="66" y="395" width="3" height="1"/>
<rect x="75" y="395" width="3" height="1"/>
<rect x="86" y="395" width="3" height="1"/>
<rect x="98" y="395" width="3" height="1"/>
<rect x="106" y="395" width="3" height="1"/>
<rect x="112" y="395" width="3" height="1"/>
<rect x="31" y="398" width="83" height="2"/>
<line x1="31" y1="401.5" x2="114" y2="401.5"/>
<rect x="31" y="398" width="1" height="6"/>
<rect x="30" y="403.5" width="3" height="3"/>
<rect x="40" y="398" width="1" height="6"/>
<rect x="39" y="403.5" width="3" height="3"/>
<rect x="49" y="398" width="1" height="6"/>
<rect x="48" y="403.5" width="3" height="3"/>
<rect x="53" y="398" width="1" height="6"/>
<rect x="52" y="403.5" width="3" height="3"/>
<rect x="63" y="398" width="1" height="6"/>
<rect x="62" y="403.5" width="3" height="3"/>
<rect x="71" y="398" width="1" height="6"/>
<rect x="70" y="403.5" width="3" height="3"/>
<rect x="81" y="398" width="1" height="6"/>
<rect x="80" y="403.5" width="3" height="3"/>
<rect x="90" y="398" width="1" height="6"/>
<rect x="89" y="403.5" width="3" height="3"/>
<rect x="95" y="398" width="1" height="6"/>
<rect x="94" y="403.5" width="3" height="3"/>
<rect x="103" y="398" width="1" height="6"/>
<rect x="102" y="403.5" width="3" height="3"/>
<rect x="112" y="398" width="1" height="6"/>
<rect x="111" y="403.5" width="3" height="3"/>
<rect x="116" y="398" width="1" height="6"/>
<rect x="115" y="403.5" width="3" height="3"/>
<line x1="31" y1="393" x2="31" y2="403"/>
</g>
<line x1="63" y1="174.5" x2="79" y2="174.5"/>
<rect x="70" y="174" width="2" height="7"/>
<line x1="75.5" y1="175" x2="75.5" y2="190"/>
<line x1="53" y1="179.5" x2="70" y2="179.5"/>
<line x1="53.5" y1="179" x2="53.5" y2="193"/>
<rect x="69.5" y="176.5" width="5" height="4" class="o"/>
<rect x="42" y="184" width="5" height="2"/>
<rect x="47" y="184.5" width="6" height="1" style="fill:#888"/>
<rect x="61" y="184" width="5" height="2"/>
<rect x="66" y="184.5" width="7" height="1" style="fill:#888"/>
<polygon points="77,187 81,181 85,187" fill="#000"/>
<rect x="58" y="187" width="27" height="2"/>
<line x1="58.5" y1="187" x2="58.5" y2="192"/>
<rect x="62" y="189" width="8" height="1"/>
<rect x="72" y="189.5" width="4" height="1.5"/>
<rect x="88" y="188.5" width="6" height="1" style="fill:#777"/>
<rect x="62" y="252" width="17" height="2" style="fill:#222"/>
<rect x="64" y="254" width="12" height="1" style="fill:#555"/>
<rect x="58.5" y="258.5" width="22" height="1" style="fill:#999"/>
<line x1="26" y1="269" x2="53" y2="269"/>
<rect x="26" y="268" width="4" height="2"/>
<rect x="28" y="268" width="1.2" height="5.5"/>
<rect x="30" y="268" width="1.2" height="5.5"/>
<rect x="39" y="268" width="3" height="1.5"/>
<rect x="49.3" y="264.5" width="2" height="22.5"/>
<rect x="48.8" y="263.5" width="3" height="2"/>
<rect x="23" y="275.5" width="27" height="2"/>
<rect x="23" y="283" width="27" height="2"/>
<rect x="23" y="273" width="2" height="14"/>
<line x1="30.5" y1="276" x2="30.5" y2="284"/>
<rect x="40" y="274" width="2" height="13"/>
<rect x="35" y="277.5" width="3" height="1"/>
<rect x="37" y="279.5" width="3" height="1.5" style="fill:#888"/>
<rect x="49.5" y="275" width="14.5" height="2"/>
<line x1="63.5" y1="275" x2="63.5" y2="287"/>
<line x1="49" y1="287" x2="66" y2="287"/>
<rect x="56" y="281.5" width="4" height="1.5"/>
<rect x="56" y="271.5" width="3.5" height="1.5"/>
<line x1="54" y1="272" x2="56" y2="273"/>
<line x1="43" y1="280.5" x2="49" y2="280.5"/>
<rect x="40" y="287" width="3" height="2"/>
<rect x="41.4" y="291" width="8.3" height="2.5"/>
<line x1="49" y1="293" x2="52" y2="293"/>
<polygon points="97,265.5 102,261 108.5,265.5" fill="none" stroke="#000" stroke-width="1"/>
<rect x="100" y="261" width="4" height="2"/>
<rect x="87" y="265" width="3" height="22"/>
<rect x="93" y="265" width="4" height="22"/>
<rect x="88" y="268" width="1.5" height="1.5" class="w"/>
<rect x="94" y="268" width="1.5" height="1.5" class="w"/>
<rect x="88" y="272" width="1.5" height="1.5" class="w"/>
<rect x="94" y="272" width="1.5" height="1.5" class="w"/>
<rect x="88" y="276" width="1.5" height="1.5" class="w"/>
<rect x="94" y="276" width="1.5" height="1.5" class="w"/>
<rect x="88" y="281" width="1.5" height="1.5" class="w"/>
<rect x="94" y="281" width="1.5" height="1.5" class="w"/>
<rect x="88" y="284" width="1.5" height="1.5" class="w"/>
<rect x="94" y="284" width="1.5" height="1.5" class="w"/>
<line x1="90" y1="268.5" x2="93" y2="268.5"/>
<line x1="90" y1="277.5" x2="93" y2="277.5"/>
<line x1="97" y1="266.5" x2="109" y2="266.5"/>
<rect x="99" y="268.5" width="9" height="1"/>
<rect x="99" y="271" width="9" height="1.2"/>
<rect x="99" y="274" width="9" height="1"/>
<line x1="109" y1="265" x2="109" y2="279"/>
<rect x="97" y="276" width="12" height="1"/>
<line x1="113.5" y1="266" x2="113.5" y2="287"/>
<rect x="110" y="278" width="6" height="9"/>
<line x1="87" y1="280" x2="122" y2="280"/>
<rect x="98" y="283" width="6" height="1"/>
<rect x="96" y="286" width="4" height="6"/>
<rect x="99" y="289" width="4" height="1"/>
<circle cx="104.5" cy="296" r="2" fill="#000"/>
<rect x="103.5" y="295.5" width="2" height="1" class="w"/>
<rect x="152" y="160" width="5" height="2"/>
<rect x="153.8" y="160" width="2.1" height="23"/>
<rect x="145" y="162" width="2" height="12.5"/>
<rect x="147" y="163" width="3" height="3"/>
<rect x="147" y="171" width="2" height="3"/>
<line x1="150.7" y1="163" x2="150.7" y2="174"/>
<line x1="150.7" y1="163.5" x2="154" y2="163.5"/>
<rect x="142" y="168.5" width="30.7" height="2"/>
<rect x="150.5" y="170.5" width="21" height="3" class="o"/>
<line x1="168.5" y1="170" x2="168.5" y2="173.5"/>
<line x1="150.4" y1="177.5" x2="171.6" y2="177.5"/>
<rect x="150" y="176" width="2" height="3"/>
<rect x="160" y="177" width="3" height="1.5"/>
<rect x="167" y="176" width="4" height="3"/>
<path d="M160.5,168 Q163,165.5 165.7,167.5" fill="none" stroke="#000" stroke-width="1"/>
<rect x="153" y="178" width="2" height="1.5"/>
<rect x="153" y="180.5" width="2" height="1.5"/>
<rect x="155.2" y="185" width="12.6" height="2.5"/>
<rect x="159" y="195" width="2.5" height="2.5"/>
<rect x="152.5" y="200.5" width="16" height="21" class="o"/>
<rect x="152" y="200" width="16.5" height="2"/>
<rect x="155.5" y="202.5" width="4" height="2.5" class="o"/>
<rect x="162.5" y="202.5" width="4" height="2.5" class="o"/>
<line x1="152" y1="205.5" x2="169" y2="205.5"/>
<rect x="156.5" y="208.5" width="8" height="8" class="o"/>
<line x1="160.5" y1="208" x2="160.5" y2="217"/>
<line x1="156" y1="212.5" x2="165" y2="212.5"/>
<line x1="153" y1="217.5" x2="168" y2="217.5"/>
<rect x="156.5" y="218.5" width="3" height="1.5" class="o"/>
<rect x="161.5" y="218.5" width="3" height="1.5" class="o"/>
<line x1="140" y1="213.5" x2="156" y2="213.5"/>
<rect x="144.5" y="221.5" width="24" height="23.5" class="o"/>
<rect x="144" y="221.5" width="24.5" height="2"/>
<rect x="144" y="229" width="24.5" height="1.2"/>
<rect x="144" y="233" width="24.5" height="1.2"/>
<rect x="144" y="236.5" width="24.5" height="1.2"/>
<rect x="144" y="239" width="24.5" height="1.2"/>
<rect x="144" y="243" width="24.5" height="2"/>
<rect x="150" y="223" width="1.2" height="21"/>
<rect x="155" y="223" width="1.2" height="21"/>
<rect x="160" y="223" width="1.2" height="21"/>
<rect x="164.5" y="223" width="1.2" height="21"/>
<rect x="147" y="224.5" width="2" height="1"/>
<rect x="152" y="224.5" width="2" height="1"/>
<rect x="157" y="224.5" width="2" height="1"/>
<rect x="162" y="224.5" width="2" height="1"/>
<line x1="143.5" y1="199" x2="143.5" y2="246"/>
<line x1="145.5" y1="199" x2="145.5" y2="221"/>
<line x1="168.5" y1="197" x2="168.5" y2="246"/>
<rect x="137" y="204" width="4" height="2"/>
<line x1="139" y1="204" x2="144" y2="207"/>
<rect x="137" y="219" width="4" height="2"/>
<line x1="139" y1="219" x2="144" y2="222"/>
<rect x="137" y="234" width="4" height="2"/>
<line x1="139" y1="234" x2="144" y2="237"/>
<rect x="140" y="228" width="4" height="1"/>
<rect x="140" y="212" width="4" height="1"/>
<line x1="140" y1="246.5" x2="170" y2="246.5"/>
<rect x="149" y="244.5" width="19" height="1"/>
<rect x="152" y="248" width="3" height="2"/>
<rect x="160" y="248" width="2" height="3"/>
<rect x="154" y="252" width="11" height="1.6"/>
<line x1="205.5" y1="200" x2="205.5" y2="274"/>
<line x1="207.5" y1="200" x2="207.5" y2="274"/>
<line x1="205" y1="201" x2="216" y2="201"/>
<rect x="210" y="200" width="2" height="2"/>
<line x1="205" y1="216.5" x2="216" y2="216.5"/>
<rect x="210" y="215.5" width="2" height="2"/>
<line x1="205" y1="244" x2="216" y2="244"/>
<rect x="210" y="243" width="2" height="2"/>
<line x1="205" y1="273.5" x2="216" y2="273.5"/>
<rect x="210" y="272.5" width="2" height="2"/>
<rect x="206" y="206" width="1" height="1"/>
<rect x="206" y="215" width="1" height="1"/>
<rect x="206" y="224" width="1" height="1"/>
<rect x="206" y="233" width="1" height="1"/>
<rect x="206" y="242" width="1" height="1"/>
<rect x="206" y="251" width="1" height="1"/>
<rect x="206" y="260" width="1" height="1"/>
<rect x="206" y="269" width="1" height="1"/>
<rect x="186" y="215" width="4" height="31"/>
<rect x="186" y="215" width="17" height="5"/>
<rect x="189.5" y="202.5" width="13" height="13" class="o"/>
<rect x="190" y="236" width="12" height="1.5"/>
<rect x="190" y="226.5" width="12" height="1.5"/>
<rect x="190" y="231.5" width="12" height="1.5"/>
<rect x="191" y="205" width="4" height="2"/>
<rect x="196" y="206" width="4" height="3"/>
<rect x="192" y="209" width="3" height="3"/>
<rect x="198" y="210" width="3" height="3"/>
<line x1="190" y1="213.5" x2="202" y2="213.5"/>
<rect x="189" y="218" width="13" height="1" class="w"/>
<rect x="194" y="238" width="1.5" height="7"/>
<rect x="197.5" y="238" width="1.5" height="7"/>
<rect x="190" y="222" width="3" height="3"/>
<rect x="198" y="222" width="4" height="3"/>
<line x1="202.5" y1="200" x2="202.5" y2="246"/>
<line x1="203.5" y1="215" x2="203.5" y2="246"/>
<line x1="181" y1="228.5" x2="205" y2="228.5"/>
<rect x="181" y="200" width="5" height="1" style="fill:#444"/>
<rect x="181" y="205" width="5" height="1" style="fill:#444"/>
<rect x="181" y="208" width="5" height="1" style="fill:#444"/>
<rect x="181" y="211" width="5" height="1" style="fill:#444"/>
<rect x="181" y="214" width="5" height="1" style="fill:#444"/>
<rect x="181" y="229" width="5" height="1" style="fill:#444"/>
<rect x="181" y="232" width="5" height="1" style="fill:#444"/>
<rect x="181" y="235" width="5" height="1" style="fill:#444"/>
<rect x="181" y="238" width="5" height="1" style="fill:#444"/>
<rect x="181" y="241" width="5" height="1" style="fill:#444"/>
<rect x="181" y="243" width="5" height="1" style="fill:#444"/>
<rect x="176.5" y="217" width="6" height="2"/>
<line x1="178" y1="216" x2="186" y2="221"/>
<rect x="178" y="246" width="24" height="41"/>
<rect x="181" y="247.5" width="5" height="2.5" class="w"/>
<rect x="188" y="247.5" width="3" height="2.5" class="w"/>
<rect x="193" y="247.5" width="7" height="2.5" class="w"/>
<rect x="181" y="251.5" width="5" height="3.5" class="w"/>
<rect x="188" y="251.5" width="3" height="3.5" class="w"/>
<rect x="193" y="251.5" width="7" height="3.5" class="w"/>
<rect x="181" y="257" width="5" height="4" class="w"/>
<rect x="188" y="257" width="3" height="4" class="w"/>
<rect x="193" y="257" width="7" height="4" class="w"/>
<rect x="181" y="263" width="5" height="7" class="w"/>
<rect x="188" y="263" width="3" height="7" class="w"/>
<rect x="193" y="263" width="7" height="7" class="w"/>
<rect x="181" y="271.5" width="5" height="3.5" class="w"/>
<rect x="188" y="271.5" width="3" height="3.5" class="w"/>
<rect x="193" y="271.5" width="7" height="3.5" class="w"/>
<rect x="181" y="277" width="5" height="3" class="w"/>
<rect x="188" y="277" width="3" height="3" class="w"/>
<rect x="193" y="277" width="7" height="3" class="w"/>
<rect x="181" y="282" width="5" height="2" class="w"/>
<rect x="188" y="282" width="3" height="2" class="w"/>
<rect x="193" y="282" width="7" height="2" class="w"/>
<rect x="181" y="285" width="5" height="1" class="w"/>
<rect x="188" y="285" width="3" height="1" class="w"/>
<rect x="193" y="285" width="7" height="1" class="w"/>
<rect x="183" y="263" width="1" height="7"/>
<rect x="185" y="263" width="1" height="7"/>
<rect x="195" y="263" width="1" height="7"/>
<rect x="197" y="263" width="1" height="7"/>
<line x1="201.5" y1="242" x2="201.5" y2="283"/>
<rect x="172.5" y="260" width="5" height="1" style="fill:#444"/>
<rect x="172.5" y="263" width="5" height="1" style="fill:#444"/>
<rect x="172.5" y="266" width="5" height="1" style="fill:#444"/>
<rect x="172.5" y="269" width="5" height="1" style="fill:#444"/>
<rect x="170" y="273" width="8" height="1.5"/>
<line x1="172" y1="272" x2="178" y2="276"/>
<rect x="187" y="287" width="4" height="3"/>
<rect x="188" y="291.5" width="11" height="1.5"/>
<rect x="145" y="261" width="5.5" height="26"/>
<rect x="143" y="261" width="8" height="1.5"/>
<rect x="143" y="285.5" width="8" height="1.5"/>
<rect x="147" y="266" width="1.5" height="1.5" class="w"/>
<rect x="147" y="270" width="1.5" height="1.5" class="w"/>
<rect x="147" y="277" width="1.5" height="1.5" class="w"/>
<rect x="147" y="281" width="1.5" height="1.5" class="w"/>
<line x1="133" y1="273.5" x2="160.5" y2="273.5"/>
<rect x="133" y="272" width="6" height="1.5"/>
<rect x="155" y="272" width="5" height="1.5"/>
<rect x="137" y="275" width="3" height="3"/>
<rect x="150" y="271" width="4" height="2"/>
<rect x="145" y="291.5" width="8" height="3.5"/>
<rect x="272" y="166" width="82" height="3"/>
<rect x="275" y="167" width="2" height="1" class="w"/>
<rect x="279" y="167" width="2" height="1" class="w"/>
<rect x="283" y="167" width="2" height="1" class="w"/>
<rect x="287" y="167" width="2" height="1" class="w"/>
<rect x="291" y="167" width="2" height="1" class="w"/>
<rect x="295" y="167" width="2" height="1" class="w"/>
<rect x="299" y="167" width="2" height="1" class="w"/>
<rect x="303" y="167" width="2" height="1" class="w"/>
<rect x="307" y="167" width="2" height="1" class="w"/>
<rect x="311" y="167" width="2" height="1" class="w"/>
<rect x="315" y="167" width="2" height="1" class="w"/>
<rect x="319" y="167" width="2" height="1" class="w"/>
<rect x="323" y="167" width="2" height="1" class="w"/>
<rect x="327" y="167" width="2" height="1" class="w"/>
<rect x="331" y="167" width="2" height="1" class="w"/>
<rect x="335" y="167" width="2" height="1" class="w"/>
<rect x="339" y="167" width="2" height="1" class="w"/>
<rect x="343" y="167" width="2" height="1" class="w"/>
<rect x="347" y="167" width="2" height="1" class="w"/>
<rect x="351" y="167" width="2" height="1" class="w"/>
<line x1="272.5" y1="162" x2="272.5" y2="213"/>
<rect x="271" y="161" width="3" height="2.5"/>
<line x1="276.5" y1="162" x2="276.5" y2="213"/>
<rect x="275" y="161" width="3" height="2.5"/>
<line x1="280.5" y1="162" x2="280.5" y2="213"/>
<rect x="279" y="161" width="3" height="2.5"/>
<line x1="289.5" y1="162" x2="289.5" y2="213"/>
<rect x="288" y="161" width="3" height="2.5"/>
<line x1="297.5" y1="162" x2="297.5" y2="213"/>
<rect x="296" y="161" width="3" height="2.5"/>
<line x1="303.5" y1="162" x2="303.5" y2="213"/>
<rect x="302" y="161" width="3" height="2.5"/>
<line x1="310.5" y1="162" x2="310.5" y2="213"/>
<rect x="309" y="161" width="3" height="2.5"/>
<line x1="317" y1="162" x2="317" y2="213"/>
<rect x="315.5" y="161" width="3" height="2.5"/>
<line x1="322.5" y1="162" x2="322.5" y2="213"/>
<rect x="321" y="161" width="3" height="2.5"/>
<line x1="328.5" y1="162" x2="328.5" y2="213"/>
<rect x="327" y="161" width="3" height="2.5"/>
<line x1="336.5" y1="162" x2="336.5" y2="213"/>
<rect x="335" y="161" width="3" height="2.5"/>
<line x1="345.5" y1="162" x2="345.5" y2="213"/>
<rect x="344" y="161" width="3" height="2.5"/>
<line x1="350" y1="162" x2="350" y2="213"/>
<rect x="348.5" y="161" width="3" height="2.5"/>
<line x1="354" y1="162" x2="354" y2="213"/>
<rect x="352.5" y="161" width="3" height="2.5"/>
<line x1="272.5" y1="213" x2="272.5" y2="230"/>
<line x1="282.5" y1="213" x2="282.5" y2="230"/>
<line x1="291" y1="213" x2="291" y2="230"/>
<line x1="305" y1="213" x2="305" y2="230"/>
<line x1="321.5" y1="213" x2="321.5" y2="230"/>
<line x1="332" y1="213" x2="332" y2="230"/>
<line x1="337" y1="213" x2="337" y2="230"/>
<line x1="345" y1="213" x2="345" y2="230"/>
<line x1="353" y1="213" x2="353" y2="230"/>
<line x1="282.5" y1="217" x2="282.5" y2="225"/>
<rect x="309" y="163" width="8" height="3"/>
<rect x="312" y="170" width="4" height="4"/>
<line x1="257" y1="176.5" x2="368" y2="176.5"/>
<line x1="257" y1="187" x2="368" y2="187"/>
<line x1="257" y1="190.5" x2="368" y2="190.5"/>
<line x1="257" y1="205" x2="368" y2="205"/>
<line x1="257" y1="212.5" x2="368" y2="212.5"/>
<rect x="255.5" y="175.5" width="3" height="2.5"/>
<rect x="366.5" y="175.5" width="3" height="2.5"/>
<rect x="255.5" y="181.5" width="3" height="2.5"/>
<rect x="366.5" y="181.5" width="3" height="2.5"/>
<rect x="255.5" y="186" width="3" height="2.5"/>
<rect x="366.5" y="186" width="3" height="2.5"/>
<rect x="255.5" y="189.5" width="3" height="2.5"/>
<rect x="366.5" y="189.5" width="3" height="2.5"/>
<rect x="255.5" y="193.5" width="3" height="2.5"/>
<rect x="366.5" y="193.5" width="3" height="2.5"/>
<rect x="255.5" y="204" width="3" height="2.5"/>
<rect x="366.5" y="204" width="3" height="2.5"/>
<rect x="255.5" y="211.5" width="3" height="2.5"/>
<rect x="366.5" y="211.5" width="3" height="2.5"/>
<line x1="262.5" y1="175" x2="262.5" y2="215"/>
<line x1="264.5" y1="175" x2="264.5" y2="215"/>
<line x1="363.5" y1="175" x2="363.5" y2="215"/>
<line x1="365" y1="175" x2="365" y2="215"/>
<rect x="272" y="180" width="66" height="2"/>
<rect x="272" y="183" width="78" height="1.5"/>
<rect x="338" y="182" width="12" height="2"/>
<rect x="272" y="193" width="79" height="1.2"/>
<rect x="272" y="195.5" width="79" height="1.5"/>
<line x1="328.5" y1="184" x2="328.5" y2="197"/>
<rect x="349" y="183" width="2" height="14"/>
<rect x="283" y="179" width="6" height="2"/>
<rect x="289" y="186" width="4" height="4"/>
<rect x="282" y="189" width="5" height="2"/>
<rect x="298" y="188" width="3" height="4"/>
<rect x="331" y="187" width="3" height="2"/>
<line x1="257" y1="181" x2="272" y2="181"/>
<line x1="257" y1="183.5" x2="272" y2="183.5"/>
<line x1="257" y1="193" x2="272" y2="193"/>
<line x1="257" y1="195.5" x2="272" y2="195.5"/>
<line x1="351" y1="193" x2="368" y2="193"/>
<line x1="351" y1="195.5" x2="368" y2="195.5"/>
<line x1="350" y1="181" x2="368" y2="181"/>
<rect x="304" y="179" width="12" height="16"/>
<rect x="306" y="183" width="3" height="3" class="w"/>
<rect x="311" y="188" width="3" height="2" class="w"/>
<rect x="305" y="190" width="2" height="3" class="w"/>
<rect x="303.5" y="178.5" width="19" height="34" class="o"/>
<line x1="303.5" y1="186.5" x2="322.5" y2="186.5"/>
<rect x="317" y="180" width="5" height="2"/>
<rect x="318" y="184" width="4" height="1.5"/>
<rect x="320" y="191" width="3" height="2"/>
<line x1="308.5" y1="198" x2="308.5" y2="212"/>
<line x1="316.5" y1="198" x2="316.5" y2="212"/>
<rect x="304" y="198" width="5" height="2"/>
<rect x="310" y="200" width="8" height="1.5"/>
<rect x="314" y="197" width="3" height="2"/>
<rect x="300" y="196" width="4" height="2"/>
<rect x="306" y="205" width="3" height="6"/>
<rect x="313" y="205" width="3" height="6"/>
<rect x="318" y="206" width="4" height="2"/>
<rect x="310" y="217" width="4" height="7"/>
<rect x="316" y="218" width="3" height="6"/>
<rect x="306" y="221" width="16" height="1.5"/>
<line x1="355.5" y1="213" x2="355.5" y2="231"/>
<line x1="272" y1="224.5" x2="354" y2="224.5"/>
<rect x="270.8" y="228.5" width="3" height="2.5"/>
<rect x="280.9" y="228.5" width="3" height="2.5"/>
<rect x="288.9" y="228.5" width="3" height="2.5"/>
<rect x="292.2" y="228.5" width="3" height="2.5"/>
<rect x="302.9" y="228.5" width="3" height="2.5"/>
<rect x="311.5" y="228.5" width="3" height="2.5"/>
<rect x="320.2" y="228.5" width="3" height="2.5"/>
<rect x="329.5" y="228.5" width="3" height="2.5"/>
<rect x="334.3" y="228.5" width="3" height="2.5"/>
<rect x="342.9" y="228.5" width="3" height="2.5"/>
<rect x="351.5" y="228.5" width="3" height="2.5"/>
<line x1="272" y1="227.5" x2="354" y2="227.5"/>
<rect x="277" y="223" width="8" height="1.5"/>
<rect x="291" y="223" width="6" height="1.5"/>
<rect x="332" y="223" width="7" height="1.5"/>
<rect x="341" y="223" width="7" height="1.5"/>
<rect x="307" y="234" width="13" height="1.6"/>
<rect x="320" y="235" width="3" height="1" style="fill:#666"/>
<rect x="400" y="166" width="32" height="3"/>
<rect x="403" y="167" width="2" height="1" class="w"/>
<rect x="407" y="167" width="2" height="1" class="w"/>
<rect x="411" y="167" width="2" height="1" class="w"/>
<rect x="415" y="167" width="2" height="1" class="w"/>
<rect x="419" y="167" width="2" height="1" class="w"/>
<rect x="423" y="167" width="2" height="1" class="w"/>
<rect x="427" y="167" width="2" height="1" class="w"/>
<line x1="400.5" y1="162" x2="400.5" y2="222"/>
<rect x="399" y="161" width="3" height="2.5"/>
<line x1="406.5" y1="162" x2="406.5" y2="222"/>
<rect x="405" y="161" width="3" height="2.5"/>
<line x1="413.5" y1="162" x2="413.5" y2="222"/>
<rect x="412" y="161" width="3" height="2.5"/>
<line x1="420.5" y1="162" x2="420.5" y2="222"/>
<rect x="419" y="161" width="3" height="2.5"/>
<line x1="426.5" y1="162" x2="426.5" y2="222"/>
<rect x="425" y="161" width="3" height="2.5"/>
<line x1="432" y1="162" x2="432" y2="222"/>
<rect x="430.5" y="161" width="3" height="2.5"/>
<rect x="410" y="170" width="8" height="2"/>
<line x1="385" y1="177" x2="448" y2="177"/>
<rect x="383.5" y="176" width="3" height="2.5"/>
<rect x="446.5" y="176" width="3" height="2.5"/>
<line x1="385" y1="191" x2="448" y2="191"/>
<rect x="383.5" y="190" width="3" height="2.5"/>
<rect x="446.5" y="190" width="3" height="2.5"/>
<line x1="385" y1="196" x2="448" y2="196"/>
<rect x="383.5" y="195" width="3" height="2.5"/>
<rect x="446.5" y="195" width="3" height="2.5"/>
<line x1="385" y1="213" x2="448" y2="213"/>
<rect x="383.5" y="212" width="3" height="2.5"/>
<rect x="446.5" y="212" width="3" height="2.5"/>
<line x1="389.5" y1="175" x2="389.5" y2="215"/>
<line x1="391.5" y1="175" x2="391.5" y2="215"/>
<line x1="442" y1="175" x2="442" y2="215"/>
<line x1="444.5" y1="175" x2="444.5" y2="215"/>
<rect x="390" y="183" width="2" height="4"/>
<rect x="390" y="203" width="2" height="4"/>
<rect x="442" y="183" width="2" height="4"/>
<rect x="442" y="203" width="2" height="4"/>
<rect x="406.5" y="174.5" width="20" height="15.5" class="o"/>
<rect x="408" y="176" width="3" height="3"/>
<line x1="412" y1="178.5" x2="420" y2="178.5"/>
<rect x="414" y="181" width="6" height="4"/>
<rect x="420" y="183" width="4" height="3"/>
<rect x="422" y="186" width="4" height="3"/>
<rect x="408" y="186" width="3" height="3"/>
<line x1="406" y1="192.5" x2="432" y2="192.5"/>
<rect x="407" y="196" width="18" height="2"/>
<rect x="407" y="197" width="1.6" height="16"/>
<rect x="410" y="197" width="1.6" height="16"/>
<rect x="413" y="197" width="1.6" height="16"/>
<rect x="416" y="197" width="1.6" height="16"/>
<rect x="419" y="197" width="1.6" height="16"/>
<rect x="422" y="197" width="1.6" height="16"/>
<rect x="425" y="205" width="5" height="4"/>
<rect x="396" y="213" width="44" height="2.5"/>
<line x1="385" y1="215.5" x2="448" y2="215.5"/>
<line x1="400.5" y1="215" x2="400.5" y2="225"/>
<line x1="406.5" y1="215" x2="406.5" y2="225"/>
<line x1="413.5" y1="215" x2="413.5" y2="225"/>
<line x1="420.5" y1="215" x2="420.5" y2="225"/>
<line x1="426.5" y1="215" x2="426.5" y2="225"/>
<line x1="432" y1="215" x2="432" y2="225"/>
<rect x="401" y="222.5" width="4" height="2"/>
<rect x="407" y="222.5" width="4" height="2"/>
<rect x="414" y="222.5" width="4" height="2"/>
<rect x="421" y="222.5" width="4" height="2"/>
<rect x="427" y="222.5" width="4" height="2"/>
<line x1="400" y1="225" x2="432" y2="225"/>
<rect x="404.8" y="227" width="3.2" height="2.5"/>
<rect x="411.8" y="227" width="3.2" height="2.5"/>
<rect x="418.8" y="227" width="3.2" height="2.5"/>
<rect x="409.5" y="233" width="17" height="1.6"/>
<rect x="427" y="233.5" width="3" height="1" style="fill:#666"/>
<line x1="260.5" y1="245" x2="260.5" y2="257"/>
<line x1="271.5" y1="246" x2="271.5" y2="257"/>
<path d="M260,245.5 L265,245.5 Q268,242.5 271.5,246" fill="none" stroke="#000" stroke-width="1.2"/>
<rect x="263" y="248.5" width="7" height="1"/>
<rect x="263" y="254" width="7" height="1.5"/>
<rect x="258" y="250" width="2" height="3"/>
<line x1="255" y1="256.5" x2="272" y2="256.5"/>
<rect x="255" y="255" width="5" height="2"/>
<rect x="266" y="257" width="7" height="12"/>
<line x1="255" y1="259.5" x2="284" y2="259.5"/>
<line x1="255" y1="263.5" x2="284" y2="263.5"/>
<rect x="255" y="263" width="6" height="2"/>
<rect x="261" y="260" width="5" height="3" class="w"/>
<rect x="274.5" y="259.5" width="8.5" height="5" class="o"/>
<rect x="276" y="261" width="6" height="2"/>
<rect x="262" y="264" width="4" height="3"/>
<rect x="272" y="265" width="3" height="3"/>
<line x1="267.5" y1="269" x2="267.5" y2="283"/>
<line x1="272.5" y1="269" x2="272.5" y2="283"/>
<line x1="265" y1="274.5" x2="276" y2="274.5"/>
<line x1="268" y1="278.5" x2="275" y2="278.5"/>
<circle cx="270.5" cy="287.5" r="1.8" fill="none" stroke="#000" stroke-width="1.1"/>
<line x1="268" y1="283" x2="273" y2="286"/>
<line x1="294.5" y1="245" x2="294.5" y2="257"/>
<line x1="305.5" y1="246" x2="305.5" y2="257"/>
<path d="M294,245.5 L299,245.5 Q302,242.5 305.5,246" fill="none" stroke="#000" stroke-width="1.2"/>
<rect x="297" y="248.5" width="7" height="1"/>
<rect x="297" y="254" width="7" height="1.5"/>
<rect x="292" y="250" width="2" height="3"/>
<line x1="289" y1="256.5" x2="306" y2="256.5"/>
<rect x="289" y="255" width="5" height="2"/>
<rect x="301" y="256" width="6" height="18"/>
<line x1="289" y1="263.5" x2="306" y2="263.5"/>
<rect x="289" y="263" width="5" height="2"/>
<line x1="294.5" y1="257" x2="294.5" y2="271"/>
<rect x="305.5" y="256.5" width="15.5" height="8" class="o"/>
<rect x="307" y="259" width="9" height="1"/>
<rect x="307" y="261" width="9" height="1"/>
<rect x="300" y="264.5" width="21" height="4.5"/>
<line x1="320.5" y1="256" x2="320.5" y2="270"/>
<line x1="302.5" y1="273" x2="302.5" y2="283"/>
<line x1="305.5" y1="273" x2="305.5" y2="283"/>
<line x1="299" y1="274.5" x2="312" y2="274.5"/>
<rect x="307.5" y="275.5" width="4" height="4" class="o"/>
<rect x="302" y="284" width="5" height="4.5"/>
<rect x="307" y="287" width="3" height="1.5"/>
<line x1="334.5" y1="245" x2="334.5" y2="257"/>
<line x1="344.5" y1="246" x2="344.5" y2="257"/>
<path d="M334,245.5 L339,245.5 Q342,242.5 344.5,246" fill="none" stroke="#000" stroke-width="1.2"/>
<rect x="337" y="248.5" width="6" height="1"/>
<rect x="337" y="254" width="6" height="1.5"/>
<rect x="332" y="250" width="2" height="3"/>
<line x1="328" y1="256.5" x2="361" y2="256.5"/>
<rect x="328" y="255" width="6" height="2"/>
<rect x="328" y="263" width="6" height="2"/>
<line x1="334.5" y1="256" x2="334.5" y2="271"/>
<rect x="342.5" y="256" width="4.5" height="14"/>
<rect x="347" y="264" width="13" height="3.5"/>
<rect x="348" y="259" width="10" height="1"/>
<rect x="348" y="261" width="10" height="1"/>
<line x1="360.5" y1="256" x2="360.5" y2="270"/>
<line x1="343" y1="270.5" x2="360" y2="270.5"/>
<line x1="351.5" y1="270" x2="351.5" y2="282"/>
<line x1="353.5" y1="270" x2="353.5" y2="282"/>
<line x1="342" y1="274.5" x2="359" y2="274.5"/>
<rect x="343.5" y="275.5" width="6" height="4" class="o"/>
<rect x="345.5" y="284" width="7.5" height="4.5"/>
<rect x="391" y="251" width="5" height="28"/>
<rect x="392.5" y="255" width="1.5" height="1.5" class="w"/>
<rect x="392.5" y="262" width="1.5" height="1.5" class="w"/>
<rect x="392.5" y="265" width="1.5" height="1.5" class="w"/>
<rect x="392.5" y="268" width="1.5" height="1.5" class="w"/>
<rect x="392.5" y="275" width="1.5" height="1.5" class="w"/>
<line x1="383.5" y1="251" x2="383.5" y2="274"/>
<line x1="378" y1="251.5" x2="390" y2="251.5"/>
<line x1="378" y1="269.5" x2="390" y2="269.5"/>
<line x1="383" y1="274.5" x2="390" y2="274.5"/>
<rect x="378" y="250" width="5" height="2"/>
<rect x="378" y="267" width="5" height="2"/>
<line x1="396" y1="252.5" x2="409" y2="252.5"/>
<line x1="409.5" y1="251" x2="409.5" y2="274"/>
<rect x="397" y="262" width="8" height="1"/>
<rect x="397" y="264" width="8" height="1"/>
<rect x="397" y="266" width="8" height="1"/>
<rect x="396" y="269" width="10" height="5"/>
<rect x="397" y="248" width="3" height="2"/>
<line x1="400" y1="248" x2="402" y2="246"/>
<line x1="389" y1="277.5" x2="396" y2="277.5"/>
<rect x="397.5" y="280.5" width="5" height="4" class="o"/>
<rect x="392" y="279" width="3" height="7"/>
<rect x="391" y="287" width="6" height="5"/>
<rect x="432" y="251" width="5" height="28"/>
<rect x="433.5" y="255" width="1.5" height="1.5" class="w"/>
<rect x="433.5" y="262" width="1.5" height="1.5" class="w"/>
<rect x="433.5" y="265" width="1.5" height="1.5" class="w"/>
<rect x="433.5" y="268" width="1.5" height="1.5" class="w"/>
<rect x="433.5" y="275" width="1.5" height="1.5" class="w"/>
<line x1="424.5" y1="251" x2="424.5" y2="274"/>
<line x1="419" y1="251.5" x2="431" y2="251.5"/>
<line x1="419" y1="269.5" x2="431" y2="269.5"/>
<line x1="424" y1="274.5" x2="431" y2="274.5"/>
<rect x="419" y="250" width="5" height="2"/>
<rect x="419" y="267" width="5" height="2"/>
<rect x="436" y="252" width="8" height="20"/>
<line x1="444.5" y1="251" x2="444.5" y2="272"/>
<rect x="438" y="255" width="5" height="6" class="w"/>
<rect x="438" y="265" width="4" height="4" class="w"/>
<rect x="438" y="248" width="3" height="2"/>
<line x1="441" y1="248" x2="443" y2="246"/>
<line x1="430" y1="277.5" x2="437" y2="277.5"/>
<rect x="438.5" y="280.5" width="5" height="4" class="o"/>
<rect x="433" y="279" width="3" height="7"/>
<rect x="432" y="287" width="6" height="5"/>
<g transform="translate(0,0)">
<rect x="31" y="338" width="83" height="3"/>
<rect x="34" y="339" width="2" height="1" class="w"/>
<rect x="39" y="339" width="2" height="1" class="w"/>
<rect x="44" y="339" width="2" height="1" class="w"/>
<rect x="49" y="339" width="2" height="1" class="w"/>
<rect x="54" y="339" width="2" height="1" class="w"/>
<rect x="59" y="339" width="2" height="1" class="w"/>
<rect x="64" y="339" width="2" height="1" class="w"/>
<rect x="69" y="339" width="2" height="1" class="w"/>
<rect x="74" y="339" width="2" height="1" class="w"/>
<rect x="79" y="339" width="2" height="1" class="w"/>
<rect x="84" y="339" width="2" height="1" class="w"/>
<rect x="89" y="339" width="2" height="1" class="w"/>
<rect x="94" y="339" width="2" height="1" class="w"/>
<rect x="99" y="339" width="2" height="1" class="w"/>
<rect x="104" y="339" width="2" height="1" class="w"/>
<rect x="109" y="339" width="2" height="1" class="w"/>
<line x1="32" y1="333" x2="32" y2="349"/>
<rect x="30.3" y="332.5" width="3.2" height="2.5"/>
<line x1="32" y1="331.5" x2="32" y2="333"/>
<line x1="36.5" y1="333" x2="36.5" y2="349"/>
<rect x="34.8" y="332.5" width="3.2" height="2.5"/>
<line x1="36.5" y1="331.5" x2="36.5" y2="333"/>
<line x1="40.5" y1="333" x2="40.5" y2="349"/>
<rect x="38.8" y="332.5" width="3.2" height="2.5"/>
<line x1="40.5" y1="331.5" x2="40.5" y2="333"/>
<line x1="50" y1="333" x2="50" y2="349"/>
<rect x="48.3" y="332.5" width="3.2" height="2.5"/>
<line x1="50" y1="331.5" x2="50" y2="333"/>
<line x1="58" y1="333" x2="58" y2="349"/>
<rect x="56.3" y="332.5" width="3.2" height="2.5"/>
<line x1="58" y1="331.5" x2="58" y2="333"/>
<line x1="64" y1="333" x2="64" y2="349"/>
<rect x="62.3" y="332.5" width="3.2" height="2.5"/>
<line x1="64" y1="331.5" x2="64" y2="333"/>
<line x1="71" y1="333" x2="71" y2="349"/>
<rect x="69.3" y="332.5" width="3.2" height="2.5"/>
<line x1="71" y1="331.5" x2="71" y2="333"/>
<line x1="77" y1="333" x2="77" y2="349"/>
<rect x="75.3" y="332.5" width="3.2" height="2.5"/>
<line x1="77" y1="331.5" x2="77" y2="333"/>
<line x1="83" y1="333" x2="83" y2="349"/>
<rect x="81.3" y="332.5" width="3.2" height="2.5"/>
<line x1="83" y1="331.5" x2="83" y2="333"/>
<line x1="89" y1="333" x2="89" y2="349"/>
<rect x="87.3" y="332.5" width="3.2" height="2.5"/>
<line x1="89" y1="331.5" x2="89" y2="333"/>
<line x1="97" y1="333" x2="97" y2="349"/>
<rect x="95.3" y="332.5" width="3.2" height="2.5"/>
<line x1="97" y1="331.5" x2="97" y2="333"/>
<line x1="106" y1="333" x2="106" y2="349"/>
<rect x="104.3" y="332.5" width="3.2" height="2.5"/>
<line x1="106" y1="331.5" x2="106" y2="333"/>
<line x1="110" y1="333" x2="110" y2="349"/>
<rect x="108.3" y="332.5" width="3.2" height="2.5"/>
<line x1="110" y1="331.5" x2="110" y2="333"/>
<line x1="114" y1="333" x2="114" y2="349"/>
<rect x="112.3" y="332.5" width="3.2" height="2.5"/>
<line x1="114" y1="331.5" x2="114" y2="333"/>
<line x1="43.5" y1="341" x2="43.5" y2="345"/>
<line x1="46.5" y1="341" x2="46.5" y2="345"/>
<line x1="49.5" y1="341" x2="49.5" y2="345"/>
<line x1="52.5" y1="341" x2="52.5" y2="345"/>
<line x1="55.5" y1="341" x2="55.5" y2="345"/>
<line x1="58.5" y1="341" x2="58.5" y2="345"/>
<line x1="61.5" y1="341" x2="61.5" y2="345"/>
<line x1="64.5" y1="341" x2="64.5" y2="345"/>
<line x1="67.5" y1="341" x2="67.5" y2="345"/>
<line x1="70.5" y1="341" x2="70.5" y2="345"/>
<line x1="73.5" y1="341" x2="73.5" y2="345"/>
<line x1="76.5" y1="341" x2="76.5" y2="345"/>
<line x1="79.5" y1="341" x2="79.5" y2="345"/>
<line x1="82.5" y1="341" x2="82.5" y2="345"/>
<line x1="85.5" y1="341" x2="85.5" y2="345"/>
<line x1="88.5" y1="341" x2="88.5" y2="345"/>
<line x1="91.5" y1="341" x2="91.5" y2="345"/>
<line x1="94.5" y1="341" x2="94.5" y2="345"/>
<line x1="97.5" y1="341" x2="97.5" y2="345"/>
<line x1="100.5" y1="341" x2="100.5" y2="345"/>
<line x1="103.5" y1="341" x2="103.5" y2="345"/>
<line x1="106.5" y1="341" x2="106.5" y2="345"/>
<line x1="109.5" y1="341" x2="109.5" y2="345"/>
<rect x="44" y="341" width="10" height="1.5"/>
<rect x="60" y="342" width="6" height="1.5"/>
<rect x="85" y="342" width="10" height="1.5"/>
<rect x="70" y="336" width="5" height="2"/>
</g>
<g transform="translate(0,0)">
<rect x="17" y="349" width="109" height="2"/>
<rect x="17" y="352" width="109" height="1"/>
<rect x="17" y="355" width="109" height="1"/>
<rect x="17" y="357" width="109" height="2"/>
<rect x="17" y="360" width="109" height="1"/>
<rect x="17" y="362" width="109" height="1"/>
<rect x="17" y="366" width="109" height="2"/>
<rect x="17" y="370" width="109" height="1"/>
<rect x="17" y="375" width="109" height="1"/>
<rect x="17" y="378" width="109" height="1"/>
<rect x="17" y="381" width="109" height="1"/>
<rect x="17" y="386" width="109" height="2"/>
<rect x="21" y="348" width="1" height="39"/>
<rect x="23" y="348" width="1" height="39"/>
<rect x="32" y="348" width="1" height="39"/>
<rect x="36" y="348" width="1" height="39"/>
<rect x="40" y="348" width="1" height="39"/>
<rect x="48" y="348" width="1" height="39"/>
<rect x="51" y="348" width="1" height="39"/>
<rect x="56" y="348" width="1" height="39"/>
<rect x="63" y="348" width="1" height="39"/>
<rect x="68" y="348" width="1" height="39"/>
<rect x="72" y="348" width="1" height="39"/>
<rect x="77" y="348" width="1" height="39"/>
<rect x="85" y="348" width="1" height="39"/>
<rect x="89" y="348" width="1" height="39"/>
<rect x="95" y="348" width="1" height="39"/>
<rect x="105" y="348" width="1" height="39"/>
<rect x="109" y="348" width="1" height="39"/>
<rect x="113" y="348" width="1" height="39"/>
<rect x="123" y="348" width="1" height="39"/>
<rect x="125" y="348" width="1" height="39"/>
<rect x="56" y="350" width="32" height="22"/>
<rect x="67" y="364" width="2" height="2" class="w"/>
<rect x="80" y="355" width="1" height="1" class="w"/>
<rect x="60" y="360" width="1" height="1" class="w"/>
<rect x="73" y="362" width="1" height="1" class="w"/>
<rect x="63" y="356" width="1" height="2" class="w"/>
<rect x="78" y="352" width="3" height="1" class="w"/>
<rect x="60" y="370" width="3" height="1" class="w"/>
<rect x="80" y="370" width="1" height="1" class="w"/>
<rect x="65" y="370" width="1" height="1" class="w"/>
<rect x="85" y="365" width="1" height="1" class="w"/>
<rect x="57" y="359" width="3" height="1" class="w"/>
<rect x="58" y="356" width="1" height="1" class="w"/>
<rect x="77" y="357" width="1" height="2" class="w"/>
<rect x="81" y="360" width="2" height="1" class="w"/>
<rect x="70" y="365" width="2" height="1" class="w"/>
<rect x="86" y="350" width="1" height="1" class="w"/>
<rect x="57" y="367" width="2" height="1" class="w"/>
<rect x="73" y="350" width="2" height="1" class="w"/>
<rect x="62" y="369" width="1" height="2" class="w"/>
<rect x="79" y="370" width="1" height="1" class="w"/>
<rect x="71" y="369" width="3" height="1" class="w"/>
<rect x="59" y="366" width="2" height="1" class="w"/>
<rect x="24" y="364" width="9" height="10"/>
<rect x="24" y="373" width="2" height="1" class="w"/>
<rect x="27" y="369" width="1" height="1" class="w"/>
<rect x="26" y="370" width="1" height="1" class="w"/>
<rect x="29" y="367" width="1" height="1" class="w"/>
<rect x="88" y="352" width="5" height="14"/>
<rect x="89" y="360" width="1" height="2" class="w"/>
<rect x="89" y="353" width="3" height="1" class="w"/>
<rect x="88" y="360" width="3" height="1" class="w"/>
<rect x="42" y="349" width="12" height="2"/>
<rect x="36" y="358" width="5" height="6"/>
<rect x="38" y="359" width="2" height="1" class="w"/>
<rect x="37" y="359" width="1" height="1" class="w"/>
<rect x="45" y="364" width="11" height="6"/>
<rect x="54" y="366" width="1" height="2" class="w"/>
<rect x="49" y="364" width="1" height="1" class="w"/>
<rect x="46" y="369" width="3" height="1" class="w"/>
<rect x="95" y="356" width="11" height="6"/>
<rect x="100" y="358" width="1" height="2" class="w"/>
<rect x="97" y="358" width="2" height="1" class="w"/>
<rect x="99" y="361" width="1" height="1" class="w"/>
<rect x="64" y="368" width="16" height="9"/>
<rect x="78" y="374" width="1" height="2" class="w"/>
<rect x="71" y="372" width="1" height="1" class="w"/>
<rect x="75" y="374" width="2" height="1" class="w"/>
<rect x="108" y="370" width="8" height="6"/>
<rect x="111" y="374" width="1" height="1" class="w"/>
<rect x="110" y="375" width="2" height="1" class="w"/>
<rect x="58" y="356" width="6" height="1.5" class="w"/>
<rect x="67" y="361" width="9" height="1.5" class="w"/>
<rect x="60" y="366" width="8" height="2" class="w"/>
<rect x="77" y="354" width="5" height="1.5" class="w"/>
<rect x="82" y="363" width="4" height="1.5" class="w"/>
<rect x="94" y="375" width="2" height="1"/>
<rect x="80" y="349" width="1" height="3"/>
<rect x="53" y="356" width="4" height="1"/>
<rect x="87" y="371" width="4" height="1"/>
<rect x="55" y="374" width="2" height="1"/>
<rect x="110" y="368" width="1" height="3"/>
<rect x="73" y="363" width="3" height="1"/>
<rect x="117" y="362" width="1" height="3"/>
<rect x="36" y="370" width="1" height="3"/>
<rect x="50" y="364" width="1" height="3"/>
<rect x="94" y="350" width="3" height="1"/>
<rect x="84" y="354" width="1" height="2"/>
<rect x="85" y="350" width="2" height="1"/>
<rect x="36" y="373" width="2" height="1"/>
<rect x="69" y="364" width="3" height="1"/>
<rect x="58" y="366" width="1" height="2"/>
<rect x="94" y="359" width="3" height="1"/>
<rect x="109" y="372" width="1" height="3"/>
<rect x="120" y="364" width="3" height="1"/>
<rect x="76" y="358" width="1" height="3"/>
<rect x="105" y="360" width="1" height="3"/>
<rect x="68" y="353" width="3" height="1"/>
<rect x="119" y="375" width="1" height="3"/>
<rect x="105" y="367" width="3" height="1"/>
<rect x="78" y="366" width="4" height="1"/>
<rect x="111" y="364" width="2" height="1"/>
<rect x="70" y="362" width="1" height="3"/>
<rect x="120" y="374" width="1" height="3"/>
<rect x="97" y="357" width="2" height="1"/>
<rect x="52" y="376" width="3" height="1"/>
<rect x="33" y="350" width="1" height="3"/>
<rect x="44" y="350" width="3" height="1"/>
<rect x="19" y="363" width="3" height="1"/>
<rect x="101" y="356" width="2" height="1"/>
<rect x="94" y="357" width="3" height="1"/>
<rect x="73" y="372" width="1" height="2"/>
<rect x="20" y="352" width="4" height="1"/>
<rect x="54" y="357" width="1" height="3"/>
<rect x="55" y="367" width="1" height="2"/>
<rect x="22" y="356" width="2" height="1"/>
<rect x="112" y="364" width="3" height="1"/>
<rect x="81" y="368" width="1" height="3"/>
<rect x="109" y="372" width="4" height="1"/>
<rect x="108" y="354" width="2" height="1"/>
<rect x="50" y="349" width="1" height="3"/>
<rect x="87" y="362" width="2" height="1"/>
<rect x="69" y="364" width="3" height="1"/>
<rect x="75" y="360" width="1" height="2"/>
<rect x="25" y="355" width="1" height="2"/>
<rect x="88" y="350" width="1" height="2"/>
<rect x="124" y="368" width="2" height="1"/>
<rect x="41" y="366" width="1" height="2"/>
<rect x="123" y="368" width="2" height="1"/>
<rect x="83" y="360" width="4" height="1"/>
<rect x="41" y="364" width="1" height="2"/>
<rect x="48" y="364" width="3" height="1"/>
<rect x="111" y="353" width="3" height="1"/>
<rect x="91" y="362" width="4" height="1"/>
<rect x="58" y="351" width="1" height="2"/>
<rect x="78" y="367" width="4" height="1"/>
<rect x="76" y="355" width="2" height="1"/>
<rect x="45" y="369" width="1" height="2"/>
<rect x="104" y="372" width="3" height="1"/>
<rect x="37" y="368" width="1" height="2"/>
<rect x="79" y="350" width="1" height="3"/>
<rect x="43" y="373" width="3" height="1"/>
<rect x="29" y="363" width="1" height="3"/>
<rect x="24" y="353" width="1" height="2"/>
<rect x="97" y="351" width="1" height="3"/>
<rect x="105" y="353" width="1" height="3"/>
<rect x="107" y="357" width="1" height="3"/>
<rect x="102" y="359" width="1" height="3"/>
<rect x="87" y="371" width="3" height="1"/>
<rect x="73" y="365" width="1" height="2"/>
<rect x="60" y="352" width="2" height="1"/>
<rect x="39" y="362" width="1" height="3"/>
<rect x="18" y="362" width="1" height="3"/>
<rect x="52" y="361" width="4" height="1"/>
<rect x="35" y="359" width="3" height="1"/>
<rect x="34" y="356" width="2" height="1"/>
<rect x="98" y="367" width="2" height="1"/>
<rect x="54" y="369" width="2" height="1"/>
<rect x="91" y="367" width="2" height="1"/>
<rect x="30" y="367" width="4" height="1"/>
<rect x="43" y="376" width="4" height="1"/>
<rect x="21" y="355" width="3" height="1"/>
<rect x="115" y="368" width="1" height="2"/>
<rect x="68" y="357" width="1" height="3"/>
<rect x="35" y="355" width="1" height="2"/>
<rect x="86" y="361" width="1" height="2"/>
<rect x="67" y="361" width="1" height="2"/>
<rect x="23" y="364" width="1" height="3"/>
<rect x="118" y="368" width="3" height="1"/>
<rect x="28" y="362" width="1" height="2"/>
<rect x="71" y="370" width="3" height="1"/>
<rect x="65" y="366" width="1" height="2"/>
<rect x="37" y="363" width="4" height="1"/>
<rect x="43" y="374" width="1" height="2"/>
<rect x="75" y="374" width="1" height="2"/>
<rect x="84" y="361" width="3" height="1"/>
<rect x="79" y="359" width="1" height="2"/>
<rect x="115" y="357" width="2" height="1"/>
<rect x="77" y="353" width="3" height="1"/>
<rect x="105" y="357" width="2" height="1"/>
<rect x="68" y="368" width="1" height="2"/>
<rect x="47" y="362" width="4" height="1"/>
<rect x="39" y="357" width="2" height="1"/>
<rect x="26" y="370" width="4" height="1"/>
<rect x="18" y="357" width="1" height="2"/>
<rect x="79" y="361" width="1" height="2"/>
<rect x="95" y="368" width="3" height="1"/>
<rect x="78" y="358" width="2" height="1"/>
<rect x="46" y="367" width="2" height="1"/>
<rect x="75" y="369" width="2" height="1"/>
<rect x="23" y="353" width="3" height="1"/>
<rect x="119" y="366" width="3" height="1"/>
<rect x="31" y="354" width="2" height="1"/>
<rect x="80" y="371" width="1" height="2"/>
<rect x="46" y="365" width="1" height="2"/>
<rect x="65" y="374" width="1" height="2"/>
<rect x="53" y="361" width="4" height="1"/>
<rect x="64" y="361" width="1" height="2"/>
<rect x="74" y="375" width="1" height="2"/>
<rect x="31" y="372" width="1" height="2"/>
<rect x="122" y="350" width="1" height="3"/>
<rect x="93" y="359" width="2" height="1"/>
<rect x="47" y="354" width="1" height="3"/>
<rect x="99" y="370" width="2" height="1"/>
<rect x="104" y="367" width="1" height="2"/>
<rect x="84" y="360" width="2" height="1"/>
<rect x="70" y="350" width="2" height="1"/>
<rect x="98" y="357" width="1" height="3"/>
<rect x="69" y="362" width="1" height="2"/>
<rect x="103" y="359" width="4" height="1"/>
<rect x="82" y="366" width="1" height="2"/>
<rect x="52" y="350" width="3" height="1"/>
<rect x="71" y="364" width="1" height="3"/>
<rect x="122" y="371" width="1" height="2"/>
<rect x="75" y="371" width="4" height="1"/>
<rect x="20" y="370" width="3" height="1"/>
<rect x="26" y="351" width="4" height="1"/>
<rect x="109" y="374" width="2" height="1"/>
<rect x="47" y="368" width="2" height="1"/>
<rect x="89" y="375" width="1" height="2"/>
<rect x="69" y="351" width="3" height="1"/>
<rect x="121" y="364" width="2" height="1"/>
<rect x="89" y="359" width="1" height="2"/>
<rect x="114" y="366" width="2" height="1"/>
<rect x="107" y="373" width="1" height="3"/>
<rect x="44" y="352" width="3" height="1"/>
<rect x="103" y="351" width="1" height="2"/>
<rect x="85" y="370" width="2" height="1"/>
<rect x="78" y="366" width="1" height="3"/>
<rect x="62" y="360" width="1" height="2"/>
<rect x="50" y="357" width="1" height="3"/>
<rect x="38" y="350" width="4" height="1"/>
<rect x="77" y="364" width="3" height="1"/>
<rect x="81" y="366" width="1" height="2"/>
<rect x="25" y="362" width="1" height="2"/>
<rect x="52" y="372" width="1" height="2"/>
<rect x="113" y="366" width="1" height="2"/>
<rect x="18" y="367" width="3" height="1"/>
<rect x="34" y="366" width="3" height="1"/>
<rect x="96" y="371" width="1" height="2"/>
<rect x="57" y="371" width="3" height="1"/>
<rect x="58" y="361" width="1" height="2"/>
<rect x="44" y="374" width="2" height="1"/>
<rect x="30" y="365" width="4" height="1"/>
<rect x="18" y="359" width="4" height="1"/>
<rect x="26" y="370" width="1" height="3"/>
<rect x="20" y="371" width="1" height="2"/>
<rect x="115" y="359" width="3" height="1"/>
<rect x="86" y="370" width="2" height="1"/>
<rect x="49" y="358" width="1" height="3"/>
<rect x="23" y="360" width="4" height="1"/>
<rect x="94" y="353" width="1" height="3"/>
<rect x="64" y="354" width="1" height="2"/>
<rect x="28" y="359" width="1" height="2"/>
<rect x="105" y="353" width="1" height="2"/>
<rect x="45" y="361" width="4" height="1"/>
<rect x="26" y="375" width="3" height="1"/>
<rect x="19" y="363" width="1" height="3"/>
<rect x="72" y="350" width="4" height="1"/>
<rect x="64" y="365" width="1" height="2"/>
<rect x="41" y="360" width="1" height="3"/>
<rect x="115" y="359" width="1" height="2"/>
<rect x="113" y="353" width="1" height="3"/>
<rect x="106" y="351" width="3" height="1"/>
<rect x="63" y="356" width="3" height="1"/>
<rect x="18" y="366" width="1" height="3"/>
<rect x="26" y="368" width="3" height="1"/>
<rect x="112" y="354" width="3" height="1"/>
<rect x="120" y="365" width="2" height="1"/>
<rect x="26" y="359" width="1" height="2"/>
<rect x="38" y="361" width="4" height="1"/>
<rect x="58" y="370" width="4" height="1"/>
<rect x="113" y="373" width="1" height="3"/>
<rect x="30" y="366" width="3" height="1"/>
<rect x="114" y="364" width="2" height="1"/>
<rect x="120" y="353" width="2" height="1"/>
<rect x="18" y="352" width="3" height="2"/>
<rect x="18" y="360" width="3" height="3"/>
<rect x="18" y="368" width="3" height="3"/>
<rect x="18" y="376" width="3" height="3"/>
<rect x="24" y="352" width="4" height="2"/>
<rect x="44" y="353" width="3" height="2"/>
<rect x="100" y="363" width="4" height="3"/>
<rect x="115" y="371" width="4" height="3"/>
<rect x="30" y="371" width="3" height="3"/>
<rect x="49" y="376" width="4" height="2"/>
<rect x="88" y="376" width="4" height="3"/>
<rect x="105" y="376" width="3" height="2"/>
<rect x="119" y="353" width="3" height="2"/>
<rect x="62" y="383" width="2" height="3"/>
<rect x="82" y="383" width="2" height="3"/>
<rect x="113" y="358" width="10" height="2"/>
<rect x="96" y="367" width="9" height="3"/>
<rect x="43" y="367" width="5" height="3"/>
<rect x="24" y="377" width="100" height="1.5"/>
<rect x="31" y="377" width="1.6" height="10"/>
<rect x="43.5" y="377" width="1.6" height="10"/>
<rect x="54" y="377" width="1.6" height="10"/>
<rect x="64" y="377" width="1.6" height="10"/>
<rect x="73.5" y="377" width="1.6" height="10"/>
<rect x="83" y="377" width="1.6" height="10"/>
<rect x="91" y="377" width="1.6" height="10"/>
<rect x="96" y="377" width="1.6" height="10"/>
<rect x="104.5" y="377" width="1.6" height="10"/>
<rect x="113.5" y="377" width="1.6" height="10"/>
<rect x="118" y="377" width="1.6" height="10"/>
<rect x="33" y="381" width="9" height="2" style="fill:#999"/>
<rect x="34" y="382" width="7" height="1" style="fill:#666"/>
<rect x="45" y="381" width="8" height="2" style="fill:#999"/>
<rect x="46" y="382" width="6" height="1" style="fill:#666"/>
<rect x="56" y="381" width="7" height="2" style="fill:#999"/>
<rect x="57" y="382" width="5" height="1" style="fill:#666"/>
<rect x="66" y="381" width="6" height="2" style="fill:#999"/>
<rect x="67" y="382" width="4" height="1" style="fill:#666"/>
<rect x="76" y="381" width="6" height="2" style="fill:#999"/>
<rect x="77" y="382" width="4" height="1" style="fill:#666"/>
<rect x="85" y="381" width="5" height="2" style="fill:#999"/>
<rect x="86" y="382" width="3" height="1" style="fill:#666"/>
<rect x="98" y="381" width="5" height="2" style="fill:#999"/>
<rect x="99" y="382" width="3" height="1" style="fill:#666"/>
<rect x="107" y="381" width="5" height="2" style="fill:#999"/>
<rect x="108" y="382" width="3" height="1" style="fill:#666"/>
<rect x="34" y="379" width="4" height="1" style="fill:#777"/>
<rect x="42" y="379" width="4" height="1" style="fill:#777"/>
<rect x="58" y="379" width="3" height="1" style="fill:#777"/>
<rect x="65" y="379" width="1" height="1" style="fill:#777"/>
<rect x="74" y="379" width="1" height="1" style="fill:#777"/>
<rect x="79" y="379" width="4" height="1" style="fill:#777"/>
<rect x="15.5" y="348.6" width="3" height="2.5"/>
<rect x="15.5" y="356.2" width="3" height="2.5"/>
<rect x="15.5" y="364" width="3" height="2.5"/>
<rect x="15.5" y="369.8" width="3" height="2.5"/>
<rect x="15.5" y="378.8" width="3" height="2.5"/>
<rect x="15.5" y="385.6" width="3" height="2.5"/>
<rect x="126.5" y="351" width="2.5" height="2.5"/>
<rect x="126.5" y="356" width="2.5" height="2.5"/>
<rect x="126.5" y="360" width="2.5" height="2.5"/>
<rect x="126.5" y="365" width="2.5" height="2.5"/>
<rect x="126.5" y="371" width="2.5" height="2.5"/>
<rect x="126.5" y="377" width="2.5" height="2.5"/>
<rect x="126.5" y="385" width="2.5" height="2.5"/>
<rect x="123" y="349" width="1" height="38"/>
<rect x="123" y="352" width="5" height="1"/>
<rect x="123" y="357" width="5" height="1"/>
<rect x="123" y="361" width="5" height="1"/>
<rect x="123" y="366" width="5" height="1"/>
<rect x="123" y="372" width="5" height="1"/>
<rect x="123" y="378" width="5" height="1"/>
<rect x="123" y="386" width="5" height="1"/>
</g>
<g transform="translate(0,0)">
<rect x="42.5" y="387.5" width="8" height="3.5" class="o"/>
<rect x="44" y="389" width="2" height="1.5"/>
<rect x="47" y="389" width="2" height="1.5"/>
<rect x="64.5" y="387.5" width="18" height="3.5" class="o"/>
<rect x="66" y="389" width="2" height="1.5"/>
<rect x="79" y="389" width="2" height="1.5"/>
<rect x="92.5" y="387.5" width="9" height="3.5" class="o"/>
<rect x="94" y="389" width="2" height="1.5"/>
<rect x="98" y="389" width="2" height="1.5"/>
<line x1="122.5" y1="383" x2="122.5" y2="394"/>
<rect x="31" y="393" width="1" height="5"/>
<rect x="34" y="393" width="1" height="5"/>
<rect x="37" y="393" width="1" height="5"/>
<rect x="40" y="393" width="1" height="5"/>
<rect x="43" y="393" width="1" height="5"/>
<rect x="46" y="393" width="1" height="5"/>
<rect x="49" y="393" width="1" height="5"/>
<rect x="52" y="393" width="1" height="5"/>
<rect x="55" y="393" width="1" height="5"/>
<rect x="58" y="393" width="1" height="5"/>
<rect x="61" y="393" width="1" height="5"/>
<rect x="64" y="393" width="1" height="5"/>
<rect x="67" y="393" width="1" height="5"/>
<rect x="70" y="393" width="1" height="5"/>
<rect x="73" y="393" width="1" height="5"/>
<rect x="76" y="393" width="1" height="5"/>
<rect x="79" y="393" width="1" height="5"/>
<rect x="82" y="393" width="1" height="5"/>
<rect x="85" y="393" width="1" height="5"/>
<rect x="88" y="393" width="1" height="5"/>
<rect x="91" y="393" width="1" height="5"/>
<rect x="94" y="393" width="1" height="5"/>
<rect x="97" y="393" width="1" height="5"/>
<rect x="100" y="393" width="1" height="5"/>
<rect x="103" y="393" width="1" height="5"/>
<rect x="106" y="393" width="1" height="5"/>
<rect x="109" y="393" width="1" height="5"/>
<rect x="112" y="393" width="1" height="5"/>
<rect x="34" y="395" width="3" height="1"/>
<rect x="40" y="395" width="3" height="1"/>
<rect x="47" y="395" width="3" height="1"/>
<rect x="52" y="395" width="3" height="1"/>
<rect x="58" y="395" width="3" height="1"/>
<rect x="66" y="395" width="3" height="1"/>
<rect x="75" y="395" width="3" height="1"/>
<rect x="86" y="395" width="3" height="1"/>
<rect x="98" y="395" width="3" height="1"/>
<rect x="106" y="395" width="3" height="1"/>
<rect x="112" y="395" width="3" height="1"/>
<rect x="31" y="398" width="83" height="2"/>
<line x1="31" y1="401.5" x2="114" y2="401.5"/>
<rect x="31" y="398" width="1" height="6"/>
<rect x="30" y="403.5" width="3" height="3"/>
<rect x="40" y="398" width="1" height="6"/>
<rect x="39" y="403.5" width="3" height="3"/>
<rect x="49" y="398" width="1" height="6"/>
<rect x="48" y="403.5" width="3" height="3"/>
<rect x="53" y="398" width="1" height="6"/>
<rect x="52" y="403.5" width="3" height="3"/>
<rect x="63" y="398" width="1" height="6"/>
<rect x="62" y="403.5" width="3" height="3"/>
<rect x="71" y="398" width="1" height="6"/>
<rect x="70" y="403.5" width="3" height="3"/>
<rect x="81" y="398" width="1" height="6"/>
<rect x="80" y="403.5" width="3" height="3"/>
<rect x="90" y="398" width="1" height="6"/>
<rect x="89" y="403.5" width="3" height="3"/>
<rect x="95" y="398" width="1" height="6"/>
<rect x="94" y="403.5" width="3" height="3"/>
<rect x="103" y="398" width="1" height="6"/>
<rect x="102" y="403.5" width="3" height="3"/>
<rect x="112" y="398" width="1" height="6"/>
<rect x="111" y="403.5" width="3" height="3"/>
<rect x="116" y="398" width="1" height="6"/>
<rect x="115" y="403.5" width="3" height="3"/>
<line x1="31" y1="393" x2="31" y2="403"/>
<rect x="64" y="407.5" width="14" height="2.5" style="fill:#222"/>
<rect x="79" y="409" width="2" height="1"/>
<rect x="63.3" y="412.5" width="22.7" height="1.5" style="fill:#777"/>
</g>
<rect x="131" y="344" width="5" height="21.5"/>
<rect x="136" y="344" width="2.5" height="21.5" style="fill:#aaa"/>
<rect x="158.5" y="333.5" width="14" height="16" class="o"/>
<rect x="158" y="333" width="15" height="2"/>
<rect x="159" y="336" width="6" height="7"/>
<rect x="166" y="336" width="6" height="7"/>
<rect x="160.5" y="337.5" width="3" height="4" class="w"/>
<rect x="167.5" y="337.5" width="3" height="4" class="w"/>
<rect x="159" y="343.5" width="13" height="2" style="fill:#555"/>
<line x1="174" y1="330" x2="174" y2="350"/>
<line x1="176" y1="330" x2="176" y2="350"/>
<rect x="174" y="333" width="4" height="3"/>
<rect x="175" y="339" width="3" height="6"/>
<line x1="178.5" y1="330" x2="178.5" y2="347"/>
<rect x="179" y="329.5" width="5" height="1.5"/>
<rect x="179" y="344.5" width="5" height="1.5"/>
<line x1="155" y1="350.5" x2="178" y2="350.5"/>
<rect x="162" y="349" width="4" height="4"/>
<rect x="157.5" y="353.5" width="15" height="1.2" style="fill:#333"/>
<line x1="157" y1="356" x2="173" y2="356"/>
<rect x="157.5" y="367.5" width="15" height="7.5" class="o"/>
<line x1="157" y1="371" x2="173" y2="371"/>
<rect x="163" y="364" width="2.5" height="2.5"/>
<line x1="172.5" y1="366" x2="172.5" y2="376"/>
<rect x="175" y="367" width="3" height="2"/>
<line x1="175" y1="370" x2="179" y2="368"/>
<line x1="176.5" y1="367" x2="176.5" y2="374"/>
<rect x="174" y="372" width="5" height="1"/>
<rect x="163" y="375" width="4" height="3"/>
<line x1="155" y1="374.5" x2="158" y2="374.5"/>
<rect x="158" y="381.5" width="14" height="1.2" style="fill:#333"/>
<line x1="158" y1="384" x2="173" y2="384"/>
<rect x="199" y="331" width="5.5" height="52"/>
<rect x="201" y="334" width="1.5" height="1.5" class="w"/>
<rect x="201" y="340" width="1.5" height="1.5" class="w"/>
<rect x="201" y="347" width="1.5" height="1.5" class="w"/>
<rect x="201" y="352" width="1.5" height="1.5" class="w"/>
<rect x="201" y="358" width="1.5" height="1.5" class="w"/>
<rect x="201" y="363" width="1.5" height="1.5" class="w"/>
<rect x="201" y="370" width="1.5" height="1.5" class="w"/>
<rect x="201" y="377" width="1.5" height="1.5" class="w"/>
<rect x="191" y="336" width="16" height="2"/>
<rect x="191" y="343.4" width="16" height="2"/>
<rect x="191" y="355.6" width="16" height="1.5"/>
<rect x="191" y="366.7" width="16" height="1.5"/>
<rect x="191" y="372.2" width="16" height="2"/>
<line x1="194.5" y1="338" x2="194.5" y2="376"/>
<line x1="206.5" y1="333" x2="206.5" y2="378"/>
<line x1="208.5" y1="333" x2="208.5" y2="378"/>
<line x1="212" y1="333" x2="212" y2="378"/>
<line x1="214" y1="333" x2="214" y2="378"/>
<rect x="208.5" y="338.5" width="4" height="4.5" class="o"/>
<rect x="208.5" y="351.5" width="4" height="4.5" class="o"/>
<rect x="208.5" y="360.5" width="4" height="4.5" class="o"/>
<rect x="204.5" y="345" width="9" height="2"/>
<rect x="204.5" y="368" width="9" height="2"/>
<line x1="214" y1="337.5" x2="220" y2="335"/>
<rect x="215" y="335" width="5" height="1.2"/>
<line x1="214" y1="366.5" x2="220" y2="365"/>
<rect x="215" y="365" width="5" height="1.2"/>
<rect x="188.5" y="360.5" width="3.5" height="2"/>
<line x1="191" y1="378.5" x2="207" y2="378.5"/>
<rect x="193" y="380" width="6" height="1.5"/>
<line x1="200" y1="380" x2="205" y2="385"/>
<rect x="194" y="385.5" width="7.5" height="1.3"/>
<rect x="142.5" y="396.5" width="22" height="13.5" class="o"/>
<rect x="142" y="406" width="23" height="4"/>
<line x1="132" y1="396.5" x2="167" y2="396.5"/>
<line x1="133.5" y1="393" x2="133.5" y2="399"/>
<line x1="142.5" y1="393" x2="142.5" y2="399"/>
<line x1="153.5" y1="393" x2="153.5" y2="399"/>
<line x1="163.5" y1="393" x2="163.5" y2="399"/>
<rect x="152" y="391" width="3" height="2"/>
<line x1="133.5" y1="393" x2="133.5" y2="411"/>
<rect x="132" y="408" width="10" height="1.2"/>
<rect x="132" y="411" width="10" height="1.2"/>
<rect x="148" y="401" width="4" height="1.5"/>
<rect x="154" y="402" width="3" height="1"/>
<line x1="142" y1="413.5" x2="165" y2="413.5"/>
<rect x="143" y="411" width="2" height="4"/>
<rect x="148" y="412" width="3" height="3"/>
<rect x="156" y="411" width="4" height="2"/>
<line x1="163.5" y1="410" x2="163.5" y2="416"/>
<line x1="145" y1="418" x2="164" y2="418"/>
<rect x="145" y="417" width="2" height="2"/>
<rect x="162" y="417" width="2" height="2"/>
<rect x="148" y="420.5" width="15" height="1.5" style="fill:#222"/>
<line x1="148" y1="423" x2="164" y2="423"/>
<rect x="142.5" y="430.5" width="22" height="13.5" class="o"/>
<rect x="142" y="440" width="23" height="4"/>
<line x1="132" y1="430.5" x2="167" y2="430.5"/>
<line x1="133.5" y1="427" x2="133.5" y2="433"/>
<line x1="142.5" y1="427" x2="142.5" y2="433"/>
<line x1="153.5" y1="427" x2="153.5" y2="433"/>
<line x1="163.5" y1="427" x2="163.5" y2="433"/>
<rect x="152" y="425" width="3" height="2"/>
<line x1="133.5" y1="427" x2="133.5" y2="445"/>
<rect x="132" y="442" width="10" height="1.2"/>
<rect x="132" y="445" width="10" height="1.2"/>
<rect x="148" y="435" width="4" height="1.5"/>
<rect x="154" y="436" width="3" height="1"/>
<line x1="142" y1="447.5" x2="165" y2="447.5"/>
<rect x="143" y="445" width="2" height="4"/>
<rect x="148" y="446" width="3" height="3"/>
<rect x="156" y="445" width="4" height="2"/>
<line x1="163.5" y1="444" x2="163.5" y2="450"/>
<line x1="145" y1="452" x2="164" y2="452"/>
<rect x="145" y="451" width="2" height="2"/>
<rect x="162" y="451" width="2" height="2"/>
<rect x="148" y="454.5" width="15" height="1.5" style="fill:#222"/>
<line x1="148" y1="457" x2="164" y2="457"/>
<rect x="175.5" y="394.5" width="36" height="27.5" class="o"/>
<line x1="180.5" y1="390" x2="180.5" y2="428"/>
<line x1="183.5" y1="390" x2="183.5" y2="428"/>
<rect x="180" y="414" width="24" height="3.2"/>
<line x1="180" y1="419" x2="208" y2="419"/>
<rect x="202.5" y="398" width="5.5" height="17"/>
<rect x="204" y="401" width="2.5" height="3" class="w"/>
<rect x="204" y="407" width="2.5" height="3" class="w"/>
<rect x="196" y="399" width="6" height="1" style="fill:#333"/>
<rect x="196" y="403" width="6" height="1" style="fill:#333"/>
<rect x="196" y="408" width="6" height="1" style="fill:#333"/>
<rect x="196" y="412" width="6" height="1" style="fill:#333"/>
<line x1="214.5" y1="396" x2="214.5" y2="416"/>
<line x1="217.5" y1="396" x2="217.5" y2="416"/>
<line x1="212" y1="397.5" x2="220" y2="397.5"/>
<line x1="212" y1="401.5" x2="220" y2="401.5"/>
<line x1="212" y1="405.5" x2="220" y2="405.5"/>
<line x1="212" y1="409.5" x2="220" y2="409.5"/>
<line x1="212" y1="413.5" x2="220" y2="413.5"/>
<rect x="212" y="400" width="3" height="10" style="fill:#222"/>
<line x1="171" y1="411.5" x2="180" y2="411.5"/>
<rect x="190" y="411" width="6" height="3"/>
<line x1="180" y1="425.5" x2="208" y2="425.5"/>
<rect x="179" y="424" width="3" height="5"/>
<rect x="192" y="424" width="10" height="1.5"/>
<rect x="191.5" y="429.5" width="8" height="1.5"/>
<rect x="191.5" y="434" width="17" height="1" style="fill:#666"/>
<rect x="194.5" y="440.5" width="6" height="11" class="o"/>
<line x1="194" y1="444.5" x2="201" y2="444.5"/>
<line x1="194" y1="448" x2="201" y2="448"/>
<line x1="197.5" y1="440" x2="197.5" y2="452"/>
<rect x="200" y="438.5" width="5" height="23"/>
<line x1="200" y1="445" x2="205" y2="440"/>
<line x1="200" y1="452" x2="205" y2="447"/>
<line x1="179.5" y1="449.5" x2="215.5" y2="449.5"/>
<rect x="180" y="446" width="10" height="6"/>
<rect x="182" y="447.5" width="5" height="2.5" class="w"/>
<line x1="186" y1="442" x2="186" y2="455"/>
<rect x="206" y="448" width="8" height="2"/>
<line x1="194.5" y1="455" x2="194.5" y2="460"/>
<line x1="194" y1="460.5" x2="200" y2="460.5"/>
<rect x="191.5" y="465" width="13" height="1.5" style="fill:#222"/>
<rect x="191.5" y="468.5" width="14" height="1" style="fill:#666"/>
<rect x="21" y="435" width="2.5" height="10"/>
<rect x="21" y="437.5" width="19" height="3"/>
<rect x="25" y="438" width="3" height="1.5" class="w"/>
<rect x="30" y="438" width="3" height="1.5" class="w"/>
<path d="M29,437 Q30,432 34,433 Q38,433 38,437" fill="none" stroke="#000" stroke-width="1.3"/>
<rect x="35" y="436" width="5" height="2"/>
<rect x="27" y="441" width="4" height="2"/>
<rect x="29" y="443" width="2" height="2"/>
<rect x="20" y="450.5" width="19" height="1.2" style="fill:#222"/>
<line x1="20" y1="452.5" x2="39" y2="452.5"/>
<line x1="53.5" y1="424" x2="53.5" y2="453"/>
<line x1="72.5" y1="424" x2="72.5" y2="453"/>
<rect x="53" y="423.5" width="20" height="2.5"/>
<rect x="58" y="426" width="10" height="28"/>
<rect x="60" y="432" width="6" height="21" class="w"/>
<rect x="60" y="436" width="6" height="1.5"/>
<rect x="60" y="439.5" width="6" height="1.5"/>
<rect x="60" y="443" width="6" height="1.5"/>
<line x1="62.5" y1="445" x2="62.5" y2="453"/>
<rect x="75" y="426" width="5" height="27"/>
<rect x="76.5" y="428" width="2" height="23" class="w"/>
<rect x="76.5" y="428" width="1.5" height="1.5"/>
<rect x="76.5" y="431" width="1.5" height="1.5"/>
<rect x="76.5" y="434" width="1.5" height="1.5"/>
<rect x="76.5" y="437" width="1.5" height="1.5"/>
<rect x="76.5" y="440" width="1.5" height="1.5"/>
<rect x="76.5" y="443" width="1.5" height="1.5"/>
<rect x="76.5" y="446" width="1.5" height="1.5"/>
<rect x="76.5" y="449" width="1.5" height="1.5"/>
<line x1="81.5" y1="423" x2="81.5" y2="453"/>
<rect x="81" y="422" width="5" height="1.5"/>
<rect x="81" y="452" width="5" height="1.5"/>
<line x1="50" y1="453.5" x2="86" y2="453.5"/>
<rect x="56" y="456" width="13" height="2.3"/>
<line x1="62.5" y1="453" x2="62.5" y2="461"/>
<rect x="55.5" y="462" width="18" height="1.5" style="fill:#222"/>
<line x1="55" y1="465" x2="74" y2="465"/>
<line x1="91.5" y1="424" x2="91.5" y2="453"/>
<rect x="91" y="424" width="17" height="3"/>
<rect x="98" y="427" width="3.5" height="26"/>
<rect x="91" y="436" width="7" height="2"/>
<rect x="101.5" y="440.5" width="6" height="12.5" class="o"/>
<line x1="107.5" y1="427" x2="107.5" y2="453"/>
<rect x="110.5" y="426" width="5" height="27"/>
<rect x="112" y="428" width="2" height="23" class="w"/>
<rect x="112" y="428" width="1.5" height="1.5"/>
<rect x="112" y="431" width="1.5" height="1.5"/>
<rect x="112" y="434" width="1.5" height="1.5"/>
<rect x="112" y="437" width="1.5" height="1.5"/>
<rect x="112" y="440" width="1.5" height="1.5"/>
<rect x="112" y="443" width="1.5" height="1.5"/>
<rect x="112" y="446" width="1.5" height="1.5"/>
<rect x="112" y="449" width="1.5" height="1.5"/>
<line x1="117.5" y1="423" x2="117.5" y2="453"/>
<rect x="117" y="422" width="4" height="1.5"/>
<rect x="117" y="452" width="4" height="1.5"/>
<line x1="88" y1="453.5" x2="121" y2="453.5"/>
<rect x="98" y="455" width="9" height="3"/>
<line x1="99.5" y1="453" x2="99.5" y2="460"/>
<rect x="91.5" y="462" width="18" height="1.5" style="fill:#222"/>
<line x1="91" y1="465" x2="110" y2="465"/>
<g transform="translate(231.8,67.5)">
<rect x="31" y="338" width="83" height="3"/>
<rect x="34" y="339" width="2" height="1" class="w"/>
<rect x="39" y="339" width="2" height="1" class="w"/>
<rect x="44" y="339" width="2" height="1" class="w"/>
<rect x="49" y="339" width="2" height="1" class="w"/>
<rect x="54" y="339" width="2" height="1" class="w"/>
<rect x="59" y="339" width="2" height="1" class="w"/>
<rect x="64" y="339" width="2" height="1" class="w"/>
<rect x="69" y="339" width="2" height="1" class="w"/>
<rect x="74" y="339" width="2" height="1" class="w"/>
<rect x="79" y="339" width="2" height="1" class="w"/>
<rect x="84" y="339" width="2" height="1" class="w"/>
<rect x="89" y="339" width="2" height="1" class="w"/>
<rect x="94" y="339" width="2" height="1" class="w"/>
<rect x="99" y="339" width="2" height="1" class="w"/>
<rect x="104" y="339" width="2" height="1" class="w"/>
<rect x="109" y="339" width="2" height="1" class="w"/>
<line x1="32" y1="333" x2="32" y2="349"/>
<rect x="30.3" y="332.5" width="3.2" height="2.5"/>
<line x1="32" y1="331.5" x2="32" y2="333"/>
<line x1="36.5" y1="333" x2="36.5" y2="349"/>
<rect x="34.8" y="332.5" width="3.2" height="2.5"/>
<line x1="36.5" y1="331.5" x2="36.5" y2="333"/>
<line x1="40.5" y1="333" x2="40.5" y2="349"/>
<rect x="38.8" y="332.5" width="3.2" height="2.5"/>
<line x1="40.5" y1="331.5" x2="40.5" y2="333"/>
<line x1="50" y1="333" x2="50" y2="349"/>
<rect x="48.3" y="332.5" width="3.2" height="2.5"/>
<line x1="50" y1="331.5" x2="50" y2="333"/>
<line x1="58" y1="333" x2="58" y2="349"/>
<rect x="56.3" y="332.5" width="3.2" height="2.5"/>
<line x1="58" y1="331.5" x2="58" y2="333"/>
<line x1="64" y1="333" x2="64" y2="349"/>
<rect x="62.3" y="332.5" width="3.2" height="2.5"/>
<line x1="64" y1="331.5" x2="64" y2="333"/>
<line x1="71" y1="333" x2="71" y2="349"/>
<rect x="69.3" y="332.5" width="3.2" height="2.5"/>
<line x1="71" y1="331.5" x2="71" y2="333"/>
<line x1="77" y1="333" x2="77" y2="349"/>
<rect x="75.3" y="332.5" width="3.2" height="2.5"/>
<line x1="77" y1="331.5" x2="77" y2="333"/>
<line x1="83" y1="333" x2="83" y2="349"/>
<rect x="81.3" y="332.5" width="3.2" height="2.5"/>
<line x1="83" y1="331.5" x2="83" y2="333"/>
<line x1="89" y1="333" x2="89" y2="349"/>
<rect x="87.3" y="332.5" width="3.2" height="2.5"/>
<line x1="89" y1="331.5" x2="89" y2="333"/>
<line x1="97" y1="333" x2="97" y2="349"/>
<rect x="95.3" y="332.5" width="3.2" height="2.5"/>
<line x1="97" y1="331.5" x2="97" y2="333"/>
<line x1="106" y1="333" x2="106" y2="349"/>
<rect x="104.3" y="332.5" width="3.2" height="2.5"/>
<line x1="106" y1="331.5" x2="106" y2="333"/>
<line x1="110" y1="333" x2="110" y2="349"/>
<rect x="108.3" y="332.5" width="3.2" height="2.5"/>
<line x1="110" y1="331.5" x2="110" y2="333"/>
<line x1="114" y1="333" x2="114" y2="349"/>
<rect x="112.3" y="332.5" width="3.2" height="2.5"/>
<line x1="114" y1="331.5" x2="114" y2="333"/>
<line x1="43.5" y1="341" x2="43.5" y2="345"/>
<line x1="46.5" y1="341" x2="46.5" y2="345"/>
<line x1="49.5" y1="341" x2="49.5" y2="345"/>
<line x1="52.5" y1="341" x2="52.5" y2="345"/>
<line x1="55.5" y1="341" x2="55.5" y2="345"/>
<line x1="58.5" y1="341" x2="58.5" y2="345"/>
<line x1="61.5" y1="341" x2="61.5" y2="345"/>
<line x1="64.5" y1="341" x2="64.5" y2="345"/>
<line x1="67.5" y1="341" x2="67.5" y2="345"/>
<line x1="70.5" y1="341" x2="70.5" y2="345"/>
<line x1="73.5" y1="341" x2="73.5" y2="345"/>
<line x1="76.5" y1="341" x2="76.5" y2="345"/>
<line x1="79.5" y1="341" x2="79.5" y2="345"/>
<line x1="82.5" y1="341" x2="82.5" y2="345"/>
<line x1="85.5" y1="341" x2="85.5" y2="345"/>
<line x1="88.5" y1="341" x2="88.5" y2="345"/>
<line x1="91.5" y1="341" x2="91.5" y2="345"/>
<line x1="94.5" y1="341" x2="94.5" y2="345"/>
<line x1="97.5" y1="341" x2="97.5" y2="345"/>
<line x1="100.5" y1="341" x2="100.5" y2="345"/>
<line x1="103.5" y1="341" x2="103.5" y2="345"/>
<line x1="106.5" y1="341" x2="106.5" y2="345"/>
<line x1="109.5" y1="341" x2="109.5" y2="345"/>
<rect x="44" y="341" width="10" height="1.5"/>
<rect x="60" y="342" width="6" height="1.5"/>
<rect x="85" y="342" width="10" height="1.5"/>
<rect x="70" y="336" width="5" height="2"/>
</g>
<g transform="translate(231.8,66.5)">
<rect x="17" y="349" width="109" height="2"/>
<rect x="17" y="352" width="109" height="1"/>
<rect x="17" y="355" width="109" height="1"/>
<rect x="17" y="357" width="109" height="2"/>
<rect x="17" y="360" width="109" height="1"/>
<rect x="17" y="362" width="109" height="1"/>
<rect x="17" y="366" width="109" height="2"/>
<rect x="17" y="370" width="109" height="1"/>
<rect x="17" y="375" width="109" height="1"/>
<rect x="17" y="378" width="109" height="1"/>
<rect x="17" y="381" width="109" height="1"/>
<rect x="17" y="386" width="109" height="2"/>
<rect x="21" y="348" width="1" height="39"/>
<rect x="23" y="348" width="1" height="39"/>
<rect x="32" y="348" width="1" height="39"/>
<rect x="36" y="348" width="1" height="39"/>
<rect x="40" y="348" width="1" height="39"/>
<rect x="48" y="348" width="1" height="39"/>
<rect x="51" y="348" width="1" height="39"/>
<rect x="56" y="348" width="1" height="39"/>
<rect x="63" y="348" width="1" height="39"/>
<rect x="68" y="348" width="1" height="39"/>
<rect x="72" y="348" width="1" height="39"/>
<rect x="77" y="348" width="1" height="39"/>
<rect x="85" y="348" width="1" height="39"/>
<rect x="89" y="348" width="1" height="39"/>
<rect x="95" y="348" width="1" height="39"/>
<rect x="105" y="348" width="1" height="39"/>
<rect x="109" y="348" width="1" height="39"/>
<rect x="113" y="348" width="1" height="39"/>
<rect x="123" y="348" width="1" height="39"/>
<rect x="125" y="348" width="1" height="39"/>
<rect x="56" y="350" width="32" height="22"/>
<rect x="67" y="364" width="2" height="2" class="w"/>
<rect x="80" y="355" width="1" height="1" class="w"/>
<rect x="60" y="360" width="1" height="1" class="w"/>
<rect x="73" y="362" width="1" height="1" class="w"/>
<rect x="63" y="356" width="1" height="2" class="w"/>
<rect x="78" y="352" width="3" height="1" class="w"/>
<rect x="60" y="370" width="3" height="1" class="w"/>
<rect x="80" y="370" width="1" height="1" class="w"/>
<rect x="65" y="370" width="1" height="1" class="w"/>
<rect x="85" y="365" width="1" height="1" class="w"/>
<rect x="57" y="359" width="3" height="1" class="w"/>
<rect x="58" y="356" width="1" height="1" class="w"/>
<rect x="77" y="357" width="1" height="2" class="w"/>
<rect x="81" y="360" width="2" height="1" class="w"/>
<rect x="70" y="365" width="2" height="1" class="w"/>
<rect x="86" y="350" width="1" height="1" class="w"/>
<rect x="57" y="367" width="2" height="1" class="w"/>
<rect x="73" y="350" width="2" height="1" class="w"/>
<rect x="62" y="369" width="1" height="2" class="w"/>
<rect x="79" y="370" width="1" height="1" class="w"/>
<rect x="71" y="369" width="3" height="1" class="w"/>
<rect x="59" y="366" width="2" height="1" class="w"/>
<rect x="24" y="364" width="9" height="10"/>
<rect x="24" y="373" width="2" height="1" class="w"/>
<rect x="27" y="369" width="1" height="1" class="w"/>
<rect x="26" y="370" width="1" height="1" class="w"/>
<rect x="29" y="367" width="1" height="1" class="w"/>
<rect x="88" y="352" width="5" height="14"/>
<rect x="89" y="360" width="1" height="2" class="w"/>
<rect x="89" y="353" width="3" height="1" class="w"/>
<rect x="88" y="360" width="3" height="1" class="w"/>
<rect x="42" y="349" width="12" height="2"/>
<rect x="36" y="358" width="5" height="6"/>
<rect x="38" y="359" width="2" height="1" class="w"/>
<rect x="37" y="359" width="1" height="1" class="w"/>
<rect x="45" y="364" width="11" height="6"/>
<rect x="54" y="366" width="1" height="2" class="w"/>
<rect x="49" y="364" width="1" height="1" class="w"/>
<rect x="46" y="369" width="3" height="1" class="w"/>
<rect x="95" y="356" width="11" height="6"/>
<rect x="100" y="358" width="1" height="2" class="w"/>
<rect x="97" y="358" width="2" height="1" class="w"/>
<rect x="99" y="361" width="1" height="1" class="w"/>
<rect x="64" y="368" width="16" height="9"/>
<rect x="78" y="374" width="1" height="2" class="w"/>
<rect x="71" y="372" width="1" height="1" class="w"/>
<rect x="75" y="374" width="2" height="1" class="w"/>
<rect x="108" y="370" width="8" height="6"/>
<rect x="111" y="374" width="1" height="1" class="w"/>
<rect x="110" y="375" width="2" height="1" class="w"/>
<rect x="58" y="356" width="6" height="1.5" class="w"/>
<rect x="67" y="361" width="9" height="1.5" class="w"/>
<rect x="60" y="366" width="8" height="2" class="w"/>
<rect x="77" y="354" width="5" height="1.5" class="w"/>
<rect x="82" y="363" width="4" height="1.5" class="w"/>
<rect x="94" y="375" width="2" height="1"/>
<rect x="80" y="349" width="1" height="3"/>
<rect x="53" y="356" width="4" height="1"/>
<rect x="87" y="371" width="4" height="1"/>
<rect x="55" y="374" width="2" height="1"/>
<rect x="110" y="368" width="1" height="3"/>
<rect x="73" y="363" width="3" height="1"/>
<rect x="117" y="362" width="1" height="3"/>
<rect x="36" y="370" width="1" height="3"/>
<rect x="50" y="364" width="1" height="3"/>
<rect x="94" y="350" width="3" height="1"/>
<rect x="84" y="354" width="1" height="2"/>
<rect x="85" y="350" width="2" height="1"/>
<rect x="36" y="373" width="2" height="1"/>
<rect x="69" y="364" width="3" height="1"/>
<rect x="58" y="366" width="1" height="2"/>
<rect x="94" y="359" width="3" height="1"/>
<rect x="109" y="372" width="1" height="3"/>
<rect x="120" y="364" width="3" height="1"/>
<rect x="76" y="358" width="1" height="3"/>
<rect x="105" y="360" width="1" height="3"/>
<rect x="68" y="353" width="3" height="1"/>
<rect x="119" y="375" width="1" height="3"/>
<rect x="105" y="367" width="3" height="1"/>
<rect x="78" y="366" width="4" height="1"/>
<rect x="111" y="364" width="2" height="1"/>
<rect x="70" y="362" width="1" height="3"/>
<rect x="120" y="374" width="1" height="3"/>
<rect x="97" y="357" width="2" height="1"/>
<rect x="52" y="376" width="3" height="1"/>
<rect x="33" y="350" width="1" height="3"/>
<rect x="44" y="350" width="3" height="1"/>
<rect x="19" y="363" width="3" height="1"/>
<rect x="101" y="356" width="2" height="1"/>
<rect x="94" y="357" width="3" height="1"/>
<rect x="73" y="372" width="1" height="2"/>
<rect x="20" y="352" width="4" height="1"/>
<rect x="54" y="357" width="1" height="3"/>
<rect x="55" y="367" width="1" height="2"/>
<rect x="22" y="356" width="2" height="1"/>
<rect x="112" y="364" width="3" height="1"/>
<rect x="81" y="368" width="1" height="3"/>
<rect x="109" y="372" width="4" height="1"/>
<rect x="108" y="354" width="2" height="1"/>
<rect x="50" y="349" width="1" height="3"/>
<rect x="87" y="362" width="2" height="1"/>
<rect x="69" y="364" width="3" height="1"/>
<rect x="75" y="360" width="1" height="2"/>
<rect x="25" y="355" width="1" height="2"/>
<rect x="88" y="350" width="1" height="2"/>
<rect x="124" y="368" width="2" height="1"/>
<rect x="41" y="366" width="1" height="2"/>
<rect x="123" y="368" width="2" height="1"/>
<rect x="83" y="360" width="4" height="1"/>
<rect x="41" y="364" width="1" height="2"/>
<rect x="48" y="364" width="3" height="1"/>
<rect x="111" y="353" width="3" height="1"/>
<rect x="91" y="362" width="4" height="1"/>
<rect x="58" y="351" width="1" height="2"/>
<rect x="78" y="367" width="4" height="1"/>
<rect x="76" y="355" width="2" height="1"/>
<rect x="45" y="369" width="1" height="2"/>
<rect x="104" y="372" width="3" height="1"/>
<rect x="37" y="368" width="1" height="2"/>
<rect x="79" y="350" width="1" height="3"/>
<rect x="43" y="373" width="3" height="1"/>
<rect x="29" y="363" width="1" height="3"/>
<rect x="24" y="353" width="1" height="2"/>
<rect x="97" y="351" width="1" height="3"/>
<rect x="105" y="353" width="1" height="3"/>
<rect x="107" y="357" width="1" height="3"/>
<rect x="102" y="359" width="1" height="3"/>
<rect x="87" y="371" width="3" height="1"/>
<rect x="73" y="365" width="1" height="2"/>
<rect x="60" y="352" width="2" height="1"/>
<rect x="39" y="362" width="1" height="3"/>
<rect x="18" y="362" width="1" height="3"/>
<rect x="52" y="361" width="4" height="1"/>
<rect x="35" y="359" width="3" height="1"/>
<rect x="34" y="356" width="2" height="1"/>
<rect x="98" y="367" width="2" height="1"/>
<rect x="54" y="369" width="2" height="1"/>
<rect x="91" y="367" width="2" height="1"/>
<rect x="30" y="367" width="4" height="1"/>
<rect x="43" y="376" width="4" height="1"/>
<rect x="21" y="355" width="3" height="1"/>
<rect x="115" y="368" width="1" height="2"/>
<rect x="68" y="357" width="1" height="3"/>
<rect x="35" y="355" width="1" height="2"/>
<rect x="86" y="361" width="1" height="2"/>
<rect x="67" y="361" width="1" height="2"/>
<rect x="23" y="364" width="1" height="3"/>
<rect x="118" y="368" width="3" height="1"/>
<rect x="28" y="362" width="1" height="2"/>
<rect x="71" y="370" width="3" height="1"/>
<rect x="65" y="366" width="1" height="2"/>
<rect x="37" y="363" width="4" height="1"/>
<rect x="43" y="374" width="1" height="2"/>
<rect x="75" y="374" width="1" height="2"/>
<rect x="84" y="361" width="3" height="1"/>
<rect x="79" y="359" width="1" height="2"/>
<rect x="115" y="357" width="2" height="1"/>
<rect x="77" y="353" width="3" height="1"/>
<rect x="105" y="357" width="2" height="1"/>
<rect x="68" y="368" width="1" height="2"/>
<rect x="47" y="362" width="4" height="1"/>
<rect x="39" y="357" width="2" height="1"/>
<rect x="26" y="370" width="4" height="1"/>
<rect x="18" y="357" width="1" height="2"/>
<rect x="79" y="361" width="1" height="2"/>
<rect x="95" y="368" width="3" height="1"/>
<rect x="78" y="358" width="2" height="1"/>
<rect x="46" y="367" width="2" height="1"/>
<rect x="75" y="369" width="2" height="1"/>
<rect x="23" y="353" width="3" height="1"/>
<rect x="119" y="366" width="3" height="1"/>
<rect x="31" y="354" width="2" height="1"/>
<rect x="80" y="371" width="1" height="2"/>
<rect x="46" y="365" width="1" height="2"/>
<rect x="65" y="374" width="1" height="2"/>
<rect x="53" y="361" width="4" height="1"/>
<rect x="64" y="361" width="1" height="2"/>
<rect x="74" y="375" width="1" height="2"/>
<rect x="31" y="372" width="1" height="2"/>
<rect x="122" y="350" width="1" height="3"/>
<rect x="93" y="359" width="2" height="1"/>
<rect x="47" y="354" width="1" height="3"/>
<rect x="99" y="370" width="2" height="1"/>
<rect x="104" y="367" width="1" height="2"/>
<rect x="84" y="360" width="2" height="1"/>
<rect x="70" y="350" width="2" height="1"/>
<rect x="98" y="357" width="1" height="3"/>
<rect x="69" y="362" width="1" height="2"/>
<rect x="103" y="359" width="4" height="1"/>
<rect x="82" y="366" width="1" height="2"/>
<rect x="52" y="350" width="3" height="1"/>
<rect x="71" y="364" width="1" height="3"/>
<rect x="122" y="371" width="1" height="2"/>
<rect x="75" y="371" width="4" height="1"/>
<rect x="20" y="370" width="3" height="1"/>
<rect x="26" y="351" width="4" height="1"/>
<rect x="109" y="374" width="2" height="1"/>
<rect x="47" y="368" width="2" height="1"/>
<rect x="89" y="375" width="1" height="2"/>
<rect x="69" y="351" width="3" height="1"/>
<rect x="121" y="364" width="2" height="1"/>
<rect x="89" y="359" width="1" height="2"/>
<rect x="114" y="366" width="2" height="1"/>
<rect x="107" y="373" width="1" height="3"/>
<rect x="44" y="352" width="3" height="1"/>
<rect x="103" y="351" width="1" height="2"/>
<rect x="85" y="370" width="2" height="1"/>
<rect x="78" y="366" width="1" height="3"/>
<rect x="62" y="360" width="1" height="2"/>
<rect x="50" y="357" width="1" height="3"/>
<rect x="38" y="350" width="4" height="1"/>
<rect x="77" y="364" width="3" height="1"/>
<rect x="81" y="366" width="1" height="2"/>
<rect x="25" y="362" width="1" height="2"/>
<rect x="52" y="372" width="1" height="2"/>
<rect x="113" y="366" width="1" height="2"/>
<rect x="18" y="367" width="3" height="1"/>
<rect x="34" y="366" width="3" height="1"/>
<rect x="96" y="371" width="1" height="2"/>
<rect x="57" y="371" width="3" height="1"/>
<rect x="58" y="361" width="1" height="2"/>
<rect x="44" y="374" width="2" height="1"/>
<rect x="30" y="365" width="4" height="1"/>
<rect x="18" y="359" width="4" height="1"/>
<rect x="26" y="370" width="1" height="3"/>
<rect x="20" y="371" width="1" height="2"/>
<rect x="115" y="359" width="3" height="1"/>
<rect x="86" y="370" width="2" height="1"/>
<rect x="49" y="358" width="1" height="3"/>
<rect x="23" y="360" width="4" height="1"/>
<rect x="94" y="353" width="1" height="3"/>
<rect x="64" y="354" width="1" height="2"/>
<rect x="28" y="359" width="1" height="2"/>
<rect x="105" y="353" width="1" height="2"/>
<rect x="45" y="361" width="4" height="1"/>
<rect x="26" y="375" width="3" height="1"/>
<rect x="19" y="363" width="1" height="3"/>
<rect x="72" y="350" width="4" height="1"/>
<rect x="64" y="365" width="1" height="2"/>
<rect x="41" y="360" width="1" height="3"/>
<rect x="115" y="359" width="1" height="2"/>
<rect x="113" y="353" width="1" height="3"/>
<rect x="106" y="351" width="3" height="1"/>
<rect x="63" y="356" width="3" height="1"/>
<rect x="18" y="366" width="1" height="3"/>
<rect x="26" y="368" width="3" height="1"/>
<rect x="112" y="354" width="3" height="1"/>
<rect x="120" y="365" width="2" height="1"/>
<rect x="26" y="359" width="1" height="2"/>
<rect x="38" y="361" width="4" height="1"/>
<rect x="58" y="370" width="4" height="1"/>
<rect x="113" y="373" width="1" height="3"/>
<rect x="30" y="366" width="3" height="1"/>
<rect x="114" y="364" width="2" height="1"/>
<rect x="120" y="353" width="2" height="1"/>
<rect x="18" y="352" width="3" height="2"/>
<rect x="18" y="360" width="3" height="3"/>
<rect x="18" y="368" width="3" height="3"/>
<rect x="18" y="376" width="3" height="3"/>
<rect x="24" y="352" width="4" height="2"/>
<rect x="44" y="353" width="3" height="2"/>
<rect x="100" y="363" width="4" height="3"/>
<rect x="115" y="371" width="4" height="3"/>
<rect x="30" y="371" width="3" height="3"/>
<rect x="49" y="376" width="4" height="2"/>
<rect x="88" y="376" width="4" height="3"/>
<rect x="105" y="376" width="3" height="2"/>
<rect x="119" y="353" width="3" height="2"/>
<rect x="62" y="383" width="2" height="3"/>
<rect x="82" y="383" width="2" height="3"/>
<rect x="113" y="358" width="10" height="2"/>
<rect x="96" y="367" width="9" height="3"/>
<rect x="43" y="367" width="5" height="3"/>
<rect x="24" y="377" width="100" height="1.5"/>
<rect x="31" y="377" width="1.6" height="10"/>
<rect x="43.5" y="377" width="1.6" height="10"/>
<rect x="54" y="377" width="1.6" height="10"/>
<rect x="64" y="377" width="1.6" height="10"/>
<rect x="73.5" y="377" width="1.6" height="10"/>
<rect x="83" y="377" width="1.6" height="10"/>
<rect x="91" y="377" width="1.6" height="10"/>
<rect x="96" y="377" width="1.6" height="10"/>
<rect x="104.5" y="377" width="1.6" height="10"/>
<rect x="113.5" y="377" width="1.6" height="10"/>
<rect x="118" y="377" width="1.6" height="10"/>
<rect x="33" y="381" width="9" height="2" style="fill:#999"/>
<rect x="34" y="382" width="7" height="1" style="fill:#666"/>
<rect x="45" y="381" width="8" height="2" style="fill:#999"/>
<rect x="46" y="382" width="6" height="1" style="fill:#666"/>
<rect x="56" y="381" width="7" height="2" style="fill:#999"/>
<rect x="57" y="382" width="5" height="1" style="fill:#666"/>
<rect x="66" y="381" width="6" height="2" style="fill:#999"/>
<rect x="67" y="382" width="4" height="1" style="fill:#666"/>
<rect x="76" y="381" width="6" height="2" style="fill:#999"/>
<rect x="77" y="382" width="4" height="1" style="fill:#666"/>
<rect x="85" y="381" width="5" height="2" style="fill:#999"/>
<rect x="86" y="382" width="3" height="1" style="fill:#666"/>
<rect x="98" y="381" width="5" height="2" style="fill:#999"/>
<rect x="99" y="382" width="3" height="1" style="fill:#666"/>
<rect x="107" y="381" width="5" height="2" style="fill:#999"/>
<rect x="108" y="382" width="3" height="1" style="fill:#666"/>
<rect x="34" y="379" width="4" height="1" style="fill:#777"/>
<rect x="42" y="379" width="4" height="1" style="fill:#777"/>
<rect x="58" y="379" width="3" height="1" style="fill:#777"/>
<rect x="65" y="379" width="1" height="1" style="fill:#777"/>
<rect x="74" y="379" width="1" height="1" style="fill:#777"/>
<rect x="79" y="379" width="4" height="1" style="fill:#777"/>
<rect x="15.5" y="348.6" width="3" height="2.5"/>
<rect x="15.5" y="356.2" width="3" height="2.5"/>
<rect x="15.5" y="364" width="3" height="2.5"/>
<rect x="15.5" y="369.8" width="3" height="2.5"/>
<rect x="15.5" y="378.8" width="3" height="2.5"/>
<rect x="15.5" y="385.6" width="3" height="2.5"/>
<rect x="126.5" y="351" width="2.5" height="2.5"/>
<rect x="126.5" y="356" width="2.5" height="2.5"/>
<rect x="126.5" y="360" width="2.5" height="2.5"/>
<rect x="126.5" y="365" width="2.5" height="2.5"/>
<rect x="126.5" y="371" width="2.5" height="2.5"/>
<rect x="126.5" y="377" width="2.5" height="2.5"/>
<rect x="126.5" y="385" width="2.5" height="2.5"/>
<rect x="123" y="349" width="1" height="38"/>
<rect x="123" y="352" width="5" height="1"/>
<rect x="123" y="357" width="5" height="1"/>
<rect x="123" y="361" width="5" height="1"/>
<rect x="123" y="366" width="5" height="1"/>
<rect x="123" y="372" width="5" height="1"/>
<rect x="123" y="378" width="5" height="1"/>
<rect x="123" y="386" width="5" height="1"/>
</g>
<g transform="translate(231.8,65)">
<rect x="42.5" y="387.5" width="8" height="3.5" class="o"/>
<rect x="44" y="389" width="2" height="1.5"/>
<rect x="47" y="389" width="2" height="1.5"/>
<rect x="64.5" y="387.5" width="18" height="3.5" class="o"/>
<rect x="66" y="389" width="2" height="1.5"/>
<rect x="79" y="389" width="2" height="1.5"/>
<rect x="92.5" y="387.5" width="9" height="3.5" class="o"/>
<rect x="94" y="389" width="2" height="1.5"/>
<rect x="98" y="389" width="2" height="1.5"/>
<line x1="122.5" y1="383" x2="122.5" y2="394"/>
<rect x="31" y="393" width="1" height="5"/>
<rect x="34" y="393" width="1" height="5"/>
<rect x="37" y="393" width="1" height="5"/>
<rect x="40" y="393" width="1" height="5"/>
<rect x="43" y="393" width="1" height="5"/>
<rect x="46" y="393" width="1" height="5"/>
<rect x="49" y="393" width="1" height="5"/>
<rect x="52" y="393" width="1" height="5"/>
<rect x="55" y="393" width="1" height="5"/>
<rect x="58" y="393" width="1" height="5"/>
<rect x="61" y="393" width="1" height="5"/>
<rect x="64" y="393" width="1" height="5"/>
<rect x="67" y="393" width="1" height="5"/>
<rect x="70" y="393" width="1" height="5"/>
<rect x="73" y="393" width="1" height="5"/>
<rect x="76" y="393" width="1" height="5"/>
<rect x="79" y="393" width="1" height="5"/>
<rect x="82" y="393" width="1" height="5"/>
<rect x="85" y="393" width="1" height="5"/>
<rect x="88" y="393" width="1" height="5"/>
<rect x="91" y="393" width="1" height="5"/>
<rect x="94" y="393" width="1" height="5"/>
<rect x="97" y="393" width="1" height="5"/>
<rect x="100" y="393" width="1" height="5"/>
<rect x="103" y="393" width="1" height="5"/>
<rect x="106" y="393" width="1" height="5"/>
<rect x="109" y="393" width="1" height="5"/>
<rect x="112" y="393" width="1" height="5"/>
<rect x="34" y="395" width="3" height="1"/>
<rect x="40" y="395" width="3" height="1"/>
<rect x="47" y="395" width="3" height="1"/>
<rect x="52" y="395" width="3" height="1"/>
<rect x="58" y="395" width="3" height="1"/>
<rect x="66" y="395" width="3" height="1"/>
<rect x="75" y="395" width="3" height="1"/>
<rect x="86" y="395" width="3" height="1"/>
<rect x="98" y="395" width="3" height="1"/>
<rect x="106" y="395" width="3" height="1"/>
<rect x="112" y="395" width="3" height="1"/>
<rect x="31" y="398" width="83" height="2"/>
<line x1="31" y1="401.5" x2="114" y2="401.5"/>
<rect x="31" y="398" width="1" height="6"/>
<rect x="30" y="403.5" width="3" height="3"/>
<rect x="40" y="398" width="1" height="6"/>
<rect x="39" y="403.5" width="3" height="3"/>
<rect x="49" y="398" width="1" height="6"/>
<rect x="48" y="403.5" width="3" height="3"/>
<rect x="53" y="398" width="1" height="6"/>
<rect x="52" y="403.5" width="3" height="3"/>
<rect x="63" y="398" width="1" height="6"/>
<rect x="62" y="403.5" width="3" height="3"/>
<rect x="71" y="398" width="1" height="6"/>
<rect x="70" y="403.5" width="3" height="3"/>
<rect x="81" y="398" width="1" height="6"/>
<rect x="80" y="403.5" width="3" height="3"/>
<rect x="90" y="398" width="1" height="6"/>
<rect x="89" y="403.5" width="3" height="3"/>
<rect x="95" y="398" width="1" height="6"/>
<rect x="94" y="403.5" width="3" height="3"/>
<rect x="103" y="398" width="1" height="6"/>
<rect x="102" y="403.5" width="3" height="3"/>
<rect x="112" y="398" width="1" height="6"/>
<rect x="111" y="403.5" width="3" height="3"/>
<rect x="116" y="398" width="1" height="6"/>
<rect x="115" y="403.5" width="3" height="3"/>
<line x1="31" y1="393" x2="31" y2="403"/>
</g>
<rect x="263" y="328.5" width="82" height="3"/>
<rect x="266" y="329.5" width="2" height="1" class="w"/>
<rect x="270" y="329.5" width="2" height="1" class="w"/>
<rect x="274" y="329.5" width="2" height="1" class="w"/>
<rect x="278" y="329.5" width="2" height="1" class="w"/>
<rect x="282" y="329.5" width="2" height="1" class="w"/>
<rect x="286" y="329.5" width="2" height="1" class="w"/>
<rect x="290" y="329.5" width="2" height="1" class="w"/>
<rect x="294" y="329.5" width="2" height="1" class="w"/>
<rect x="298" y="329.5" width="2" height="1" class="w"/>
<rect x="302" y="329.5" width="2" height="1" class="w"/>
<rect x="306" y="329.5" width="2" height="1" class="w"/>
<rect x="310" y="329.5" width="2" height="1" class="w"/>
<rect x="314" y="329.5" width="2" height="1" class="w"/>
<rect x="318" y="329.5" width="2" height="1" class="w"/>
<rect x="322" y="329.5" width="2" height="1" class="w"/>
<rect x="326" y="329.5" width="2" height="1" class="w"/>
<rect x="330" y="329.5" width="2" height="1" class="w"/>
<rect x="334" y="329.5" width="2" height="1" class="w"/>
<rect x="338" y="329.5" width="2" height="1" class="w"/>
<rect x="342" y="329.5" width="2" height="1" class="w"/>
<line x1="263.5" y1="325.5" x2="263.5" y2="339"/>
<rect x="262" y="324.5" width="3" height="2.5"/>
<line x1="263.5" y1="387.5" x2="263.5" y2="393"/>
<rect x="262" y="392" width="3" height="2.5"/>
<line x1="268" y1="325.5" x2="268" y2="339"/>
<rect x="266.5" y="324.5" width="3" height="2.5"/>
<line x1="268" y1="387.5" x2="268" y2="393"/>
<rect x="266.5" y="392" width="3" height="2.5"/>
<line x1="272" y1="325.5" x2="272" y2="339"/>
<rect x="270.5" y="324.5" width="3" height="2.5"/>
<line x1="272" y1="387.5" x2="272" y2="393"/>
<rect x="270.5" y="392" width="3" height="2.5"/>
<line x1="281" y1="325.5" x2="281" y2="339"/>
<rect x="279.5" y="324.5" width="3" height="2.5"/>
<line x1="281" y1="387.5" x2="281" y2="393"/>
<rect x="279.5" y="392" width="3" height="2.5"/>
<line x1="289" y1="325.5" x2="289" y2="339"/>
<rect x="287.5" y="324.5" width="3" height="2.5"/>
<line x1="289" y1="387.5" x2="289" y2="393"/>
<rect x="287.5" y="392" width="3" height="2.5"/>
<line x1="294.5" y1="325.5" x2="294.5" y2="339"/>
<rect x="293" y="324.5" width="3" height="2.5"/>
<line x1="294.5" y1="387.5" x2="294.5" y2="393"/>
<rect x="293" y="392" width="3" height="2.5"/>
<line x1="301.5" y1="325.5" x2="301.5" y2="339"/>
<rect x="300" y="324.5" width="3" height="2.5"/>
<line x1="301.5" y1="387.5" x2="301.5" y2="393"/>
<rect x="300" y="392" width="3" height="2.5"/>
<line x1="307.5" y1="325.5" x2="307.5" y2="339"/>
<rect x="306" y="324.5" width="3" height="2.5"/>
<line x1="307.5" y1="387.5" x2="307.5" y2="393"/>
<rect x="306" y="392" width="3" height="2.5"/>
<line x1="314" y1="325.5" x2="314" y2="339"/>
<rect x="312.5" y="324.5" width="3" height="2.5"/>
<line x1="314" y1="387.5" x2="314" y2="393"/>
<rect x="312.5" y="392" width="3" height="2.5"/>
<line x1="319.5" y1="325.5" x2="319.5" y2="339"/>
<rect x="318" y="324.5" width="3" height="2.5"/>
<line x1="319.5" y1="387.5" x2="319.5" y2="393"/>
<rect x="318" y="392" width="3" height="2.5"/>
<line x1="327.5" y1="325.5" x2="327.5" y2="339"/>
<rect x="326" y="324.5" width="3" height="2.5"/>
<line x1="327.5" y1="387.5" x2="327.5" y2="393"/>
<rect x="326" y="392" width="3" height="2.5"/>
<line x1="336.5" y1="325.5" x2="336.5" y2="339"/>
<rect x="335" y="324.5" width="3" height="2.5"/>
<line x1="336.5" y1="387.5" x2="336.5" y2="393"/>
<rect x="335" y="392" width="3" height="2.5"/>
<line x1="341" y1="325.5" x2="341" y2="339"/>
<rect x="339.5" y="324.5" width="3" height="2.5"/>
<line x1="341" y1="387.5" x2="341" y2="393"/>
<rect x="339.5" y="392" width="3" height="2.5"/>
<line x1="345.5" y1="325.5" x2="345.5" y2="339"/>
<rect x="344" y="324.5" width="3" height="2.5"/>
<line x1="345.5" y1="387.5" x2="345.5" y2="393"/>
<rect x="344" y="392" width="3" height="2.5"/>
<line x1="275.5" y1="331.5" x2="275.5" y2="337.5"/>
<line x1="279.5" y1="331.5" x2="279.5" y2="337.5"/>
<line x1="283.5" y1="331.5" x2="283.5" y2="337.5"/>
<line x1="287.5" y1="331.5" x2="287.5" y2="337.5"/>
<line x1="291.5" y1="331.5" x2="291.5" y2="337.5"/>
<line x1="295.5" y1="331.5" x2="295.5" y2="337.5"/>
<line x1="299.5" y1="331.5" x2="299.5" y2="337.5"/>
<line x1="303.5" y1="331.5" x2="303.5" y2="337.5"/>
<line x1="307.5" y1="331.5" x2="307.5" y2="337.5"/>
<line x1="311.5" y1="331.5" x2="311.5" y2="337.5"/>
<line x1="315.5" y1="331.5" x2="315.5" y2="337.5"/>
<line x1="319.5" y1="331.5" x2="319.5" y2="337.5"/>
<line x1="323.5" y1="331.5" x2="323.5" y2="337.5"/>
<line x1="327.5" y1="331.5" x2="327.5" y2="337.5"/>
<line x1="331.5" y1="331.5" x2="331.5" y2="337.5"/>
<line x1="335.5" y1="331.5" x2="335.5" y2="337.5"/>
<line x1="339.5" y1="331.5" x2="339.5" y2="337.5"/>
<line x1="263" y1="388" x2="345" y2="388"/>
<line x1="263" y1="390.5" x2="345" y2="390.5"/>
<rect x="265" y="378.5" width="1" height="9"/>
<rect x="270" y="379.5" width="1" height="8"/>
<rect x="270" y="379.5" width="3" height="1"/>
<rect x="275" y="383.5" width="1" height="4"/>
<rect x="275" y="383.5" width="3" height="1"/>
<rect x="280" y="378.5" width="1" height="9"/>
<rect x="285" y="383.5" width="1" height="4"/>
<rect x="285" y="383.5" width="3" height="1"/>
<rect x="290" y="383.5" width="1" height="4"/>
<rect x="295" y="381.5" width="1" height="6"/>
<rect x="300" y="378.5" width="1" height="9"/>
<rect x="305" y="378.5" width="1" height="9"/>
<rect x="305" y="378.5" width="3" height="1"/>
<rect x="310" y="381.5" width="1" height="6"/>
<rect x="310" y="381.5" width="3" height="1"/>
<rect x="315" y="381.5" width="1" height="6"/>
<rect x="320" y="383.5" width="1" height="4"/>
<rect x="325" y="378.5" width="1" height="9"/>
<rect x="330" y="383.5" width="1" height="4"/>
<rect x="335" y="381.5" width="1" height="6"/>
<rect x="340" y="378.5" width="1" height="9"/>
<rect x="270" y="379" width="3" height="2"/>
<rect x="282" y="381" width="4" height="2"/>
<rect x="300" y="378" width="3" height="3"/>
<rect x="316" y="380" width="4" height="2"/>
<rect x="330" y="379" width="3" height="2"/>
<rect x="338" y="382" width="3" height="2"/>
<rect x="290" y="383" width="5" height="1"/>
<rect x="308" y="383" width="5" height="1"/>
<rect x="254" y="339" width="101" height="1"/>
<rect x="247" y="338" width="3" height="2.5"/>
<rect x="357.5" y="338" width="3" height="2.5"/>
<rect x="254" y="346" width="101" height="1"/>
<rect x="247" y="345" width="3" height="2.5"/>
<rect x="357.5" y="345" width="3" height="2.5"/>
<rect x="254" y="351" width="101" height="1"/>
<rect x="247" y="350" width="3" height="2.5"/>
<rect x="357.5" y="350" width="3" height="2.5"/>
<rect x="254" y="357" width="101" height="1"/>
<rect x="247" y="356" width="3" height="2.5"/>
<rect x="357.5" y="356" width="3" height="2.5"/>
<rect x="254" y="362" width="101" height="1"/>
<rect x="247" y="361" width="3" height="2.5"/>
<rect x="357.5" y="361" width="3" height="2.5"/>
<rect x="254" y="369" width="101" height="1"/>
<rect x="247" y="368" width="3" height="2.5"/>
<rect x="357.5" y="368" width="3" height="2.5"/>
<rect x="254" y="376" width="101" height="1"/>
<rect x="247" y="375" width="3" height="2.5"/>
<rect x="357.5" y="375" width="3" height="2.5"/>
<rect x="253" y="337" width="1" height="41"/>
<rect x="254" y="337" width="1" height="41"/>
<rect x="263" y="337" width="1" height="41"/>
<rect x="345" y="337" width="1" height="41"/>
<rect x="355" y="337" width="1" height="41"/>
<rect x="356.5" y="337" width="1" height="41"/>
<rect x="271" y="339" width="1" height="37"/>
<rect x="290" y="339" width="1" height="37"/>
<rect x="300" y="339" width="1" height="37"/>
<rect x="310" y="339" width="1" height="37"/>
<rect x="325" y="339" width="1" height="37"/>
<rect x="336" y="339" width="1" height="37"/>
<rect x="271" y="339" width="18" height="8"/>
<rect x="290" y="339" width="6" height="8"/>
<rect x="308" y="339" width="12" height="8"/>
<rect x="320" y="339" width="17" height="8"/>
<rect x="310" y="341" width="2" height="2" class="w"/>
<rect x="314" y="343" width="3" height="1" class="w"/>
<rect x="302" y="341" width="1" height="1" class="w"/>
<rect x="323" y="341" width="2" height="1" class="w"/>
<rect x="266" y="348" width="4" height="3"/>
<rect x="284" y="350" width="3" height="6"/>
<rect x="293" y="352" width="6" height="2"/>
<rect x="306" y="348" width="3" height="4"/>
<rect x="316" y="352" width="6" height="2"/>
<rect x="330" y="350" width="4" height="5"/>
<rect x="340" y="348" width="3" height="2"/>
<rect x="274" y="355" width="8" height="1"/>
<rect x="300" y="355" width="10" height="1"/>
<rect x="326" y="356" width="4" height="1"/>
<rect x="329" y="349" width="1" height="3"/>
<rect x="268" y="351" width="2" height="1"/>
<rect x="283" y="354" width="1" height="2"/>
<rect x="274" y="353" width="1" height="2"/>
<rect x="290" y="356" width="2" height="1"/>
<rect x="304" y="353" width="3" height="1"/>
<rect x="298" y="351" width="1" height="2"/>
<rect x="320" y="348" width="1" height="2"/>
<rect x="268" y="353" width="1" height="2"/>
<rect x="324" y="354" width="2" height="1"/>
<rect x="274" y="354" width="1" height="2"/>
<rect x="277" y="352" width="1" height="2"/>
<rect x="333" y="348" width="1" height="3"/>
<rect x="300" y="351" width="1" height="2"/>
<rect x="294" y="353" width="2" height="1"/>
<rect x="281" y="351" width="2" height="1"/>
<rect x="289" y="350" width="2" height="1"/>
<rect x="266" y="355" width="1" height="3"/>
<rect x="292" y="355" width="2" height="1"/>
<rect x="298" y="349" width="1" height="3"/>
<rect x="305" y="357" width="3" height="1"/>
<rect x="317" y="349" width="1" height="3"/>
<rect x="266" y="356" width="1" height="3"/>
<rect x="340" y="357" width="1" height="2"/>
<rect x="268" y="352" width="1" height="3"/>
<rect x="313" y="357" width="3" height="1"/>
<rect x="302" y="350" width="1" height="3"/>
<rect x="320" y="348" width="5" height="1"/>
<rect x="311" y="355" width="1" height="3"/>
<rect x="326" y="356" width="2" height="1"/>
<rect x="338" y="350" width="2" height="1"/>
<rect x="277" y="355" width="1" height="2"/>
<rect x="278" y="352" width="5" height="1"/>
<rect x="271" y="352" width="4" height="1"/>
<rect x="307" y="356" width="5" height="1"/>
<rect x="308" y="352" width="2" height="1"/>
<rect x="334" y="353" width="1" height="2"/>
<rect x="322" y="354" width="5" height="1"/>
<rect x="300" y="352" width="1" height="2"/>
<rect x="263" y="358.5" width="82" height="18"/>
<rect x="318" y="359" width="1" height="1" class="w"/>
<rect x="283" y="366" width="1" height="1" class="w"/>
<rect x="294" y="374" width="1" height="1" class="w"/>
<rect x="310" y="367" width="1" height="1" class="w"/>
<rect x="283" y="369" width="1" height="1" class="w"/>
<rect x="271" y="360" width="1" height="1" class="w"/>
<rect x="297" y="368" width="1" height="1" class="w"/>
<rect x="270" y="360" width="1" height="1" class="w"/>
<rect x="296" y="369" width="6" height="5.5" class="w"/>
<rect x="304.5" y="369" width="7" height="5.5" class="w"/>
<rect x="288" y="361" width="3" height="2" class="w"/>
<rect x="322" y="371" width="3" height="4" class="w"/>
<rect x="310" y="362" width="2" height="2" class="w"/>
<rect x="277" y="364" width="3" height="1" class="w"/>
<rect x="297" y="370" width="4" height="1"/>
<rect x="305.5" y="370" width="5" height="1"/>
<rect x="296" y="395" width="19" height="1.5" style="fill:#222"/>
<line x1="295" y1="397.5" x2="315" y2="397.5"/>
<rect x="349" y="464" width="10" height="4" style="fill:#333"/>
<line x1="352.5" y1="336" x2="352.5" y2="380"/>
<rect x="351" y="336" width="3" height="2"/>
<rect x="351" y="378" width="3" height="2"/>
<line x1="346" y1="381.5" x2="356" y2="381.5"/>
<line x1="352.5" y1="412" x2="352.5" y2="456"/>
<rect x="351" y="412" width="3" height="2"/>
<rect x="351" y="454" width="3" height="2"/>
<line x1="346" y1="457.5" x2="356" y2="457.5"/>
<rect x="395" y="328" width="5" height="24"/>
<rect x="396" y="331" width="2.5" height="2" class="w"/>
<rect x="396" y="340" width="2.5" height="2" class="w"/>
<line x1="378" y1="336.5" x2="403" y2="336.5"/>
<line x1="378" y1="341" x2="396" y2="341"/>
<rect x="380.5" y="336.5" width="14" height="5" class="o"/>
<rect x="372" y="335" width="6" height="2"/>
<line x1="375" y1="336" x2="377" y2="342"/>
<rect x="382" y="327" width="8" height="1" style="fill:#444"/>
<rect x="382" y="329" width="8" height="1" style="fill:#444"/>
<rect x="382" y="331" width="8" height="1" style="fill:#444"/>
<line x1="390.5" y1="330" x2="390.5" y2="348"/>
<line x1="378" y1="348.5" x2="403" y2="348.5"/>
<rect x="378" y="347" width="2" height="3"/>
<rect x="388" y="352" width="5" height="3"/>
<rect x="412.5" y="332.5" width="4" height="20"/>
<rect x="408" y="332" width="5" height="2"/>
<rect x="408" y="348" width="5" height="2"/>
<rect x="417" y="333" width="8.5" height="1" style="fill:#444"/>
<rect x="417" y="337" width="8.5" height="1" style="fill:#444"/>
<rect x="417" y="340" width="8.5" height="1" style="fill:#444"/>
<rect x="417" y="343" width="8.5" height="1" style="fill:#444"/>
<rect x="417" y="346" width="8.5" height="1" style="fill:#444"/>
<line x1="424" y1="330.5" x2="446" y2="330.5"/>
<rect x="425.5" y="335" width="3" height="20"/>
<rect x="430" y="339" width="7" height="1" style="fill:#444"/>
<rect x="430" y="341" width="7" height="1" style="fill:#444"/>
<rect x="430" y="343" width="7" height="1" style="fill:#444"/>
<rect x="430" y="345" width="7" height="1" style="fill:#444"/>
<line x1="428" y1="345.5" x2="438" y2="345.5"/>
<rect x="440" y="330" width="1.5" height="35"/>
<rect x="442" y="330" width="1.5" height="35"/>
<rect x="428.5" y="355.5" width="11" height="4.5" class="o"/>
<line x1="423" y1="361.5" x2="447" y2="361.5"/>
<rect x="423" y="360.5" width="2" height="2"/>
<rect x="445" y="360" width="3" height="3"/>
<rect x="431.5" y="364" width="6" height="3.4"/>
<line x1="380" y1="358.5" x2="387" y2="358.5"/>
<line x1="386.5" y1="359" x2="386.5" y2="375"/>
<rect x="386" y="361" width="4" height="2"/>
<rect x="373" y="366" width="7.5" height="1" style="fill:#444"/>
<rect x="373" y="369" width="7.5" height="1" style="fill:#444"/>
<rect x="373" y="371" width="7.5" height="1" style="fill:#444"/>
<rect x="373" y="373" width="7.5" height="1" style="fill:#444"/>
<rect x="364.5" y="375" width="4.5" height="2"/>
<line x1="371" y1="375" x2="371" y2="383"/>
<rect x="382.8" y="372" width="4.7" height="21"/>
<rect x="382.8" y="375" width="16.6" height="3.4"/>
<rect x="391.5" y="369.5" width="8" height="5.5" class="o"/>
<rect x="375.5" y="375.5" width="7" height="12" class="o"/>
<rect x="377" y="377" width="3" height="3"/>
<rect x="377" y="377.8" width="3" height="1.4" class="w"/>
<line x1="375" y1="381.5" x2="383" y2="381.5"/>
<line x1="375" y1="387.5" x2="390" y2="387.5"/>
<rect x="380" y="393" width="6" height="3"/>
<rect x="400.7" y="358" width="2" height="24"/>
<rect x="403.5" y="358" width="2" height="24"/>
<line x1="400.5" y1="360" x2="405.5" y2="360"/>
<line x1="400.5" y1="364" x2="405.5" y2="364"/>
<line x1="400.5" y1="368" x2="405.5" y2="368"/>
<line x1="400.5" y1="372" x2="405.5" y2="372"/>
<line x1="400.5" y1="376" x2="405.5" y2="376"/>
<line x1="400.5" y1="380" x2="405.5" y2="380"/>
<line x1="406" y1="358.5" x2="412" y2="357"/>
<rect x="407" y="357" width="5" height="1.2"/>
<line x1="406" y1="375.5" x2="412" y2="375.5"/>
<rect x="411.5" y="384" width="6" height="1" style="fill:#444"/>
<rect x="411.5" y="388" width="6" height="1" style="fill:#444"/>
<rect x="411.5" y="391" width="6" height="1" style="fill:#444"/>
<rect x="411.5" y="395" width="6" height="1" style="fill:#444"/>
<rect x="407.5" y="399" width="6" height="2"/>
<line x1="412.5" y1="400" x2="412.5" y2="405"/>
<rect x="417" y="383" width="3" height="22"/>
<line x1="424.5" y1="381" x2="424.5" y2="410"/>
<line x1="417" y1="394.5" x2="431" y2="394.5"/>
<line x1="417" y1="402" x2="431" y2="402"/>
<line x1="417" y1="405.5" x2="431" y2="405.5"/>
<rect x="430.5" y="383.5" width="13.5" height="26" class="o"/>
<rect x="432" y="383" width="2.5" height="27"/>
<rect x="430.5" y="401.7" width="13.5" height="1.8"/>
<line x1="414" y1="410.5" x2="447.5" y2="410.5"/>
<rect x="445.7" y="383" width="4" height="22"/>
<rect x="446.7" y="386" width="2" height="2" class="w"/>
<rect x="446.7" y="392" width="2" height="2" class="w"/>
<rect x="446.7" y="398" width="2" height="2" class="w"/>
<line x1="450" y1="383.5" x2="457" y2="383.5"/>
<line x1="450.5" y1="383" x2="450.5" y2="400"/>
<line x1="450" y1="399.5" x2="457" y2="399.5"/>
<line x1="432" y1="412" x2="440" y2="420"/>
<rect x="434" y="415" width="5" height="4"/>
<rect x="383" y="402" width="11" height="1" style="fill:#444"/>
<rect x="383" y="405" width="11" height="1" style="fill:#444"/>
<rect x="383" y="408" width="11" height="1" style="fill:#444"/>
<rect x="383" y="411" width="11" height="1" style="fill:#444"/>
<rect x="383" y="414" width="11" height="1" style="fill:#444"/>
<rect x="388" y="401" width="3" height="16"/>
<rect x="373" y="410" width="9" height="2"/>
<line x1="376" y1="413.5" x2="394" y2="413.5"/>
<rect x="380" y="417" width="4" height="3"/>
<line x1="384" y1="418" x2="389" y2="424"/>
<rect x="385" y="424" width="6" height="3"/>
<rect x="374.7" y="432" width="26.3" height="2"/>
<rect x="374.7" y="432" width="2.3" height="21"/>
<line x1="374.7" y1="453" x2="401" y2="453"/>
<line x1="382.5" y1="427" x2="382.5" y2="455"/>
<rect x="390" y="432" width="1.8" height="31"/>
<line x1="377" y1="443.5" x2="401" y2="443.5"/>
<rect x="388" y="445.8" width="13" height="2.2"/>
<rect x="384" y="436" width="5" height="5" style="fill:#777"/>
<rect x="384" y="437" width="5" height="3" class="w"/>
<rect x="386" y="438" width="2" height="1" style="fill:#555"/>
<line x1="400.5" y1="432" x2="400.5" y2="453"/>
<rect x="402" y="430" width="1.5" height="23"/>
<rect x="404" y="430" width="1.5" height="23"/>
<line x1="402" y1="432" x2="405.5" y2="432"/>
<line x1="402" y1="436" x2="405.5" y2="436"/>
<line x1="402" y1="440" x2="405.5" y2="440"/>
<line x1="402" y1="444" x2="405.5" y2="444"/>
<line x1="402" y1="448" x2="405.5" y2="448"/>
<line x1="402" y1="452" x2="405.5" y2="452"/>
<line x1="408.5" y1="432" x2="408.5" y2="447"/>
<line x1="406" y1="431.5" x2="414" y2="431.5"/>
<line x1="406" y1="447.5" x2="414" y2="447.5"/>
<rect x="367" y="431" width="8" height="1" style="fill:#444"/>
<rect x="367" y="435" width="8" height="1" style="fill:#444"/>
<rect x="367" y="438" width="8" height="1" style="fill:#444"/>
<rect x="367" y="442" width="8" height="1" style="fill:#444"/>
<rect x="364" y="447" width="6" height="2"/>
<line x1="369" y1="448" x2="371" y2="452"/>
<line x1="371" y1="459.5" x2="403" y2="459.5"/>
<rect x="389" y="464" width="8" height="4"/>
<rect x="418" y="432" width="10" height="1" style="fill:#444"/>
<rect x="418" y="435" width="10" height="1" style="fill:#444"/>
<rect x="418" y="438" width="10" height="1" style="fill:#444"/>
<rect x="418" y="442" width="10" height="1" style="fill:#444"/>
<rect x="418" y="446" width="10" height="1" style="fill:#444"/>
<rect x="422.3" y="440" width="6" height="22"/>
<rect x="422.3" y="441.5" width="17.7" height="4.3"/>
<rect x="441.3" y="428" width="2" height="24"/>
<rect x="444.5" y="428" width="2" height="24"/>
<line x1="441" y1="430" x2="447" y2="430"/>
<line x1="441" y1="434" x2="447" y2="434"/>
<line x1="441" y1="438" x2="447" y2="438"/>
<line x1="441" y1="442" x2="447" y2="442"/>
<line x1="441" y1="446" x2="447" y2="446"/>
<line x1="441" y1="450" x2="447" y2="450"/>
<line x1="447" y1="428.5" x2="453" y2="428.5"/>
<line x1="452.5" y1="428" x2="452.5" y2="446"/>
<line x1="447" y1="446.5" x2="453" y2="446.5"/>
<rect x="424" y="462" width="4" height="2"/>
<rect x="425" y="464" width="7" height="3"/>
</svg>
</body></html>
